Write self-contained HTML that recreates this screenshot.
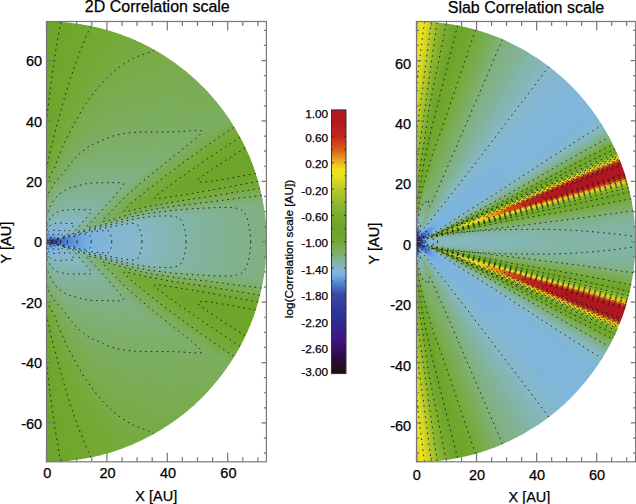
<!DOCTYPE html>
<html><head><meta charset="utf-8"><title>Correlation scale</title>
<style>
html,body{margin:0;padding:0;background:#fff;}
body{width:636px;height:504px;overflow:hidden;}
svg{display:block;font-family:"Liberation Sans",sans-serif;}
text{stroke:#000;stroke-width:0.25px;}
.tk{font-size:14.5px;fill:#000;}
.al{font-size:14.5px;fill:#000;}
.ti{font-size:16px;fill:#000;}
.cb{font-size:11.8px;fill:#000;}
.cbl{font-size:11.8px;fill:#000;}
</style></head><body>
<svg width="636" height="504" viewBox="0 0 636 504">
<rect width="636" height="504" fill="#fff"/>
<defs><radialGradient id="L0" gradientUnits="userSpaceOnUse" cx="0" cy="0" r="220.2"><stop offset="0.000" stop-color="#181010"/><stop offset="0.008" stop-color="#3f157e"/><stop offset="0.016" stop-color="#312b97"/><stop offset="0.027" stop-color="#3038a0"/><stop offset="0.041" stop-color="#3745a6"/><stop offset="0.058" stop-color="#425cb4"/><stop offset="0.075" stop-color="#4e76c6"/><stop offset="0.096" stop-color="#5585d0"/><stop offset="0.123" stop-color="#5e94d9"/><stop offset="0.158" stop-color="#6ba3de"/><stop offset="0.199" stop-color="#79b3e4"/><stop offset="0.247" stop-color="#7eb5db"/><stop offset="0.302" stop-color="#81b6d3"/><stop offset="0.370" stop-color="#84b7cd"/><stop offset="0.453" stop-color="#86b8c4"/><stop offset="0.549" stop-color="#84b6b4"/><stop offset="0.658" stop-color="#82b4a5"/><stop offset="0.782" stop-color="#81b396"/><stop offset="0.905" stop-color="#81b289"/><stop offset="1.000" stop-color="#80b180"/></radialGradient><radialGradient id="L1" gradientUnits="userSpaceOnUse" cx="0" cy="0" r="220.2"><stop offset="0.000" stop-color="#181010"/><stop offset="0.008" stop-color="#3f157e"/><stop offset="0.016" stop-color="#302b97"/><stop offset="0.027" stop-color="#3038a0"/><stop offset="0.041" stop-color="#3745a6"/><stop offset="0.058" stop-color="#425cb4"/><stop offset="0.075" stop-color="#4e76c6"/><stop offset="0.096" stop-color="#5585d0"/><stop offset="0.123" stop-color="#5e94d9"/><stop offset="0.158" stop-color="#6ba3de"/><stop offset="0.199" stop-color="#79b3e4"/><stop offset="0.247" stop-color="#7eb5db"/><stop offset="0.302" stop-color="#81b6d3"/><stop offset="0.370" stop-color="#84b7cd"/><stop offset="0.453" stop-color="#86b8c4"/><stop offset="0.549" stop-color="#84b6b4"/><stop offset="0.658" stop-color="#82b4a5"/><stop offset="0.782" stop-color="#81b396"/><stop offset="0.905" stop-color="#81b289"/><stop offset="1.000" stop-color="#80b180"/></radialGradient><radialGradient id="L2" gradientUnits="userSpaceOnUse" cx="0" cy="0" r="220.2"><stop offset="0.000" stop-color="#181010"/><stop offset="0.008" stop-color="#3f157e"/><stop offset="0.016" stop-color="#302b97"/><stop offset="0.027" stop-color="#3038a0"/><stop offset="0.041" stop-color="#3745a6"/><stop offset="0.058" stop-color="#425cb4"/><stop offset="0.075" stop-color="#4e76c6"/><stop offset="0.096" stop-color="#5585d0"/><stop offset="0.123" stop-color="#5e94d9"/><stop offset="0.158" stop-color="#6ba3de"/><stop offset="0.199" stop-color="#79b3e4"/><stop offset="0.247" stop-color="#7eb5db"/><stop offset="0.302" stop-color="#81b6d3"/><stop offset="0.370" stop-color="#84b7cd"/><stop offset="0.453" stop-color="#86b8c4"/><stop offset="0.549" stop-color="#84b6b4"/><stop offset="0.658" stop-color="#82b4a5"/><stop offset="0.782" stop-color="#81b396"/><stop offset="0.905" stop-color="#81b289"/><stop offset="1.000" stop-color="#80b180"/></radialGradient><radialGradient id="L3" gradientUnits="userSpaceOnUse" cx="0" cy="0" r="220.2"><stop offset="0.000" stop-color="#181010"/><stop offset="0.008" stop-color="#3f157e"/><stop offset="0.016" stop-color="#302b97"/><stop offset="0.027" stop-color="#3038a0"/><stop offset="0.041" stop-color="#3745a6"/><stop offset="0.058" stop-color="#425cb4"/><stop offset="0.075" stop-color="#4e76c6"/><stop offset="0.096" stop-color="#5585d0"/><stop offset="0.123" stop-color="#5e94d9"/><stop offset="0.158" stop-color="#6ba3de"/><stop offset="0.199" stop-color="#79b3e4"/><stop offset="0.247" stop-color="#7eb5db"/><stop offset="0.302" stop-color="#81b6d3"/><stop offset="0.370" stop-color="#84b7cd"/><stop offset="0.453" stop-color="#86b8c4"/><stop offset="0.549" stop-color="#84b6b4"/><stop offset="0.658" stop-color="#82b4a4"/><stop offset="0.782" stop-color="#81b396"/><stop offset="0.905" stop-color="#81b289"/><stop offset="1.000" stop-color="#80b17f"/></radialGradient><radialGradient id="L4" gradientUnits="userSpaceOnUse" cx="0" cy="0" r="220.2"><stop offset="0.000" stop-color="#181010"/><stop offset="0.008" stop-color="#3f157e"/><stop offset="0.016" stop-color="#302b97"/><stop offset="0.027" stop-color="#3039a0"/><stop offset="0.041" stop-color="#3745a6"/><stop offset="0.058" stop-color="#435cb4"/><stop offset="0.075" stop-color="#4e76c6"/><stop offset="0.096" stop-color="#5585d0"/><stop offset="0.123" stop-color="#5e94d9"/><stop offset="0.158" stop-color="#6ba4df"/><stop offset="0.199" stop-color="#79b3e4"/><stop offset="0.247" stop-color="#7eb5db"/><stop offset="0.302" stop-color="#81b6d3"/><stop offset="0.370" stop-color="#84b7cd"/><stop offset="0.453" stop-color="#86b8c4"/><stop offset="0.549" stop-color="#84b6b4"/><stop offset="0.658" stop-color="#82b4a4"/><stop offset="0.782" stop-color="#81b395"/><stop offset="0.905" stop-color="#81b289"/><stop offset="1.000" stop-color="#80b17f"/></radialGradient><radialGradient id="L5" gradientUnits="userSpaceOnUse" cx="0" cy="0" r="220.2"><stop offset="0.000" stop-color="#181010"/><stop offset="0.008" stop-color="#40157f"/><stop offset="0.016" stop-color="#302b97"/><stop offset="0.027" stop-color="#3039a0"/><stop offset="0.041" stop-color="#3745a6"/><stop offset="0.058" stop-color="#435db4"/><stop offset="0.075" stop-color="#4e76c6"/><stop offset="0.096" stop-color="#5585d1"/><stop offset="0.123" stop-color="#5e95da"/><stop offset="0.158" stop-color="#6ca4df"/><stop offset="0.199" stop-color="#79b3e4"/><stop offset="0.247" stop-color="#7eb5db"/><stop offset="0.302" stop-color="#82b7d2"/><stop offset="0.370" stop-color="#84b7cc"/><stop offset="0.453" stop-color="#86b8c4"/><stop offset="0.549" stop-color="#84b6b4"/><stop offset="0.658" stop-color="#82b4a4"/><stop offset="0.782" stop-color="#81b395"/><stop offset="0.905" stop-color="#81b289"/><stop offset="1.000" stop-color="#80b17f"/></radialGradient><radialGradient id="L6" gradientUnits="userSpaceOnUse" cx="0" cy="0" r="220.2"><stop offset="0.000" stop-color="#181010"/><stop offset="0.008" stop-color="#40157f"/><stop offset="0.016" stop-color="#302b97"/><stop offset="0.027" stop-color="#3039a0"/><stop offset="0.041" stop-color="#3745a6"/><stop offset="0.058" stop-color="#435db5"/><stop offset="0.075" stop-color="#4f76c6"/><stop offset="0.096" stop-color="#5586d1"/><stop offset="0.123" stop-color="#5e95da"/><stop offset="0.158" stop-color="#6ca4df"/><stop offset="0.199" stop-color="#79b3e4"/><stop offset="0.247" stop-color="#7eb5db"/><stop offset="0.302" stop-color="#82b7d2"/><stop offset="0.370" stop-color="#84b7cc"/><stop offset="0.453" stop-color="#86b8c4"/><stop offset="0.549" stop-color="#84b6b3"/><stop offset="0.658" stop-color="#82b4a4"/><stop offset="0.782" stop-color="#81b395"/><stop offset="0.905" stop-color="#81b288"/><stop offset="1.000" stop-color="#80b07f"/></radialGradient><radialGradient id="L7" gradientUnits="userSpaceOnUse" cx="0" cy="0" r="220.2"><stop offset="0.000" stop-color="#181010"/><stop offset="0.008" stop-color="#40157f"/><stop offset="0.016" stop-color="#302c97"/><stop offset="0.027" stop-color="#3039a0"/><stop offset="0.041" stop-color="#3745a6"/><stop offset="0.058" stop-color="#435db5"/><stop offset="0.075" stop-color="#4f77c6"/><stop offset="0.096" stop-color="#5586d1"/><stop offset="0.123" stop-color="#5e95da"/><stop offset="0.158" stop-color="#6ca4df"/><stop offset="0.199" stop-color="#7ab4e4"/><stop offset="0.247" stop-color="#7eb5db"/><stop offset="0.302" stop-color="#82b7d2"/><stop offset="0.370" stop-color="#84b7cc"/><stop offset="0.453" stop-color="#86b8c3"/><stop offset="0.549" stop-color="#84b6b3"/><stop offset="0.658" stop-color="#82b4a3"/><stop offset="0.782" stop-color="#81b395"/><stop offset="0.905" stop-color="#81b188"/><stop offset="1.000" stop-color="#80b07e"/></radialGradient><radialGradient id="L8" gradientUnits="userSpaceOnUse" cx="0" cy="0" r="220.2"><stop offset="0.000" stop-color="#181010"/><stop offset="0.008" stop-color="#401580"/><stop offset="0.016" stop-color="#302c98"/><stop offset="0.027" stop-color="#3139a0"/><stop offset="0.041" stop-color="#3846a6"/><stop offset="0.058" stop-color="#435eb5"/><stop offset="0.075" stop-color="#4f77c7"/><stop offset="0.096" stop-color="#5686d1"/><stop offset="0.123" stop-color="#5f95da"/><stop offset="0.158" stop-color="#6ca5df"/><stop offset="0.199" stop-color="#7ab4e4"/><stop offset="0.247" stop-color="#7eb5da"/><stop offset="0.302" stop-color="#82b7d2"/><stop offset="0.370" stop-color="#84b7cc"/><stop offset="0.453" stop-color="#85b7c3"/><stop offset="0.549" stop-color="#84b6b3"/><stop offset="0.658" stop-color="#82b4a3"/><stop offset="0.782" stop-color="#81b394"/><stop offset="0.905" stop-color="#81b187"/><stop offset="1.000" stop-color="#80b07e"/></radialGradient><radialGradient id="L9" gradientUnits="userSpaceOnUse" cx="0" cy="0" r="220.2"><stop offset="0.000" stop-color="#181010"/><stop offset="0.008" stop-color="#401580"/><stop offset="0.016" stop-color="#302c98"/><stop offset="0.027" stop-color="#3139a1"/><stop offset="0.041" stop-color="#3846a6"/><stop offset="0.058" stop-color="#445fb6"/><stop offset="0.075" stop-color="#4f78c7"/><stop offset="0.096" stop-color="#5687d2"/><stop offset="0.123" stop-color="#5f96da"/><stop offset="0.158" stop-color="#6da5df"/><stop offset="0.199" stop-color="#7ab4e3"/><stop offset="0.247" stop-color="#7eb5da"/><stop offset="0.302" stop-color="#82b7d2"/><stop offset="0.370" stop-color="#84b7cc"/><stop offset="0.453" stop-color="#85b7c2"/><stop offset="0.549" stop-color="#84b6b2"/><stop offset="0.658" stop-color="#82b4a2"/><stop offset="0.782" stop-color="#81b393"/><stop offset="0.905" stop-color="#81b186"/><stop offset="1.000" stop-color="#80b07c"/></radialGradient><radialGradient id="L10" gradientUnits="userSpaceOnUse" cx="0" cy="0" r="220.2"><stop offset="0.000" stop-color="#181010"/><stop offset="0.008" stop-color="#401580"/><stop offset="0.016" stop-color="#302c98"/><stop offset="0.027" stop-color="#313aa1"/><stop offset="0.041" stop-color="#3846a6"/><stop offset="0.058" stop-color="#4561b7"/><stop offset="0.075" stop-color="#5079c8"/><stop offset="0.096" stop-color="#5788d3"/><stop offset="0.123" stop-color="#6198db"/><stop offset="0.158" stop-color="#6fa8e0"/><stop offset="0.199" stop-color="#7bb4e2"/><stop offset="0.247" stop-color="#7fb6d8"/><stop offset="0.302" stop-color="#82b7d1"/><stop offset="0.370" stop-color="#84b7cc"/><stop offset="0.453" stop-color="#85b7c2"/><stop offset="0.549" stop-color="#84b6b1"/><stop offset="0.658" stop-color="#82b4a0"/><stop offset="0.782" stop-color="#81b28f"/><stop offset="0.905" stop-color="#80b181"/><stop offset="1.000" stop-color="#7fb077"/></radialGradient><radialGradient id="L11" gradientUnits="userSpaceOnUse" cx="0" cy="0" r="220.2"><stop offset="0.000" stop-color="#181010"/><stop offset="0.008" stop-color="#3f1681"/><stop offset="0.016" stop-color="#302d99"/><stop offset="0.027" stop-color="#313ba1"/><stop offset="0.041" stop-color="#3948a7"/><stop offset="0.058" stop-color="#4766bb"/><stop offset="0.075" stop-color="#517dcb"/><stop offset="0.096" stop-color="#588dd6"/><stop offset="0.123" stop-color="#659cdc"/><stop offset="0.158" stop-color="#74ade2"/><stop offset="0.199" stop-color="#7db5dd"/><stop offset="0.247" stop-color="#81b6d3"/><stop offset="0.302" stop-color="#83b7cf"/><stop offset="0.370" stop-color="#85b8cb"/><stop offset="0.453" stop-color="#85b7c0"/><stop offset="0.549" stop-color="#83b5ae"/><stop offset="0.658" stop-color="#82b39a"/><stop offset="0.782" stop-color="#81b186"/><stop offset="0.905" stop-color="#7fb077"/><stop offset="1.000" stop-color="#7eaf6d"/></radialGradient><radialGradient id="L12" gradientUnits="userSpaceOnUse" cx="0" cy="0" r="220.2"><stop offset="0.000" stop-color="#181010"/><stop offset="0.008" stop-color="#3d1883"/><stop offset="0.016" stop-color="#302f9a"/><stop offset="0.027" stop-color="#333da2"/><stop offset="0.041" stop-color="#3b4caa"/><stop offset="0.058" stop-color="#4d72c3"/><stop offset="0.075" stop-color="#5585d0"/><stop offset="0.096" stop-color="#5e95da"/><stop offset="0.123" stop-color="#6da6df"/><stop offset="0.158" stop-color="#7bb4e1"/><stop offset="0.199" stop-color="#80b6d6"/><stop offset="0.247" stop-color="#83b7ce"/><stop offset="0.302" stop-color="#85b8cb"/><stop offset="0.370" stop-color="#86b8c8"/><stop offset="0.453" stop-color="#85b7bb"/><stop offset="0.549" stop-color="#83b5a7"/><stop offset="0.658" stop-color="#81b28f"/><stop offset="0.782" stop-color="#7fb076"/><stop offset="0.905" stop-color="#7daf68"/><stop offset="1.000" stop-color="#7cae5f"/></radialGradient><radialGradient id="L13" gradientUnits="userSpaceOnUse" cx="0" cy="0" r="220.2"><stop offset="0.000" stop-color="#181010"/><stop offset="0.008" stop-color="#3a1c86"/><stop offset="0.016" stop-color="#30329c"/><stop offset="0.027" stop-color="#3642a4"/><stop offset="0.041" stop-color="#435eb5"/><stop offset="0.058" stop-color="#527ecb"/><stop offset="0.075" stop-color="#5a90d8"/><stop offset="0.096" stop-color="#69a0dd"/><stop offset="0.123" stop-color="#79b3e4"/><stop offset="0.158" stop-color="#7fb6d9"/><stop offset="0.199" stop-color="#83b7cf"/><stop offset="0.247" stop-color="#86b8c8"/><stop offset="0.302" stop-color="#85b7c1"/><stop offset="0.370" stop-color="#85b7bc"/><stop offset="0.453" stop-color="#84b6b0"/><stop offset="0.549" stop-color="#82b399"/><stop offset="0.658" stop-color="#80b07e"/><stop offset="0.782" stop-color="#7dae65"/><stop offset="0.905" stop-color="#7aad58"/><stop offset="1.000" stop-color="#79ac4e"/></radialGradient><radialGradient id="L14" gradientUnits="userSpaceOnUse" cx="0" cy="0" r="220.2"><stop offset="0.000" stop-color="#181010"/><stop offset="0.008" stop-color="#36218c"/><stop offset="0.016" stop-color="#30379f"/><stop offset="0.027" stop-color="#3948a7"/><stop offset="0.041" stop-color="#4d73c4"/><stop offset="0.058" stop-color="#588bd4"/><stop offset="0.075" stop-color="#659cdc"/><stop offset="0.096" stop-color="#75aee2"/><stop offset="0.123" stop-color="#7eb5db"/><stop offset="0.158" stop-color="#82b7d0"/><stop offset="0.199" stop-color="#86b8c9"/><stop offset="0.247" stop-color="#84b6b5"/><stop offset="0.302" stop-color="#83b5af"/><stop offset="0.370" stop-color="#83b5aa"/><stop offset="0.453" stop-color="#82b4a0"/><stop offset="0.549" stop-color="#81b188"/><stop offset="0.658" stop-color="#7eaf6b"/><stop offset="0.782" stop-color="#7aad54"/><stop offset="0.905" stop-color="#77ab46"/><stop offset="1.000" stop-color="#76aa3d"/></radialGradient><radialGradient id="L15" gradientUnits="userSpaceOnUse" cx="0" cy="0" r="220.2"><stop offset="0.000" stop-color="#181010"/><stop offset="0.008" stop-color="#332793"/><stop offset="0.016" stop-color="#333da2"/><stop offset="0.027" stop-color="#4159b2"/><stop offset="0.041" stop-color="#5380cd"/><stop offset="0.058" stop-color="#6097da"/><stop offset="0.075" stop-color="#71aae1"/><stop offset="0.096" stop-color="#7cb5de"/><stop offset="0.123" stop-color="#82b7d2"/><stop offset="0.158" stop-color="#85b8ca"/><stop offset="0.199" stop-color="#84b6b8"/><stop offset="0.247" stop-color="#82b4a3"/><stop offset="0.302" stop-color="#82b49c"/><stop offset="0.370" stop-color="#82b397"/><stop offset="0.453" stop-color="#81b28e"/><stop offset="0.549" stop-color="#7faf73"/><stop offset="0.658" stop-color="#7bad59"/><stop offset="0.782" stop-color="#77ab43"/><stop offset="0.905" stop-color="#74a936"/><stop offset="1.000" stop-color="#73a832"/></radialGradient><radialGradient id="L16" gradientUnits="userSpaceOnUse" cx="0" cy="0" r="220.2"><stop offset="0.000" stop-color="#181010"/><stop offset="0.008" stop-color="#302d99"/><stop offset="0.016" stop-color="#3643a5"/><stop offset="0.027" stop-color="#4b6fc1"/><stop offset="0.041" stop-color="#588cd5"/><stop offset="0.058" stop-color="#6ba3de"/><stop offset="0.075" stop-color="#7bb4e2"/><stop offset="0.096" stop-color="#80b6d6"/><stop offset="0.123" stop-color="#84b7cc"/><stop offset="0.158" stop-color="#85b7bd"/><stop offset="0.199" stop-color="#83b5a7"/><stop offset="0.247" stop-color="#81b392"/><stop offset="0.302" stop-color="#81b28a"/><stop offset="0.370" stop-color="#81b185"/><stop offset="0.453" stop-color="#80b079"/><stop offset="0.549" stop-color="#7cae60"/><stop offset="0.658" stop-color="#78ab48"/><stop offset="0.782" stop-color="#74a934"/><stop offset="0.905" stop-color="#72a831"/><stop offset="1.000" stop-color="#71a72f"/></radialGradient><radialGradient id="L17" gradientUnits="userSpaceOnUse" cx="0" cy="0" r="220.2"><stop offset="0.000" stop-color="#181010"/><stop offset="0.008" stop-color="#30319c"/><stop offset="0.016" stop-color="#3948a7"/><stop offset="0.027" stop-color="#507bc9"/><stop offset="0.041" stop-color="#6097da"/><stop offset="0.058" stop-color="#76afe2"/><stop offset="0.075" stop-color="#7eb5da"/><stop offset="0.096" stop-color="#83b7d0"/><stop offset="0.123" stop-color="#86b8c6"/><stop offset="0.158" stop-color="#83b5ae"/><stop offset="0.199" stop-color="#82b398"/><stop offset="0.247" stop-color="#80b182"/><stop offset="0.302" stop-color="#80b077"/><stop offset="0.370" stop-color="#7eaf70"/><stop offset="0.453" stop-color="#7dae66"/><stop offset="0.549" stop-color="#79ac50"/><stop offset="0.658" stop-color="#75aa39"/><stop offset="0.782" stop-color="#72a831"/><stop offset="0.905" stop-color="#70a72e"/><stop offset="1.000" stop-color="#6fa62c"/></radialGradient><radialGradient id="L18" gradientUnits="userSpaceOnUse" cx="0" cy="0" r="220.2"><stop offset="0.000" stop-color="#181010"/><stop offset="0.008" stop-color="#30359e"/><stop offset="0.016" stop-color="#3e52ae"/><stop offset="0.027" stop-color="#5483cf"/><stop offset="0.041" stop-color="#679fdd"/><stop offset="0.058" stop-color="#7bb4e1"/><stop offset="0.075" stop-color="#81b6d4"/><stop offset="0.096" stop-color="#85b8cb"/><stop offset="0.123" stop-color="#85b7ba"/><stop offset="0.158" stop-color="#82b4a2"/><stop offset="0.199" stop-color="#81b28c"/><stop offset="0.247" stop-color="#7fb075"/><stop offset="0.302" stop-color="#7daf68"/><stop offset="0.370" stop-color="#7cae60"/><stop offset="0.453" stop-color="#7aad56"/><stop offset="0.549" stop-color="#76aa40"/><stop offset="0.658" stop-color="#73a832"/><stop offset="0.782" stop-color="#70a72e"/><stop offset="0.905" stop-color="#6ea62b"/><stop offset="1.000" stop-color="#6ea52a"/></radialGradient><radialGradient id="L19" gradientUnits="userSpaceOnUse" cx="0" cy="0" r="220.2"><stop offset="0.000" stop-color="#181010"/><stop offset="0.008" stop-color="#30379f"/><stop offset="0.016" stop-color="#425ab3"/><stop offset="0.027" stop-color="#5788d3"/><stop offset="0.041" stop-color="#6ca4df"/><stop offset="0.058" stop-color="#7db5de"/><stop offset="0.075" stop-color="#82b7d1"/><stop offset="0.096" stop-color="#85b8c9"/><stop offset="0.123" stop-color="#84b6b3"/><stop offset="0.158" stop-color="#82b49c"/><stop offset="0.199" stop-color="#81b185"/><stop offset="0.247" stop-color="#7eaf6e"/><stop offset="0.302" stop-color="#7cae5e"/><stop offset="0.370" stop-color="#7aad54"/><stop offset="0.453" stop-color="#77ab47"/><stop offset="0.549" stop-color="#74a934"/><stop offset="0.658" stop-color="#71a72f"/><stop offset="0.782" stop-color="#6fa62c"/><stop offset="0.905" stop-color="#6ea52a"/><stop offset="1.000" stop-color="#6da52a"/></radialGradient><radialGradient id="L20" gradientUnits="userSpaceOnUse" cx="0" cy="0" r="220.2"><stop offset="0.000" stop-color="#181010"/><stop offset="0.008" stop-color="#30379f"/><stop offset="0.016" stop-color="#425bb3"/><stop offset="0.027" stop-color="#5789d3"/><stop offset="0.041" stop-color="#6ca5df"/><stop offset="0.058" stop-color="#7db5dd"/><stop offset="0.075" stop-color="#82b7d1"/><stop offset="0.096" stop-color="#86b8c9"/><stop offset="0.123" stop-color="#84b6b3"/><stop offset="0.158" stop-color="#82b49b"/><stop offset="0.199" stop-color="#81b185"/><stop offset="0.247" stop-color="#7eaf6d"/><stop offset="0.302" stop-color="#7bad5a"/><stop offset="0.370" stop-color="#78ac4a"/><stop offset="0.453" stop-color="#75aa3c"/><stop offset="0.549" stop-color="#72a831"/><stop offset="0.658" stop-color="#70a62d"/><stop offset="0.782" stop-color="#6ea52b"/><stop offset="0.905" stop-color="#6da52a"/><stop offset="1.000" stop-color="#6da529"/></radialGradient><radialGradient id="L21" gradientUnits="userSpaceOnUse" cx="0" cy="0" r="220.2"><stop offset="0.000" stop-color="#181010"/><stop offset="0.008" stop-color="#30379f"/><stop offset="0.016" stop-color="#4159b2"/><stop offset="0.027" stop-color="#5687d2"/><stop offset="0.041" stop-color="#6ba3de"/><stop offset="0.058" stop-color="#7cb5df"/><stop offset="0.075" stop-color="#82b7d2"/><stop offset="0.096" stop-color="#85b8ca"/><stop offset="0.123" stop-color="#84b6b6"/><stop offset="0.158" stop-color="#82b49e"/><stop offset="0.199" stop-color="#81b188"/><stop offset="0.247" stop-color="#7faf71"/><stop offset="0.302" stop-color="#7bae5c"/><stop offset="0.370" stop-color="#77ab47"/><stop offset="0.453" stop-color="#74a935"/><stop offset="0.549" stop-color="#72a830"/><stop offset="0.658" stop-color="#6fa62c"/><stop offset="0.782" stop-color="#6ea52b"/><stop offset="0.905" stop-color="#6da52a"/><stop offset="1.000" stop-color="#6da529"/></radialGradient><radialGradient id="L22" gradientUnits="userSpaceOnUse" cx="0" cy="0" r="220.2"><stop offset="0.000" stop-color="#181010"/><stop offset="0.008" stop-color="#30369f"/><stop offset="0.016" stop-color="#4056b0"/><stop offset="0.027" stop-color="#5585d1"/><stop offset="0.041" stop-color="#69a1de"/><stop offset="0.058" stop-color="#7cb5e0"/><stop offset="0.075" stop-color="#81b6d3"/><stop offset="0.096" stop-color="#85b8cb"/><stop offset="0.123" stop-color="#84b6b9"/><stop offset="0.158" stop-color="#82b4a2"/><stop offset="0.199" stop-color="#81b28c"/><stop offset="0.247" stop-color="#7fb075"/><stop offset="0.302" stop-color="#7cae60"/><stop offset="0.370" stop-color="#78ac49"/><stop offset="0.453" stop-color="#74a935"/><stop offset="0.549" stop-color="#72a830"/><stop offset="0.658" stop-color="#6fa62c"/><stop offset="0.782" stop-color="#6ea52b"/><stop offset="0.905" stop-color="#6da52a"/><stop offset="1.000" stop-color="#6da529"/></radialGradient><radialGradient id="L23" gradientUnits="userSpaceOnUse" cx="0" cy="0" r="220.2"><stop offset="0.000" stop-color="#181010"/><stop offset="0.008" stop-color="#30359e"/><stop offset="0.016" stop-color="#3e53ae"/><stop offset="0.027" stop-color="#5484cf"/><stop offset="0.041" stop-color="#679fdd"/><stop offset="0.058" stop-color="#7bb4e1"/><stop offset="0.075" stop-color="#81b6d4"/><stop offset="0.096" stop-color="#84b7cc"/><stop offset="0.123" stop-color="#85b7bc"/><stop offset="0.158" stop-color="#83b5a5"/><stop offset="0.199" stop-color="#81b290"/><stop offset="0.247" stop-color="#80b07a"/><stop offset="0.302" stop-color="#7cae64"/><stop offset="0.370" stop-color="#79ac4e"/><stop offset="0.453" stop-color="#75aa3a"/><stop offset="0.549" stop-color="#72a831"/><stop offset="0.658" stop-color="#70a72e"/><stop offset="0.782" stop-color="#6ea62b"/><stop offset="0.905" stop-color="#6ea52a"/><stop offset="1.000" stop-color="#6da52a"/></radialGradient><radialGradient id="L24" gradientUnits="userSpaceOnUse" cx="0" cy="0" r="220.2"><stop offset="0.000" stop-color="#181010"/><stop offset="0.008" stop-color="#30349e"/><stop offset="0.016" stop-color="#3d50ac"/><stop offset="0.027" stop-color="#5482ce"/><stop offset="0.041" stop-color="#669ddc"/><stop offset="0.058" stop-color="#7bb4e3"/><stop offset="0.075" stop-color="#80b6d6"/><stop offset="0.096" stop-color="#84b7cd"/><stop offset="0.123" stop-color="#85b7bf"/><stop offset="0.158" stop-color="#83b5a9"/><stop offset="0.199" stop-color="#81b394"/><stop offset="0.247" stop-color="#80b17f"/><stop offset="0.302" stop-color="#7daf69"/><stop offset="0.370" stop-color="#7aad54"/><stop offset="0.453" stop-color="#76aa3f"/><stop offset="0.549" stop-color="#73a933"/><stop offset="0.658" stop-color="#71a72f"/><stop offset="0.782" stop-color="#6fa62c"/><stop offset="0.905" stop-color="#6ea52b"/><stop offset="1.000" stop-color="#6ea52a"/></radialGradient><radialGradient id="L25" gradientUnits="userSpaceOnUse" cx="0" cy="0" r="220.2"><stop offset="0.000" stop-color="#1d0f1c"/><stop offset="0.008" stop-color="#30349d"/><stop offset="0.016" stop-color="#3c4daa"/><stop offset="0.027" stop-color="#5380cd"/><stop offset="0.041" stop-color="#649bdc"/><stop offset="0.058" stop-color="#7ab4e4"/><stop offset="0.075" stop-color="#80b6d7"/><stop offset="0.096" stop-color="#83b7ce"/><stop offset="0.123" stop-color="#85b7c2"/><stop offset="0.158" stop-color="#83b5ac"/><stop offset="0.199" stop-color="#82b398"/><stop offset="0.247" stop-color="#81b184"/><stop offset="0.302" stop-color="#7eaf6e"/><stop offset="0.370" stop-color="#7bad59"/><stop offset="0.453" stop-color="#77ab45"/><stop offset="0.549" stop-color="#74a936"/><stop offset="0.658" stop-color="#72a831"/><stop offset="0.782" stop-color="#70a72e"/><stop offset="0.905" stop-color="#6fa62c"/><stop offset="1.000" stop-color="#6ea62b"/></radialGradient><radialGradient id="L26" gradientUnits="userSpaceOnUse" cx="0" cy="0" r="220.2"><stop offset="0.000" stop-color="#250d31"/><stop offset="0.008" stop-color="#30339d"/><stop offset="0.016" stop-color="#3a4ba8"/><stop offset="0.027" stop-color="#527ecc"/><stop offset="0.041" stop-color="#6299db"/><stop offset="0.058" stop-color="#78b2e3"/><stop offset="0.075" stop-color="#7fb6d9"/><stop offset="0.096" stop-color="#83b7cf"/><stop offset="0.123" stop-color="#86b8c6"/><stop offset="0.158" stop-color="#84b6b0"/><stop offset="0.199" stop-color="#82b49b"/><stop offset="0.247" stop-color="#81b289"/><stop offset="0.302" stop-color="#7faf73"/><stop offset="0.370" stop-color="#7bae5e"/><stop offset="0.453" stop-color="#78ac4b"/><stop offset="0.549" stop-color="#75aa3c"/><stop offset="0.658" stop-color="#73a933"/><stop offset="0.782" stop-color="#72a830"/><stop offset="0.905" stop-color="#70a72e"/><stop offset="1.000" stop-color="#6fa62c"/></radialGradient><radialGradient id="L27" gradientUnits="userSpaceOnUse" cx="0" cy="0" r="220.2"><stop offset="0.000" stop-color="#2d0d46"/><stop offset="0.008" stop-color="#30349d"/><stop offset="0.016" stop-color="#3a49a8"/><stop offset="0.027" stop-color="#517cca"/><stop offset="0.041" stop-color="#6198db"/><stop offset="0.058" stop-color="#76b0e3"/><stop offset="0.075" stop-color="#7eb5da"/><stop offset="0.096" stop-color="#83b7d0"/><stop offset="0.123" stop-color="#86b8c8"/><stop offset="0.158" stop-color="#84b6b4"/><stop offset="0.199" stop-color="#82b49f"/><stop offset="0.247" stop-color="#81b28d"/><stop offset="0.302" stop-color="#80b078"/><stop offset="0.370" stop-color="#7cae62"/><stop offset="0.453" stop-color="#79ad51"/><stop offset="0.549" stop-color="#77ab42"/><stop offset="0.658" stop-color="#74a936"/><stop offset="0.782" stop-color="#73a832"/><stop offset="0.905" stop-color="#72a830"/><stop offset="1.000" stop-color="#71a72f"/></radialGradient><radialGradient id="L28" gradientUnits="userSpaceOnUse" cx="0" cy="0" r="220.2"><stop offset="0.000" stop-color="#320f57"/><stop offset="0.008" stop-color="#3038a0"/><stop offset="0.016" stop-color="#3a49a8"/><stop offset="0.027" stop-color="#507bc9"/><stop offset="0.041" stop-color="#5f96da"/><stop offset="0.058" stop-color="#74ade2"/><stop offset="0.075" stop-color="#7eb5dc"/><stop offset="0.096" stop-color="#82b7d1"/><stop offset="0.123" stop-color="#85b8c9"/><stop offset="0.158" stop-color="#84b6b7"/><stop offset="0.199" stop-color="#82b4a3"/><stop offset="0.247" stop-color="#81b292"/><stop offset="0.302" stop-color="#80b07d"/><stop offset="0.370" stop-color="#7daf68"/><stop offset="0.453" stop-color="#7aad57"/><stop offset="0.549" stop-color="#78ac49"/><stop offset="0.658" stop-color="#76aa3e"/><stop offset="0.782" stop-color="#74a934"/><stop offset="0.905" stop-color="#73a832"/><stop offset="1.000" stop-color="#72a831"/></radialGradient><radialGradient id="L29" gradientUnits="userSpaceOnUse" cx="0" cy="0" r="220.2"><stop offset="0.000" stop-color="#371065"/><stop offset="0.008" stop-color="#333da2"/><stop offset="0.016" stop-color="#3e53ae"/><stop offset="0.027" stop-color="#517bc9"/><stop offset="0.041" stop-color="#5e95da"/><stop offset="0.058" stop-color="#72abe1"/><stop offset="0.075" stop-color="#7db5dd"/><stop offset="0.096" stop-color="#82b7d2"/><stop offset="0.123" stop-color="#85b8cb"/><stop offset="0.158" stop-color="#85b7bb"/><stop offset="0.199" stop-color="#83b5a8"/><stop offset="0.247" stop-color="#81b396"/><stop offset="0.302" stop-color="#80b183"/><stop offset="0.370" stop-color="#7eaf6d"/><stop offset="0.453" stop-color="#7bae5c"/><stop offset="0.549" stop-color="#79ac50"/><stop offset="0.658" stop-color="#77ab45"/><stop offset="0.782" stop-color="#75aa3c"/><stop offset="0.905" stop-color="#74a936"/><stop offset="1.000" stop-color="#74a933"/></radialGradient><radialGradient id="L30" gradientUnits="userSpaceOnUse" cx="0" cy="0" r="220.2"><stop offset="0.000" stop-color="#3b1271"/><stop offset="0.008" stop-color="#3541a4"/><stop offset="0.016" stop-color="#4460b6"/><stop offset="0.027" stop-color="#5381cd"/><stop offset="0.041" stop-color="#5f96da"/><stop offset="0.058" stop-color="#72abe1"/><stop offset="0.075" stop-color="#7cb5de"/><stop offset="0.096" stop-color="#81b6d3"/><stop offset="0.123" stop-color="#84b7cc"/><stop offset="0.158" stop-color="#85b7be"/><stop offset="0.199" stop-color="#83b5ac"/><stop offset="0.247" stop-color="#82b39a"/><stop offset="0.302" stop-color="#81b288"/><stop offset="0.370" stop-color="#7faf73"/><stop offset="0.453" stop-color="#7cae62"/><stop offset="0.549" stop-color="#7aad57"/><stop offset="0.658" stop-color="#78ac4d"/><stop offset="0.782" stop-color="#77ab44"/><stop offset="0.905" stop-color="#76aa3f"/><stop offset="1.000" stop-color="#75aa3c"/></radialGradient><radialGradient id="L31" gradientUnits="userSpaceOnUse" cx="0" cy="0" r="220.2"><stop offset="0.000" stop-color="#3e147a"/><stop offset="0.008" stop-color="#3644a5"/><stop offset="0.016" stop-color="#4869bd"/><stop offset="0.027" stop-color="#5586d1"/><stop offset="0.041" stop-color="#639adb"/><stop offset="0.058" stop-color="#74ade2"/><stop offset="0.075" stop-color="#7db5de"/><stop offset="0.096" stop-color="#81b6d4"/><stop offset="0.123" stop-color="#84b7cd"/><stop offset="0.158" stop-color="#85b7c2"/><stop offset="0.199" stop-color="#84b6af"/><stop offset="0.247" stop-color="#82b49f"/><stop offset="0.302" stop-color="#81b28d"/><stop offset="0.370" stop-color="#80b079"/><stop offset="0.453" stop-color="#7daf68"/><stop offset="0.549" stop-color="#7bae5d"/><stop offset="0.658" stop-color="#7aad55"/><stop offset="0.782" stop-color="#79ac4d"/><stop offset="0.905" stop-color="#78ab48"/><stop offset="1.000" stop-color="#77ab45"/></radialGradient><radialGradient id="L32" gradientUnits="userSpaceOnUse" cx="0" cy="0" r="220.2"><stop offset="0.000" stop-color="#401580"/><stop offset="0.008" stop-color="#3846a6"/><stop offset="0.016" stop-color="#4c71c2"/><stop offset="0.027" stop-color="#578ad4"/><stop offset="0.041" stop-color="#669edd"/><stop offset="0.058" stop-color="#77b0e3"/><stop offset="0.075" stop-color="#7db5dc"/><stop offset="0.096" stop-color="#81b6d3"/><stop offset="0.123" stop-color="#84b7cd"/><stop offset="0.158" stop-color="#86b8c4"/><stop offset="0.199" stop-color="#84b6b3"/><stop offset="0.247" stop-color="#82b4a3"/><stop offset="0.302" stop-color="#81b392"/><stop offset="0.370" stop-color="#80b17f"/><stop offset="0.453" stop-color="#7eaf6e"/><stop offset="0.549" stop-color="#7cae64"/><stop offset="0.658" stop-color="#7bae5c"/><stop offset="0.782" stop-color="#7aad56"/><stop offset="0.905" stop-color="#79ad52"/><stop offset="1.000" stop-color="#79ac50"/></radialGradient><radialGradient id="L33" gradientUnits="userSpaceOnUse" cx="0" cy="0" r="220.2"><stop offset="0.000" stop-color="#3e1782"/><stop offset="0.008" stop-color="#3847a7"/><stop offset="0.016" stop-color="#4d74c4"/><stop offset="0.027" stop-color="#588dd6"/><stop offset="0.041" stop-color="#69a1de"/><stop offset="0.058" stop-color="#79b3e4"/><stop offset="0.075" stop-color="#7eb5db"/><stop offset="0.096" stop-color="#82b7d2"/><stop offset="0.123" stop-color="#84b7cd"/><stop offset="0.158" stop-color="#86b8c5"/><stop offset="0.199" stop-color="#84b6b5"/><stop offset="0.247" stop-color="#83b5a7"/><stop offset="0.302" stop-color="#82b397"/><stop offset="0.370" stop-color="#81b185"/><stop offset="0.453" stop-color="#7fb075"/><stop offset="0.549" stop-color="#7daf6a"/><stop offset="0.658" stop-color="#7cae63"/><stop offset="0.782" stop-color="#7bae5e"/><stop offset="0.905" stop-color="#7bad5b"/><stop offset="1.000" stop-color="#7bad59"/></radialGradient><radialGradient id="L34" gradientUnits="userSpaceOnUse" cx="0" cy="0" r="220.2"><stop offset="0.000" stop-color="#3d1883"/><stop offset="0.008" stop-color="#3948a7"/><stop offset="0.016" stop-color="#4e76c6"/><stop offset="0.027" stop-color="#598fd7"/><stop offset="0.041" stop-color="#6ba3de"/><stop offset="0.058" stop-color="#7ab4e3"/><stop offset="0.075" stop-color="#7fb6d9"/><stop offset="0.096" stop-color="#82b7d2"/><stop offset="0.123" stop-color="#84b7cc"/><stop offset="0.158" stop-color="#86b8c4"/><stop offset="0.199" stop-color="#84b6b6"/><stop offset="0.247" stop-color="#83b5a9"/><stop offset="0.302" stop-color="#82b39a"/><stop offset="0.370" stop-color="#81b28b"/><stop offset="0.453" stop-color="#80b07b"/><stop offset="0.549" stop-color="#7faf71"/><stop offset="0.658" stop-color="#7daf6a"/><stop offset="0.782" stop-color="#7dae65"/><stop offset="0.905" stop-color="#7cae61"/><stop offset="1.000" stop-color="#7bae5e"/></radialGradient><radialGradient id="L35" gradientUnits="userSpaceOnUse" cx="0" cy="0" r="220.2"><stop offset="0.000" stop-color="#3c1984"/><stop offset="0.008" stop-color="#3949a7"/><stop offset="0.016" stop-color="#4f77c7"/><stop offset="0.027" stop-color="#5a90d8"/><stop offset="0.041" stop-color="#6ca5df"/><stop offset="0.058" stop-color="#7bb4e2"/><stop offset="0.075" stop-color="#7fb6d8"/><stop offset="0.096" stop-color="#82b7d1"/><stop offset="0.123" stop-color="#85b8cb"/><stop offset="0.158" stop-color="#85b7c2"/><stop offset="0.199" stop-color="#84b6b5"/><stop offset="0.247" stop-color="#83b5a9"/><stop offset="0.302" stop-color="#82b49c"/><stop offset="0.370" stop-color="#81b28f"/><stop offset="0.453" stop-color="#80b181"/><stop offset="0.549" stop-color="#80b077"/><stop offset="0.658" stop-color="#7eaf6f"/><stop offset="0.782" stop-color="#7daf68"/><stop offset="0.905" stop-color="#7cae62"/><stop offset="1.000" stop-color="#7bae5e"/></radialGradient><radialGradient id="L36" gradientUnits="userSpaceOnUse" cx="0" cy="0" r="220.2"><stop offset="0.000" stop-color="#3c1a84"/><stop offset="0.008" stop-color="#3a49a8"/><stop offset="0.016" stop-color="#5079c8"/><stop offset="0.027" stop-color="#5b92d9"/><stop offset="0.041" stop-color="#6ea6df"/><stop offset="0.058" stop-color="#7bb4e1"/><stop offset="0.075" stop-color="#80b6d7"/><stop offset="0.096" stop-color="#83b7d0"/><stop offset="0.123" stop-color="#85b8cb"/><stop offset="0.158" stop-color="#85b7c1"/><stop offset="0.199" stop-color="#84b6b4"/><stop offset="0.247" stop-color="#83b5a8"/><stop offset="0.302" stop-color="#82b49c"/><stop offset="0.370" stop-color="#81b290"/><stop offset="0.453" stop-color="#81b185"/><stop offset="0.549" stop-color="#80b07a"/><stop offset="0.658" stop-color="#7eaf71"/><stop offset="0.782" stop-color="#7daf68"/><stop offset="0.905" stop-color="#7cae61"/><stop offset="1.000" stop-color="#7bae5c"/></radialGradient><radialGradient id="L37" gradientUnits="userSpaceOnUse" cx="0" cy="0" r="220.2"><stop offset="0.000" stop-color="#3b1b85"/><stop offset="0.008" stop-color="#3a4aa8"/><stop offset="0.016" stop-color="#507ac8"/><stop offset="0.027" stop-color="#5c93d9"/><stop offset="0.041" stop-color="#6fa7e0"/><stop offset="0.058" stop-color="#7cb5e0"/><stop offset="0.075" stop-color="#80b6d6"/><stop offset="0.096" stop-color="#83b7d0"/><stop offset="0.123" stop-color="#85b8ca"/><stop offset="0.158" stop-color="#85b7bf"/><stop offset="0.199" stop-color="#84b6b2"/><stop offset="0.247" stop-color="#83b5a6"/><stop offset="0.302" stop-color="#82b39b"/><stop offset="0.370" stop-color="#81b290"/><stop offset="0.453" stop-color="#81b185"/><stop offset="0.549" stop-color="#80b07a"/><stop offset="0.658" stop-color="#7eaf70"/><stop offset="0.782" stop-color="#7dae67"/><stop offset="0.905" stop-color="#7cae5f"/><stop offset="1.000" stop-color="#7bad5b"/></radialGradient><radialGradient id="L38" gradientUnits="userSpaceOnUse" cx="0" cy="0" r="220.2"><stop offset="0.000" stop-color="#3a1b86"/><stop offset="0.008" stop-color="#3b4ca9"/><stop offset="0.016" stop-color="#507bc9"/><stop offset="0.027" stop-color="#5d94d9"/><stop offset="0.041" stop-color="#70a8e0"/><stop offset="0.058" stop-color="#7cb5df"/><stop offset="0.075" stop-color="#80b6d6"/><stop offset="0.096" stop-color="#83b7cf"/><stop offset="0.123" stop-color="#85b8ca"/><stop offset="0.158" stop-color="#85b7be"/><stop offset="0.199" stop-color="#84b6b1"/><stop offset="0.247" stop-color="#82b4a5"/><stop offset="0.302" stop-color="#82b39a"/><stop offset="0.370" stop-color="#81b28f"/><stop offset="0.453" stop-color="#81b184"/><stop offset="0.549" stop-color="#80b079"/><stop offset="0.658" stop-color="#7eaf6f"/><stop offset="0.782" stop-color="#7dae65"/><stop offset="0.905" stop-color="#7bae5e"/><stop offset="1.000" stop-color="#7bad5a"/></radialGradient><radialGradient id="L39" gradientUnits="userSpaceOnUse" cx="0" cy="0" r="220.2"><stop offset="0.000" stop-color="#3a1c86"/><stop offset="0.008" stop-color="#3c4daa"/><stop offset="0.016" stop-color="#517cca"/><stop offset="0.027" stop-color="#5e94d9"/><stop offset="0.041" stop-color="#70a9e0"/><stop offset="0.058" stop-color="#7cb5df"/><stop offset="0.075" stop-color="#80b6d5"/><stop offset="0.096" stop-color="#83b7cf"/><stop offset="0.123" stop-color="#86b8c9"/><stop offset="0.158" stop-color="#85b7bd"/><stop offset="0.199" stop-color="#84b6b0"/><stop offset="0.247" stop-color="#82b4a4"/><stop offset="0.302" stop-color="#82b399"/><stop offset="0.370" stop-color="#81b28e"/><stop offset="0.453" stop-color="#80b183"/><stop offset="0.549" stop-color="#80b077"/><stop offset="0.658" stop-color="#7eaf6d"/><stop offset="0.782" stop-color="#7cae64"/><stop offset="0.905" stop-color="#7bae5d"/><stop offset="1.000" stop-color="#7bad58"/></radialGradient><radialGradient id="L40" gradientUnits="userSpaceOnUse" cx="0" cy="0" r="220.2"><stop offset="0.000" stop-color="#391c87"/><stop offset="0.008" stop-color="#3c4fab"/><stop offset="0.016" stop-color="#517dca"/><stop offset="0.027" stop-color="#5f95da"/><stop offset="0.041" stop-color="#71aae1"/><stop offset="0.058" stop-color="#7db5de"/><stop offset="0.075" stop-color="#81b6d4"/><stop offset="0.096" stop-color="#83b7ce"/><stop offset="0.123" stop-color="#86b8c9"/><stop offset="0.158" stop-color="#85b7bb"/><stop offset="0.199" stop-color="#83b5ae"/><stop offset="0.247" stop-color="#82b4a2"/><stop offset="0.302" stop-color="#82b398"/><stop offset="0.370" stop-color="#81b28d"/><stop offset="0.453" stop-color="#80b182"/><stop offset="0.549" stop-color="#7fb076"/><stop offset="0.658" stop-color="#7eaf6c"/><stop offset="0.782" stop-color="#7cae63"/><stop offset="0.905" stop-color="#7bae5c"/><stop offset="1.000" stop-color="#7aad57"/></radialGradient><radialGradient id="L41" gradientUnits="userSpaceOnUse" cx="0" cy="0" r="220.2"><stop offset="0.000" stop-color="#391d87"/><stop offset="0.008" stop-color="#3d50ac"/><stop offset="0.016" stop-color="#527dcb"/><stop offset="0.027" stop-color="#5f96da"/><stop offset="0.041" stop-color="#72abe1"/><stop offset="0.058" stop-color="#7db5de"/><stop offset="0.075" stop-color="#81b6d4"/><stop offset="0.096" stop-color="#83b7ce"/><stop offset="0.123" stop-color="#86b8c8"/><stop offset="0.158" stop-color="#85b7ba"/><stop offset="0.199" stop-color="#83b5ad"/><stop offset="0.247" stop-color="#82b4a1"/><stop offset="0.302" stop-color="#82b397"/><stop offset="0.370" stop-color="#81b28c"/><stop offset="0.453" stop-color="#80b180"/><stop offset="0.549" stop-color="#7fb075"/><stop offset="0.658" stop-color="#7eaf6b"/><stop offset="0.782" stop-color="#7cae62"/><stop offset="0.905" stop-color="#7bad5b"/><stop offset="1.000" stop-color="#7aad56"/></radialGradient><radialGradient id="L42" gradientUnits="userSpaceOnUse" cx="0" cy="0" r="220.2"><stop offset="0.000" stop-color="#391d87"/><stop offset="0.008" stop-color="#3d51ad"/><stop offset="0.016" stop-color="#527ecc"/><stop offset="0.027" stop-color="#6097da"/><stop offset="0.041" stop-color="#73ace1"/><stop offset="0.058" stop-color="#7db5dd"/><stop offset="0.075" stop-color="#81b6d3"/><stop offset="0.096" stop-color="#84b7ce"/><stop offset="0.123" stop-color="#86b8c8"/><stop offset="0.158" stop-color="#85b7b9"/><stop offset="0.199" stop-color="#83b5ac"/><stop offset="0.247" stop-color="#82b4a0"/><stop offset="0.302" stop-color="#81b396"/><stop offset="0.370" stop-color="#81b28b"/><stop offset="0.453" stop-color="#80b17f"/><stop offset="0.549" stop-color="#7faf74"/><stop offset="0.658" stop-color="#7daf6a"/><stop offset="0.782" stop-color="#7cae61"/><stop offset="0.905" stop-color="#7bad5a"/><stop offset="1.000" stop-color="#7aad55"/></radialGradient><radialGradient id="L43" gradientUnits="userSpaceOnUse" cx="0" cy="0" r="220.2"><stop offset="0.000" stop-color="#381e88"/><stop offset="0.008" stop-color="#3e53ae"/><stop offset="0.016" stop-color="#527fcc"/><stop offset="0.027" stop-color="#6097da"/><stop offset="0.041" stop-color="#73ade2"/><stop offset="0.058" stop-color="#7db5dd"/><stop offset="0.075" stop-color="#81b6d3"/><stop offset="0.096" stop-color="#84b7cd"/><stop offset="0.123" stop-color="#86b8c7"/><stop offset="0.158" stop-color="#84b6b8"/><stop offset="0.199" stop-color="#83b5ab"/><stop offset="0.247" stop-color="#82b49f"/><stop offset="0.302" stop-color="#81b395"/><stop offset="0.370" stop-color="#81b28a"/><stop offset="0.453" stop-color="#80b07e"/><stop offset="0.549" stop-color="#7faf73"/><stop offset="0.658" stop-color="#7daf69"/><stop offset="0.782" stop-color="#7cae60"/><stop offset="0.905" stop-color="#7bad59"/><stop offset="1.000" stop-color="#7aad54"/></radialGradient><radialGradient id="L44" gradientUnits="userSpaceOnUse" cx="0" cy="0" r="220.2"><stop offset="0.000" stop-color="#381e88"/><stop offset="0.008" stop-color="#3f54ae"/><stop offset="0.016" stop-color="#5380cd"/><stop offset="0.027" stop-color="#6198db"/><stop offset="0.041" stop-color="#74ade2"/><stop offset="0.058" stop-color="#7db5dc"/><stop offset="0.075" stop-color="#81b6d3"/><stop offset="0.096" stop-color="#84b7cd"/><stop offset="0.123" stop-color="#86b8c6"/><stop offset="0.158" stop-color="#84b6b7"/><stop offset="0.199" stop-color="#83b5aa"/><stop offset="0.247" stop-color="#82b49e"/><stop offset="0.302" stop-color="#81b394"/><stop offset="0.370" stop-color="#81b289"/><stop offset="0.453" stop-color="#80b07d"/><stop offset="0.549" stop-color="#7faf72"/><stop offset="0.658" stop-color="#7daf68"/><stop offset="0.782" stop-color="#7cae5f"/><stop offset="0.905" stop-color="#7bad58"/><stop offset="1.000" stop-color="#7aad53"/></radialGradient><radialGradient id="L45" gradientUnits="userSpaceOnUse" cx="0" cy="0" r="220.2"><stop offset="0.000" stop-color="#381f89"/><stop offset="0.008" stop-color="#3f55af"/><stop offset="0.016" stop-color="#5380cd"/><stop offset="0.027" stop-color="#6198db"/><stop offset="0.041" stop-color="#75aee2"/><stop offset="0.058" stop-color="#7eb5dc"/><stop offset="0.075" stop-color="#82b7d2"/><stop offset="0.096" stop-color="#84b7cd"/><stop offset="0.123" stop-color="#86b8c5"/><stop offset="0.158" stop-color="#84b6b7"/><stop offset="0.199" stop-color="#83b5a9"/><stop offset="0.247" stop-color="#82b49d"/><stop offset="0.302" stop-color="#81b393"/><stop offset="0.370" stop-color="#81b188"/><stop offset="0.453" stop-color="#80b07c"/><stop offset="0.549" stop-color="#7faf71"/><stop offset="0.658" stop-color="#7dae67"/><stop offset="0.782" stop-color="#7cae5e"/><stop offset="0.905" stop-color="#7aad57"/><stop offset="1.000" stop-color="#7aad52"/></radialGradient><radialGradient id="L46" gradientUnits="userSpaceOnUse" cx="0" cy="0" r="220.2"><stop offset="0.000" stop-color="#381f89"/><stop offset="0.008" stop-color="#4056b0"/><stop offset="0.016" stop-color="#5381cd"/><stop offset="0.027" stop-color="#6299db"/><stop offset="0.041" stop-color="#75afe2"/><stop offset="0.058" stop-color="#7eb5db"/><stop offset="0.075" stop-color="#82b7d2"/><stop offset="0.096" stop-color="#84b7cc"/><stop offset="0.123" stop-color="#86b8c4"/><stop offset="0.158" stop-color="#84b6b6"/><stop offset="0.199" stop-color="#83b5a9"/><stop offset="0.247" stop-color="#82b49c"/><stop offset="0.302" stop-color="#81b392"/><stop offset="0.370" stop-color="#81b187"/><stop offset="0.453" stop-color="#80b07b"/><stop offset="0.549" stop-color="#7eaf70"/><stop offset="0.658" stop-color="#7dae66"/><stop offset="0.782" stop-color="#7bae5e"/><stop offset="0.905" stop-color="#7aad57"/><stop offset="1.000" stop-color="#79ad52"/></radialGradient><radialGradient id="L47" gradientUnits="userSpaceOnUse" cx="0" cy="0" r="220.2"><stop offset="0.000" stop-color="#371f89"/><stop offset="0.008" stop-color="#4057b1"/><stop offset="0.016" stop-color="#5482ce"/><stop offset="0.027" stop-color="#639adb"/><stop offset="0.041" stop-color="#76afe2"/><stop offset="0.058" stop-color="#7eb5db"/><stop offset="0.075" stop-color="#82b7d2"/><stop offset="0.096" stop-color="#84b7cc"/><stop offset="0.123" stop-color="#86b8c3"/><stop offset="0.158" stop-color="#84b6b5"/><stop offset="0.199" stop-color="#83b5a8"/><stop offset="0.247" stop-color="#82b49c"/><stop offset="0.302" stop-color="#81b291"/><stop offset="0.370" stop-color="#81b186"/><stop offset="0.453" stop-color="#80b07a"/><stop offset="0.549" stop-color="#7eaf6f"/><stop offset="0.658" stop-color="#7dae65"/><stop offset="0.782" stop-color="#7bae5d"/><stop offset="0.905" stop-color="#7aad56"/><stop offset="1.000" stop-color="#79ac51"/></radialGradient><radialGradient id="L48" gradientUnits="userSpaceOnUse" cx="0" cy="0" r="220.2"><stop offset="0.000" stop-color="#371f8a"/><stop offset="0.008" stop-color="#4058b1"/><stop offset="0.016" stop-color="#5482ce"/><stop offset="0.027" stop-color="#639adb"/><stop offset="0.041" stop-color="#77b0e3"/><stop offset="0.058" stop-color="#7eb5da"/><stop offset="0.075" stop-color="#82b7d1"/><stop offset="0.096" stop-color="#84b7cc"/><stop offset="0.123" stop-color="#85b7c3"/><stop offset="0.158" stop-color="#84b6b4"/><stop offset="0.199" stop-color="#83b5a7"/><stop offset="0.247" stop-color="#82b39b"/><stop offset="0.302" stop-color="#81b290"/><stop offset="0.370" stop-color="#81b185"/><stop offset="0.453" stop-color="#80b079"/><stop offset="0.549" stop-color="#7eaf6e"/><stop offset="0.658" stop-color="#7cae64"/><stop offset="0.782" stop-color="#7bae5c"/><stop offset="0.905" stop-color="#7aad55"/><stop offset="1.000" stop-color="#79ac50"/></radialGradient><radialGradient id="L49" gradientUnits="userSpaceOnUse" cx="0" cy="0" r="220.2"><stop offset="0.000" stop-color="#37208a"/><stop offset="0.008" stop-color="#4159b2"/><stop offset="0.016" stop-color="#5483cf"/><stop offset="0.027" stop-color="#639bdc"/><stop offset="0.041" stop-color="#77b1e3"/><stop offset="0.058" stop-color="#7eb5da"/><stop offset="0.075" stop-color="#82b7d1"/><stop offset="0.096" stop-color="#85b8cb"/><stop offset="0.123" stop-color="#85b7c2"/><stop offset="0.158" stop-color="#84b6b3"/><stop offset="0.199" stop-color="#83b5a6"/><stop offset="0.247" stop-color="#82b39a"/><stop offset="0.302" stop-color="#81b28f"/><stop offset="0.370" stop-color="#81b184"/><stop offset="0.453" stop-color="#80b078"/><stop offset="0.549" stop-color="#7eaf6d"/><stop offset="0.658" stop-color="#7cae64"/><stop offset="0.782" stop-color="#7bae5b"/><stop offset="0.905" stop-color="#7aad54"/><stop offset="1.000" stop-color="#79ac4f"/></radialGradient><radialGradient id="L50" gradientUnits="userSpaceOnUse" cx="0" cy="0" r="220.2"><stop offset="0.000" stop-color="#37208a"/><stop offset="0.008" stop-color="#415ab3"/><stop offset="0.016" stop-color="#5483cf"/><stop offset="0.027" stop-color="#649bdc"/><stop offset="0.041" stop-color="#78b1e3"/><stop offset="0.058" stop-color="#7fb6d9"/><stop offset="0.075" stop-color="#82b7d1"/><stop offset="0.096" stop-color="#85b8cb"/><stop offset="0.123" stop-color="#85b7c1"/><stop offset="0.158" stop-color="#84b6b2"/><stop offset="0.199" stop-color="#83b5a5"/><stop offset="0.247" stop-color="#82b399"/><stop offset="0.302" stop-color="#81b28f"/><stop offset="0.370" stop-color="#80b183"/><stop offset="0.453" stop-color="#80b077"/><stop offset="0.549" stop-color="#7eaf6c"/><stop offset="0.658" stop-color="#7cae63"/><stop offset="0.782" stop-color="#7bad5b"/><stop offset="0.905" stop-color="#7aad53"/><stop offset="1.000" stop-color="#79ac4e"/></radialGradient><radialGradient id="L51" gradientUnits="userSpaceOnUse" cx="0" cy="0" r="220.2"><stop offset="0.000" stop-color="#37208b"/><stop offset="0.008" stop-color="#425bb3"/><stop offset="0.016" stop-color="#5584cf"/><stop offset="0.027" stop-color="#649cdc"/><stop offset="0.041" stop-color="#78b2e3"/><stop offset="0.058" stop-color="#7fb6d9"/><stop offset="0.075" stop-color="#82b7d1"/><stop offset="0.096" stop-color="#85b8cb"/><stop offset="0.123" stop-color="#85b7c0"/><stop offset="0.158" stop-color="#84b6b2"/><stop offset="0.199" stop-color="#82b4a4"/><stop offset="0.247" stop-color="#82b398"/><stop offset="0.302" stop-color="#81b28e"/><stop offset="0.370" stop-color="#80b182"/><stop offset="0.453" stop-color="#7fb076"/><stop offset="0.549" stop-color="#7eaf6c"/><stop offset="0.658" stop-color="#7cae62"/><stop offset="0.782" stop-color="#7bad5a"/><stop offset="0.905" stop-color="#7aad53"/><stop offset="1.000" stop-color="#79ac4d"/></radialGradient><radialGradient id="L52" gradientUnits="userSpaceOnUse" cx="0" cy="0" r="220.2"><stop offset="0.000" stop-color="#37208b"/><stop offset="0.008" stop-color="#425cb4"/><stop offset="0.016" stop-color="#5584d0"/><stop offset="0.027" stop-color="#659cdc"/><stop offset="0.041" stop-color="#79b3e4"/><stop offset="0.058" stop-color="#7fb6d9"/><stop offset="0.075" stop-color="#82b7d0"/><stop offset="0.096" stop-color="#85b8cb"/><stop offset="0.123" stop-color="#85b7bf"/><stop offset="0.158" stop-color="#84b6b1"/><stop offset="0.199" stop-color="#82b4a4"/><stop offset="0.247" stop-color="#82b398"/><stop offset="0.302" stop-color="#81b28d"/><stop offset="0.370" stop-color="#80b181"/><stop offset="0.453" stop-color="#7fb075"/><stop offset="0.549" stop-color="#7eaf6b"/><stop offset="0.658" stop-color="#7cae61"/><stop offset="0.782" stop-color="#7bad59"/><stop offset="0.905" stop-color="#79ad52"/><stop offset="1.000" stop-color="#78ac4d"/></radialGradient><radialGradient id="L53" gradientUnits="userSpaceOnUse" cx="0" cy="0" r="220.2"><stop offset="0.000" stop-color="#36218b"/><stop offset="0.008" stop-color="#435cb4"/><stop offset="0.016" stop-color="#5585d0"/><stop offset="0.027" stop-color="#669ddc"/><stop offset="0.041" stop-color="#79b3e4"/><stop offset="0.058" stop-color="#7fb6d8"/><stop offset="0.075" stop-color="#83b7d0"/><stop offset="0.096" stop-color="#85b8ca"/><stop offset="0.123" stop-color="#85b7bf"/><stop offset="0.158" stop-color="#84b6b0"/><stop offset="0.199" stop-color="#82b4a3"/><stop offset="0.247" stop-color="#82b397"/><stop offset="0.302" stop-color="#81b28c"/><stop offset="0.370" stop-color="#80b180"/><stop offset="0.453" stop-color="#7fb074"/><stop offset="0.549" stop-color="#7daf6a"/><stop offset="0.658" stop-color="#7cae60"/><stop offset="0.782" stop-color="#7bad58"/><stop offset="0.905" stop-color="#79ad51"/><stop offset="1.000" stop-color="#78ac4c"/></radialGradient><radialGradient id="L54" gradientUnits="userSpaceOnUse" cx="0" cy="0" r="220.2"><stop offset="0.000" stop-color="#36218b"/><stop offset="0.008" stop-color="#435db5"/><stop offset="0.016" stop-color="#5585d1"/><stop offset="0.027" stop-color="#669edd"/><stop offset="0.041" stop-color="#7ab4e4"/><stop offset="0.058" stop-color="#7fb6d8"/><stop offset="0.075" stop-color="#83b7d0"/><stop offset="0.096" stop-color="#85b8ca"/><stop offset="0.123" stop-color="#85b7be"/><stop offset="0.158" stop-color="#84b6af"/><stop offset="0.199" stop-color="#82b4a2"/><stop offset="0.247" stop-color="#81b396"/><stop offset="0.302" stop-color="#81b28b"/><stop offset="0.370" stop-color="#80b17f"/><stop offset="0.453" stop-color="#7faf73"/><stop offset="0.549" stop-color="#7daf69"/><stop offset="0.658" stop-color="#7cae60"/><stop offset="0.782" stop-color="#7aad58"/><stop offset="0.905" stop-color="#79ac50"/><stop offset="1.000" stop-color="#78ac4b"/></radialGradient><radialGradient id="L55" gradientUnits="userSpaceOnUse" cx="0" cy="0" r="220.2"><stop offset="0.000" stop-color="#36218b"/><stop offset="0.008" stop-color="#435eb5"/><stop offset="0.016" stop-color="#5586d1"/><stop offset="0.027" stop-color="#669edd"/><stop offset="0.041" stop-color="#7ab4e4"/><stop offset="0.058" stop-color="#7fb6d7"/><stop offset="0.075" stop-color="#83b7cf"/><stop offset="0.096" stop-color="#85b8ca"/><stop offset="0.123" stop-color="#85b7bd"/><stop offset="0.158" stop-color="#83b5af"/><stop offset="0.199" stop-color="#82b4a1"/><stop offset="0.247" stop-color="#81b395"/><stop offset="0.302" stop-color="#81b28a"/><stop offset="0.370" stop-color="#80b07e"/><stop offset="0.453" stop-color="#7faf72"/><stop offset="0.549" stop-color="#7daf68"/><stop offset="0.658" stop-color="#7cae5f"/><stop offset="0.782" stop-color="#7aad57"/><stop offset="0.905" stop-color="#79ac4f"/><stop offset="1.000" stop-color="#78ac4a"/></radialGradient><radialGradient id="L56" gradientUnits="userSpaceOnUse" cx="0" cy="0" r="220.2"><stop offset="0.000" stop-color="#36218c"/><stop offset="0.008" stop-color="#445eb6"/><stop offset="0.016" stop-color="#5686d1"/><stop offset="0.027" stop-color="#679fdd"/><stop offset="0.041" stop-color="#7ab4e3"/><stop offset="0.058" stop-color="#80b6d7"/><stop offset="0.075" stop-color="#83b7cf"/><stop offset="0.096" stop-color="#85b8ca"/><stop offset="0.123" stop-color="#85b7bc"/><stop offset="0.158" stop-color="#83b5ae"/><stop offset="0.199" stop-color="#82b4a0"/><stop offset="0.247" stop-color="#81b394"/><stop offset="0.302" stop-color="#81b289"/><stop offset="0.370" stop-color="#80b07d"/><stop offset="0.453" stop-color="#7faf71"/><stop offset="0.549" stop-color="#7dae67"/><stop offset="0.658" stop-color="#7bae5e"/><stop offset="0.782" stop-color="#7aad56"/><stop offset="0.905" stop-color="#79ac4e"/><stop offset="1.000" stop-color="#78ac49"/></radialGradient><radialGradient id="L57" gradientUnits="userSpaceOnUse" cx="0" cy="0" r="220.2"><stop offset="0.000" stop-color="#36218c"/><stop offset="0.008" stop-color="#445fb6"/><stop offset="0.016" stop-color="#5687d1"/><stop offset="0.027" stop-color="#679fdd"/><stop offset="0.041" stop-color="#7ab4e3"/><stop offset="0.058" stop-color="#80b6d7"/><stop offset="0.075" stop-color="#83b7cf"/><stop offset="0.096" stop-color="#85b8c9"/><stop offset="0.123" stop-color="#85b7bc"/><stop offset="0.158" stop-color="#83b5ad"/><stop offset="0.199" stop-color="#82b49f"/><stop offset="0.247" stop-color="#81b393"/><stop offset="0.302" stop-color="#81b289"/><stop offset="0.370" stop-color="#80b07c"/><stop offset="0.453" stop-color="#7eaf70"/><stop offset="0.549" stop-color="#7dae66"/><stop offset="0.658" stop-color="#7bae5d"/><stop offset="0.782" stop-color="#7aad55"/><stop offset="0.905" stop-color="#79ac4d"/><stop offset="1.000" stop-color="#78ab48"/></radialGradient><radialGradient id="L58" gradientUnits="userSpaceOnUse" cx="0" cy="0" r="220.2"><stop offset="0.000" stop-color="#36218c"/><stop offset="0.008" stop-color="#4460b6"/><stop offset="0.016" stop-color="#5687d2"/><stop offset="0.027" stop-color="#68a0dd"/><stop offset="0.041" stop-color="#7bb4e3"/><stop offset="0.058" stop-color="#80b6d6"/><stop offset="0.075" stop-color="#83b7cf"/><stop offset="0.096" stop-color="#86b8c9"/><stop offset="0.123" stop-color="#85b7bb"/><stop offset="0.158" stop-color="#83b5ac"/><stop offset="0.199" stop-color="#82b49f"/><stop offset="0.247" stop-color="#81b393"/><stop offset="0.302" stop-color="#81b188"/><stop offset="0.370" stop-color="#80b07b"/><stop offset="0.453" stop-color="#7eaf6f"/><stop offset="0.549" stop-color="#7dae65"/><stop offset="0.658" stop-color="#7bae5c"/><stop offset="0.782" stop-color="#7aad54"/><stop offset="0.905" stop-color="#78ac4c"/><stop offset="1.000" stop-color="#77ab47"/></radialGradient><radialGradient id="L59" gradientUnits="userSpaceOnUse" cx="0" cy="0" r="220.2"><stop offset="0.000" stop-color="#36218c"/><stop offset="0.008" stop-color="#4460b7"/><stop offset="0.016" stop-color="#5688d2"/><stop offset="0.027" stop-color="#68a0dd"/><stop offset="0.041" stop-color="#7bb4e2"/><stop offset="0.058" stop-color="#80b6d6"/><stop offset="0.075" stop-color="#83b7ce"/><stop offset="0.096" stop-color="#86b8c9"/><stop offset="0.123" stop-color="#85b7ba"/><stop offset="0.158" stop-color="#83b5ab"/><stop offset="0.199" stop-color="#82b49e"/><stop offset="0.247" stop-color="#81b292"/><stop offset="0.302" stop-color="#81b186"/><stop offset="0.370" stop-color="#80b079"/><stop offset="0.453" stop-color="#7eaf6e"/><stop offset="0.549" stop-color="#7cae64"/><stop offset="0.658" stop-color="#7bad5b"/><stop offset="0.782" stop-color="#7aad53"/><stop offset="0.905" stop-color="#78ac4b"/><stop offset="1.000" stop-color="#77ab46"/></radialGradient><radialGradient id="L60" gradientUnits="userSpaceOnUse" cx="0" cy="0" r="220.2"><stop offset="0.000" stop-color="#36228c"/><stop offset="0.008" stop-color="#4561b7"/><stop offset="0.016" stop-color="#5688d2"/><stop offset="0.027" stop-color="#69a1de"/><stop offset="0.041" stop-color="#7bb4e2"/><stop offset="0.058" stop-color="#80b6d5"/><stop offset="0.075" stop-color="#83b7ce"/><stop offset="0.096" stop-color="#86b8c8"/><stop offset="0.123" stop-color="#84b6b9"/><stop offset="0.158" stop-color="#83b5aa"/><stop offset="0.199" stop-color="#82b49d"/><stop offset="0.247" stop-color="#81b291"/><stop offset="0.302" stop-color="#81b185"/><stop offset="0.370" stop-color="#80b078"/><stop offset="0.453" stop-color="#7eaf6d"/><stop offset="0.549" stop-color="#7cae63"/><stop offset="0.658" stop-color="#7bad5a"/><stop offset="0.782" stop-color="#79ad52"/><stop offset="0.905" stop-color="#78ac4a"/><stop offset="1.000" stop-color="#77ab45"/></radialGradient><radialGradient id="L61" gradientUnits="userSpaceOnUse" cx="0" cy="0" r="220.2"><stop offset="0.000" stop-color="#36228c"/><stop offset="0.008" stop-color="#4561b7"/><stop offset="0.016" stop-color="#5788d3"/><stop offset="0.027" stop-color="#69a1de"/><stop offset="0.041" stop-color="#7bb4e1"/><stop offset="0.058" stop-color="#81b6d5"/><stop offset="0.075" stop-color="#84b7ce"/><stop offset="0.096" stop-color="#86b8c8"/><stop offset="0.123" stop-color="#84b6b8"/><stop offset="0.158" stop-color="#83b5a9"/><stop offset="0.199" stop-color="#82b49c"/><stop offset="0.247" stop-color="#81b290"/><stop offset="0.302" stop-color="#81b184"/><stop offset="0.370" stop-color="#7fb077"/><stop offset="0.453" stop-color="#7eaf6c"/><stop offset="0.549" stop-color="#7cae61"/><stop offset="0.658" stop-color="#7bad59"/><stop offset="0.782" stop-color="#79ac50"/><stop offset="0.905" stop-color="#78ac49"/><stop offset="1.000" stop-color="#77ab44"/></radialGradient><radialGradient id="L62" gradientUnits="userSpaceOnUse" cx="0" cy="0" r="220.2"><stop offset="0.000" stop-color="#36218c"/><stop offset="0.008" stop-color="#4561b8"/><stop offset="0.016" stop-color="#5788d3"/><stop offset="0.027" stop-color="#6aa2de"/><stop offset="0.041" stop-color="#7bb4e1"/><stop offset="0.058" stop-color="#81b6d4"/><stop offset="0.075" stop-color="#84b7cd"/><stop offset="0.096" stop-color="#86b8c7"/><stop offset="0.123" stop-color="#84b6b7"/><stop offset="0.158" stop-color="#83b5a9"/><stop offset="0.199" stop-color="#82b39b"/><stop offset="0.247" stop-color="#81b28f"/><stop offset="0.302" stop-color="#80b183"/><stop offset="0.370" stop-color="#7fb075"/><stop offset="0.453" stop-color="#7daf6a"/><stop offset="0.549" stop-color="#7cae60"/><stop offset="0.658" stop-color="#7aad58"/><stop offset="0.782" stop-color="#79ac4f"/><stop offset="0.905" stop-color="#78ab48"/><stop offset="1.000" stop-color="#77ab43"/></radialGradient><radialGradient id="L63" gradientUnits="userSpaceOnUse" cx="0" cy="0" r="220.2"><stop offset="0.000" stop-color="#36218c"/><stop offset="0.008" stop-color="#4561b7"/><stop offset="0.016" stop-color="#5788d3"/><stop offset="0.027" stop-color="#6aa2de"/><stop offset="0.041" stop-color="#7bb4e1"/><stop offset="0.058" stop-color="#81b6d4"/><stop offset="0.075" stop-color="#84b7cd"/><stop offset="0.096" stop-color="#86b8c7"/><stop offset="0.123" stop-color="#84b6b7"/><stop offset="0.158" stop-color="#83b5a8"/><stop offset="0.199" stop-color="#82b39b"/><stop offset="0.247" stop-color="#81b28e"/><stop offset="0.302" stop-color="#80b182"/><stop offset="0.370" stop-color="#7fb074"/><stop offset="0.453" stop-color="#7daf69"/><stop offset="0.549" stop-color="#7cae5f"/><stop offset="0.658" stop-color="#7aad57"/><stop offset="0.782" stop-color="#79ac4e"/><stop offset="0.905" stop-color="#77ab47"/><stop offset="1.000" stop-color="#77ab42"/></radialGradient><radialGradient id="L64" gradientUnits="userSpaceOnUse" cx="0" cy="0" r="220.2"><stop offset="0.000" stop-color="#36218c"/><stop offset="0.008" stop-color="#4561b7"/><stop offset="0.016" stop-color="#5788d3"/><stop offset="0.027" stop-color="#6aa2de"/><stop offset="0.041" stop-color="#7cb5e0"/><stop offset="0.058" stop-color="#81b6d4"/><stop offset="0.075" stop-color="#84b7cd"/><stop offset="0.096" stop-color="#86b8c6"/><stop offset="0.123" stop-color="#84b6b6"/><stop offset="0.158" stop-color="#83b5a8"/><stop offset="0.199" stop-color="#82b39a"/><stop offset="0.247" stop-color="#81b28e"/><stop offset="0.302" stop-color="#80b181"/><stop offset="0.370" stop-color="#7faf73"/><stop offset="0.453" stop-color="#7daf68"/><stop offset="0.549" stop-color="#7cae5e"/><stop offset="0.658" stop-color="#7aad56"/><stop offset="0.782" stop-color="#79ac4d"/><stop offset="0.905" stop-color="#77ab46"/><stop offset="1.000" stop-color="#76ab41"/></radialGradient><radialGradient id="L65" gradientUnits="userSpaceOnUse" cx="0" cy="0" r="220.2"><stop offset="0.000" stop-color="#36218b"/><stop offset="0.008" stop-color="#4561b7"/><stop offset="0.016" stop-color="#5788d3"/><stop offset="0.027" stop-color="#6aa2de"/><stop offset="0.041" stop-color="#7cb5e0"/><stop offset="0.058" stop-color="#81b6d3"/><stop offset="0.075" stop-color="#84b7cd"/><stop offset="0.096" stop-color="#86b8c5"/><stop offset="0.123" stop-color="#84b6b5"/><stop offset="0.158" stop-color="#83b5a7"/><stop offset="0.199" stop-color="#82b399"/><stop offset="0.247" stop-color="#81b28d"/><stop offset="0.302" stop-color="#80b17f"/><stop offset="0.370" stop-color="#7faf72"/><stop offset="0.453" stop-color="#7dae67"/><stop offset="0.549" stop-color="#7bae5d"/><stop offset="0.658" stop-color="#7aad55"/><stop offset="0.782" stop-color="#78ac4c"/><stop offset="0.905" stop-color="#77ab44"/><stop offset="1.000" stop-color="#76aa40"/></radialGradient><radialGradient id="L66" gradientUnits="userSpaceOnUse" cx="0" cy="0" r="220.2"><stop offset="0.000" stop-color="#37218b"/><stop offset="0.008" stop-color="#4460b7"/><stop offset="0.016" stop-color="#5788d3"/><stop offset="0.027" stop-color="#6ba3de"/><stop offset="0.041" stop-color="#7cb5e0"/><stop offset="0.058" stop-color="#81b6d3"/><stop offset="0.075" stop-color="#84b7cd"/><stop offset="0.096" stop-color="#86b8c5"/><stop offset="0.123" stop-color="#84b6b5"/><stop offset="0.158" stop-color="#83b5a6"/><stop offset="0.199" stop-color="#82b399"/><stop offset="0.247" stop-color="#81b28c"/><stop offset="0.302" stop-color="#80b07e"/><stop offset="0.370" stop-color="#7eaf71"/><stop offset="0.453" stop-color="#7dae66"/><stop offset="0.549" stop-color="#7bae5c"/><stop offset="0.658" stop-color="#7aad53"/><stop offset="0.782" stop-color="#78ac4b"/><stop offset="0.905" stop-color="#77ab43"/><stop offset="1.000" stop-color="#76aa3f"/></radialGradient><radialGradient id="L67" gradientUnits="userSpaceOnUse" cx="0" cy="0" r="220.2"><stop offset="0.000" stop-color="#37208b"/><stop offset="0.008" stop-color="#4460b7"/><stop offset="0.016" stop-color="#5788d3"/><stop offset="0.027" stop-color="#6ba3de"/><stop offset="0.041" stop-color="#7cb5df"/><stop offset="0.058" stop-color="#81b6d3"/><stop offset="0.075" stop-color="#84b7cc"/><stop offset="0.096" stop-color="#86b8c4"/><stop offset="0.123" stop-color="#84b6b4"/><stop offset="0.158" stop-color="#83b5a5"/><stop offset="0.199" stop-color="#82b398"/><stop offset="0.247" stop-color="#81b28b"/><stop offset="0.302" stop-color="#80b07c"/><stop offset="0.370" stop-color="#7eaf6f"/><stop offset="0.453" stop-color="#7cae64"/><stop offset="0.549" stop-color="#7bad5b"/><stop offset="0.658" stop-color="#79ad52"/><stop offset="0.782" stop-color="#78ac49"/><stop offset="0.905" stop-color="#77ab42"/><stop offset="1.000" stop-color="#76aa3d"/></radialGradient><radialGradient id="L68" gradientUnits="userSpaceOnUse" cx="0" cy="0" r="220.2"><stop offset="0.000" stop-color="#37208a"/><stop offset="0.008" stop-color="#4460b7"/><stop offset="0.016" stop-color="#5788d3"/><stop offset="0.027" stop-color="#6ba3de"/><stop offset="0.041" stop-color="#7cb5df"/><stop offset="0.058" stop-color="#82b7d2"/><stop offset="0.075" stop-color="#84b7cc"/><stop offset="0.096" stop-color="#85b7c3"/><stop offset="0.123" stop-color="#84b6b3"/><stop offset="0.158" stop-color="#82b4a4"/><stop offset="0.199" stop-color="#82b397"/><stop offset="0.247" stop-color="#81b28a"/><stop offset="0.302" stop-color="#80b07b"/><stop offset="0.370" stop-color="#7eaf6d"/><stop offset="0.453" stop-color="#7cae63"/><stop offset="0.549" stop-color="#7bad59"/><stop offset="0.658" stop-color="#79ac50"/><stop offset="0.782" stop-color="#78ab48"/><stop offset="0.905" stop-color="#76ab41"/><stop offset="1.000" stop-color="#75aa3c"/></radialGradient><radialGradient id="L69" gradientUnits="userSpaceOnUse" cx="0" cy="0" r="220.2"><stop offset="0.000" stop-color="#37208a"/><stop offset="0.008" stop-color="#4460b6"/><stop offset="0.016" stop-color="#5788d3"/><stop offset="0.027" stop-color="#6ba4df"/><stop offset="0.041" stop-color="#7cb5df"/><stop offset="0.058" stop-color="#82b7d2"/><stop offset="0.075" stop-color="#84b7cc"/><stop offset="0.096" stop-color="#85b7c2"/><stop offset="0.123" stop-color="#84b6b2"/><stop offset="0.158" stop-color="#82b4a3"/><stop offset="0.199" stop-color="#81b396"/><stop offset="0.247" stop-color="#81b289"/><stop offset="0.302" stop-color="#80b079"/><stop offset="0.370" stop-color="#7eaf6c"/><stop offset="0.453" stop-color="#7cae61"/><stop offset="0.549" stop-color="#7aad57"/><stop offset="0.658" stop-color="#79ac4e"/><stop offset="0.782" stop-color="#77ab46"/><stop offset="0.905" stop-color="#76aa3f"/><stop offset="1.000" stop-color="#75aa3b"/></radialGradient><radialGradient id="L70" gradientUnits="userSpaceOnUse" cx="0" cy="0" r="220.2"><stop offset="0.000" stop-color="#371f89"/><stop offset="0.008" stop-color="#445fb6"/><stop offset="0.016" stop-color="#5788d3"/><stop offset="0.027" stop-color="#6ca4df"/><stop offset="0.041" stop-color="#7db5de"/><stop offset="0.058" stop-color="#82b7d2"/><stop offset="0.075" stop-color="#85b8cb"/><stop offset="0.096" stop-color="#85b7c1"/><stop offset="0.123" stop-color="#84b6b1"/><stop offset="0.158" stop-color="#82b4a2"/><stop offset="0.199" stop-color="#81b395"/><stop offset="0.247" stop-color="#81b187"/><stop offset="0.302" stop-color="#80b077"/><stop offset="0.370" stop-color="#7daf6a"/><stop offset="0.453" stop-color="#7cae5f"/><stop offset="0.549" stop-color="#7aad56"/><stop offset="0.658" stop-color="#78ac4c"/><stop offset="0.782" stop-color="#77ab44"/><stop offset="0.905" stop-color="#76aa3d"/><stop offset="1.000" stop-color="#75aa39"/></radialGradient><radialGradient id="L71" gradientUnits="userSpaceOnUse" cx="0" cy="0" r="220.2"><stop offset="0.000" stop-color="#381f89"/><stop offset="0.008" stop-color="#445fb6"/><stop offset="0.016" stop-color="#5788d3"/><stop offset="0.027" stop-color="#6ca4df"/><stop offset="0.041" stop-color="#7db5de"/><stop offset="0.058" stop-color="#82b7d1"/><stop offset="0.075" stop-color="#85b8cb"/><stop offset="0.096" stop-color="#85b7c0"/><stop offset="0.123" stop-color="#84b6b0"/><stop offset="0.158" stop-color="#82b4a1"/><stop offset="0.199" stop-color="#81b394"/><stop offset="0.247" stop-color="#81b186"/><stop offset="0.302" stop-color="#7fb075"/><stop offset="0.370" stop-color="#7daf68"/><stop offset="0.453" stop-color="#7bae5d"/><stop offset="0.549" stop-color="#7aad53"/><stop offset="0.658" stop-color="#78ac4a"/><stop offset="0.782" stop-color="#77ab42"/><stop offset="0.905" stop-color="#75aa3c"/><stop offset="1.000" stop-color="#75a937"/></radialGradient><radialGradient id="L72" gradientUnits="userSpaceOnUse" cx="0" cy="0" r="220.2"><stop offset="0.000" stop-color="#381e88"/><stop offset="0.008" stop-color="#445eb6"/><stop offset="0.016" stop-color="#5788d3"/><stop offset="0.027" stop-color="#6da5df"/><stop offset="0.041" stop-color="#7db5dd"/><stop offset="0.058" stop-color="#82b7d1"/><stop offset="0.075" stop-color="#85b8ca"/><stop offset="0.096" stop-color="#85b7be"/><stop offset="0.123" stop-color="#83b5ae"/><stop offset="0.158" stop-color="#82b49f"/><stop offset="0.199" stop-color="#81b392"/><stop offset="0.247" stop-color="#81b184"/><stop offset="0.302" stop-color="#7faf73"/><stop offset="0.370" stop-color="#7dae65"/><stop offset="0.453" stop-color="#7bad5b"/><stop offset="0.549" stop-color="#79ad51"/><stop offset="0.658" stop-color="#78ab48"/><stop offset="0.782" stop-color="#76aa40"/><stop offset="0.905" stop-color="#75aa3a"/><stop offset="1.000" stop-color="#74a935"/></radialGradient><radialGradient id="L73" gradientUnits="userSpaceOnUse" cx="0" cy="0" r="220.2"><stop offset="0.000" stop-color="#381e88"/><stop offset="0.008" stop-color="#435eb5"/><stop offset="0.016" stop-color="#5788d3"/><stop offset="0.027" stop-color="#6da5df"/><stop offset="0.041" stop-color="#7db5dc"/><stop offset="0.058" stop-color="#82b7d0"/><stop offset="0.075" stop-color="#85b8ca"/><stop offset="0.096" stop-color="#85b7bd"/><stop offset="0.123" stop-color="#83b5ad"/><stop offset="0.158" stop-color="#82b49e"/><stop offset="0.199" stop-color="#81b291"/><stop offset="0.247" stop-color="#80b182"/><stop offset="0.302" stop-color="#7faf71"/><stop offset="0.370" stop-color="#7cae63"/><stop offset="0.453" stop-color="#7bad59"/><stop offset="0.549" stop-color="#79ac4e"/><stop offset="0.658" stop-color="#77ab45"/><stop offset="0.782" stop-color="#76aa3e"/><stop offset="0.905" stop-color="#75a938"/><stop offset="1.000" stop-color="#74a934"/></radialGradient><radialGradient id="L74" gradientUnits="userSpaceOnUse" cx="0" cy="0" r="220.2"><stop offset="0.000" stop-color="#391d87"/><stop offset="0.008" stop-color="#435db5"/><stop offset="0.016" stop-color="#5788d3"/><stop offset="0.027" stop-color="#6da6df"/><stop offset="0.041" stop-color="#7eb5dc"/><stop offset="0.058" stop-color="#83b7d0"/><stop offset="0.075" stop-color="#85b8c9"/><stop offset="0.096" stop-color="#85b7bb"/><stop offset="0.123" stop-color="#83b5ab"/><stop offset="0.158" stop-color="#82b49d"/><stop offset="0.199" stop-color="#81b290"/><stop offset="0.247" stop-color="#80b180"/><stop offset="0.302" stop-color="#7eaf6f"/><stop offset="0.370" stop-color="#7cae60"/><stop offset="0.453" stop-color="#7aad56"/><stop offset="0.549" stop-color="#78ac4c"/><stop offset="0.658" stop-color="#77ab43"/><stop offset="0.782" stop-color="#75aa3b"/><stop offset="0.905" stop-color="#74a935"/><stop offset="1.000" stop-color="#74a933"/></radialGradient><radialGradient id="L75" gradientUnits="userSpaceOnUse" cx="0" cy="0" r="220.2"><stop offset="0.000" stop-color="#391d87"/><stop offset="0.008" stop-color="#435db5"/><stop offset="0.016" stop-color="#5788d3"/><stop offset="0.027" stop-color="#6ea6df"/><stop offset="0.041" stop-color="#7eb5db"/><stop offset="0.058" stop-color="#83b7cf"/><stop offset="0.075" stop-color="#86b8c9"/><stop offset="0.096" stop-color="#85b7ba"/><stop offset="0.123" stop-color="#83b5aa"/><stop offset="0.158" stop-color="#82b39b"/><stop offset="0.199" stop-color="#81b28e"/><stop offset="0.247" stop-color="#80b07e"/><stop offset="0.302" stop-color="#7eaf6c"/><stop offset="0.370" stop-color="#7bae5e"/><stop offset="0.453" stop-color="#7aad54"/><stop offset="0.549" stop-color="#78ac49"/><stop offset="0.658" stop-color="#76aa40"/><stop offset="0.782" stop-color="#75aa39"/><stop offset="0.905" stop-color="#74a934"/><stop offset="1.000" stop-color="#73a933"/></radialGradient><radialGradient id="L76" gradientUnits="userSpaceOnUse" cx="0" cy="0" r="220.2"><stop offset="0.000" stop-color="#3a1c86"/><stop offset="0.008" stop-color="#435cb4"/><stop offset="0.016" stop-color="#5788d3"/><stop offset="0.027" stop-color="#6fa7e0"/><stop offset="0.041" stop-color="#7eb5da"/><stop offset="0.058" stop-color="#83b7cf"/><stop offset="0.075" stop-color="#86b8c8"/><stop offset="0.096" stop-color="#84b6b8"/><stop offset="0.123" stop-color="#83b5a8"/><stop offset="0.158" stop-color="#82b399"/><stop offset="0.199" stop-color="#81b28c"/><stop offset="0.247" stop-color="#80b07b"/><stop offset="0.302" stop-color="#7daf69"/><stop offset="0.370" stop-color="#7bae5b"/><stop offset="0.453" stop-color="#79ac50"/><stop offset="0.549" stop-color="#77ab46"/><stop offset="0.658" stop-color="#76aa3d"/><stop offset="0.782" stop-color="#74a936"/><stop offset="0.905" stop-color="#73a933"/><stop offset="1.000" stop-color="#73a832"/></radialGradient><radialGradient id="L77" gradientUnits="userSpaceOnUse" cx="0" cy="0" r="220.2"><stop offset="0.000" stop-color="#3b1b85"/><stop offset="0.008" stop-color="#425cb4"/><stop offset="0.016" stop-color="#5788d3"/><stop offset="0.027" stop-color="#6fa8e0"/><stop offset="0.041" stop-color="#7fb6d9"/><stop offset="0.058" stop-color="#83b7ce"/><stop offset="0.075" stop-color="#86b8c7"/><stop offset="0.096" stop-color="#84b6b6"/><stop offset="0.123" stop-color="#83b5a6"/><stop offset="0.158" stop-color="#82b397"/><stop offset="0.199" stop-color="#81b28b"/><stop offset="0.247" stop-color="#80b079"/><stop offset="0.302" stop-color="#7dae66"/><stop offset="0.370" stop-color="#7bad58"/><stop offset="0.453" stop-color="#79ac4d"/><stop offset="0.549" stop-color="#77ab42"/><stop offset="0.658" stop-color="#75aa3a"/><stop offset="0.782" stop-color="#74a934"/><stop offset="0.905" stop-color="#73a832"/><stop offset="1.000" stop-color="#72a831"/></radialGradient><radialGradient id="L78" gradientUnits="userSpaceOnUse" cx="0" cy="0" r="220.2"><stop offset="0.000" stop-color="#3b1a85"/><stop offset="0.008" stop-color="#425bb3"/><stop offset="0.016" stop-color="#5788d3"/><stop offset="0.027" stop-color="#70a8e0"/><stop offset="0.041" stop-color="#7fb6d9"/><stop offset="0.058" stop-color="#84b7ce"/><stop offset="0.075" stop-color="#86b8c5"/><stop offset="0.096" stop-color="#84b6b4"/><stop offset="0.123" stop-color="#82b4a4"/><stop offset="0.158" stop-color="#81b396"/><stop offset="0.199" stop-color="#81b289"/><stop offset="0.247" stop-color="#7fb076"/><stop offset="0.302" stop-color="#7cae63"/><stop offset="0.370" stop-color="#7aad55"/><stop offset="0.453" stop-color="#78ac4a"/><stop offset="0.549" stop-color="#76aa3f"/><stop offset="0.658" stop-color="#75a937"/><stop offset="0.782" stop-color="#73a933"/><stop offset="0.905" stop-color="#73a832"/><stop offset="1.000" stop-color="#72a831"/></radialGradient><radialGradient id="L79" gradientUnits="userSpaceOnUse" cx="0" cy="0" r="220.2"><stop offset="0.000" stop-color="#3c1984"/><stop offset="0.008" stop-color="#425ab3"/><stop offset="0.016" stop-color="#5788d3"/><stop offset="0.027" stop-color="#70a9e0"/><stop offset="0.041" stop-color="#7fb6d8"/><stop offset="0.058" stop-color="#84b7cd"/><stop offset="0.075" stop-color="#85b7c3"/><stop offset="0.096" stop-color="#84b6b2"/><stop offset="0.123" stop-color="#82b4a2"/><stop offset="0.158" stop-color="#81b393"/><stop offset="0.199" stop-color="#81b186"/><stop offset="0.247" stop-color="#7faf73"/><stop offset="0.302" stop-color="#7cae61"/><stop offset="0.370" stop-color="#79ad52"/><stop offset="0.453" stop-color="#77ab46"/><stop offset="0.549" stop-color="#75aa3c"/><stop offset="0.658" stop-color="#74a934"/><stop offset="0.782" stop-color="#73a832"/><stop offset="0.905" stop-color="#72a831"/><stop offset="1.000" stop-color="#71a730"/></radialGradient><radialGradient id="L80" gradientUnits="userSpaceOnUse" cx="0" cy="0" r="220.2"><stop offset="0.000" stop-color="#3d1883"/><stop offset="0.008" stop-color="#415ab2"/><stop offset="0.016" stop-color="#5788d3"/><stop offset="0.027" stop-color="#71aae1"/><stop offset="0.041" stop-color="#80b6d7"/><stop offset="0.058" stop-color="#84b7cc"/><stop offset="0.075" stop-color="#85b7c1"/><stop offset="0.096" stop-color="#84b6b0"/><stop offset="0.123" stop-color="#82b49f"/><stop offset="0.158" stop-color="#81b291"/><stop offset="0.199" stop-color="#81b184"/><stop offset="0.247" stop-color="#7eaf71"/><stop offset="0.302" stop-color="#7bae5e"/><stop offset="0.370" stop-color="#79ac4e"/><stop offset="0.453" stop-color="#77ab42"/><stop offset="0.549" stop-color="#75a938"/><stop offset="0.658" stop-color="#73a933"/><stop offset="0.782" stop-color="#72a831"/><stop offset="0.905" stop-color="#72a830"/><stop offset="1.000" stop-color="#71a72f"/></radialGradient><radialGradient id="L81" gradientUnits="userSpaceOnUse" cx="0" cy="0" r="220.2"><stop offset="0.000" stop-color="#3e1782"/><stop offset="0.008" stop-color="#4159b2"/><stop offset="0.016" stop-color="#5688d3"/><stop offset="0.027" stop-color="#72abe1"/><stop offset="0.041" stop-color="#80b6d6"/><stop offset="0.058" stop-color="#85b8cb"/><stop offset="0.075" stop-color="#85b7be"/><stop offset="0.096" stop-color="#83b5ae"/><stop offset="0.123" stop-color="#82b49d"/><stop offset="0.158" stop-color="#81b28f"/><stop offset="0.199" stop-color="#80b181"/><stop offset="0.247" stop-color="#7eaf6e"/><stop offset="0.302" stop-color="#7bad5a"/><stop offset="0.370" stop-color="#78ac49"/><stop offset="0.453" stop-color="#76aa3e"/><stop offset="0.549" stop-color="#74a934"/><stop offset="0.658" stop-color="#73a832"/><stop offset="0.782" stop-color="#72a831"/><stop offset="0.905" stop-color="#71a72f"/><stop offset="1.000" stop-color="#70a72e"/></radialGradient><radialGradient id="L82" gradientUnits="userSpaceOnUse" cx="0" cy="0" r="220.2"><stop offset="0.000" stop-color="#3f1681"/><stop offset="0.008" stop-color="#4158b1"/><stop offset="0.016" stop-color="#5688d3"/><stop offset="0.027" stop-color="#73ace1"/><stop offset="0.041" stop-color="#81b6d5"/><stop offset="0.058" stop-color="#85b8ca"/><stop offset="0.075" stop-color="#85b7bc"/><stop offset="0.096" stop-color="#83b5ab"/><stop offset="0.123" stop-color="#82b39a"/><stop offset="0.158" stop-color="#81b28d"/><stop offset="0.199" stop-color="#80b07e"/><stop offset="0.247" stop-color="#7eaf6b"/><stop offset="0.302" stop-color="#7aad57"/><stop offset="0.370" stop-color="#77ab45"/><stop offset="0.453" stop-color="#75aa3a"/><stop offset="0.549" stop-color="#73a933"/><stop offset="0.658" stop-color="#72a831"/><stop offset="0.782" stop-color="#71a730"/><stop offset="0.905" stop-color="#70a72e"/><stop offset="1.000" stop-color="#70a72d"/></radialGradient><radialGradient id="L83" gradientUnits="userSpaceOnUse" cx="0" cy="0" r="220.2"><stop offset="0.000" stop-color="#401580"/><stop offset="0.008" stop-color="#4057b1"/><stop offset="0.016" stop-color="#5688d3"/><stop offset="0.027" stop-color="#73ade2"/><stop offset="0.041" stop-color="#81b6d3"/><stop offset="0.058" stop-color="#85b8ca"/><stop offset="0.075" stop-color="#85b7b9"/><stop offset="0.096" stop-color="#83b5a9"/><stop offset="0.123" stop-color="#82b398"/><stop offset="0.158" stop-color="#81b28a"/><stop offset="0.199" stop-color="#80b07b"/><stop offset="0.247" stop-color="#7daf68"/><stop offset="0.302" stop-color="#7aad53"/><stop offset="0.370" stop-color="#76ab41"/><stop offset="0.453" stop-color="#74a936"/><stop offset="0.549" stop-color="#73a832"/><stop offset="0.658" stop-color="#72a830"/><stop offset="0.782" stop-color="#71a72f"/><stop offset="0.905" stop-color="#70a72d"/><stop offset="1.000" stop-color="#6fa62d"/></radialGradient><radialGradient id="L84" gradientUnits="userSpaceOnUse" cx="0" cy="0" r="220.2"><stop offset="0.000" stop-color="#3f147d"/><stop offset="0.008" stop-color="#4056b0"/><stop offset="0.016" stop-color="#5688d2"/><stop offset="0.027" stop-color="#74aee2"/><stop offset="0.041" stop-color="#81b6d3"/><stop offset="0.058" stop-color="#86b8c9"/><stop offset="0.075" stop-color="#84b6b7"/><stop offset="0.096" stop-color="#83b5a6"/><stop offset="0.123" stop-color="#81b395"/><stop offset="0.158" stop-color="#81b187"/><stop offset="0.199" stop-color="#80b078"/><stop offset="0.247" stop-color="#7cae64"/><stop offset="0.302" stop-color="#79ac4f"/><stop offset="0.370" stop-color="#76aa3c"/><stop offset="0.453" stop-color="#74a933"/><stop offset="0.549" stop-color="#72a831"/><stop offset="0.658" stop-color="#71a72f"/><stop offset="0.782" stop-color="#70a72e"/><stop offset="0.905" stop-color="#6fa62c"/><stop offset="1.000" stop-color="#6fa62c"/></radialGradient><radialGradient id="L85" gradientUnits="userSpaceOnUse" cx="0" cy="0" r="220.2"><stop offset="0.000" stop-color="#3e1479"/><stop offset="0.008" stop-color="#3f55b0"/><stop offset="0.016" stop-color="#5688d2"/><stop offset="0.027" stop-color="#75afe2"/><stop offset="0.041" stop-color="#82b7d2"/><stop offset="0.058" stop-color="#86b8c7"/><stop offset="0.075" stop-color="#84b6b4"/><stop offset="0.096" stop-color="#82b4a3"/><stop offset="0.123" stop-color="#81b392"/><stop offset="0.158" stop-color="#81b184"/><stop offset="0.199" stop-color="#7fb075"/><stop offset="0.247" stop-color="#7cae61"/><stop offset="0.302" stop-color="#78ac4a"/><stop offset="0.370" stop-color="#75a938"/><stop offset="0.453" stop-color="#73a832"/><stop offset="0.549" stop-color="#71a730"/><stop offset="0.658" stop-color="#70a72e"/><stop offset="0.782" stop-color="#6fa62c"/><stop offset="0.905" stop-color="#6fa62c"/><stop offset="1.000" stop-color="#6ea62b"/></radialGradient><radialGradient id="L86" gradientUnits="userSpaceOnUse" cx="0" cy="0" r="220.2"><stop offset="0.000" stop-color="#3d1376"/><stop offset="0.008" stop-color="#3f54af"/><stop offset="0.016" stop-color="#5688d2"/><stop offset="0.027" stop-color="#76b0e3"/><stop offset="0.041" stop-color="#82b7d1"/><stop offset="0.058" stop-color="#86b8c4"/><stop offset="0.075" stop-color="#84b6b1"/><stop offset="0.096" stop-color="#82b4a0"/><stop offset="0.123" stop-color="#81b28f"/><stop offset="0.158" stop-color="#80b180"/><stop offset="0.199" stop-color="#7faf72"/><stop offset="0.247" stop-color="#7bae5e"/><stop offset="0.302" stop-color="#77ab46"/><stop offset="0.370" stop-color="#74a934"/><stop offset="0.453" stop-color="#72a831"/><stop offset="0.549" stop-color="#71a72e"/><stop offset="0.658" stop-color="#6fa62d"/><stop offset="0.782" stop-color="#6fa62c"/><stop offset="0.905" stop-color="#6ea62b"/><stop offset="1.000" stop-color="#6ea52b"/></radialGradient><radialGradient id="L87" gradientUnits="userSpaceOnUse" cx="0" cy="0" r="220.2"><stop offset="0.000" stop-color="#3b1272"/><stop offset="0.008" stop-color="#3e53ae"/><stop offset="0.016" stop-color="#5688d2"/><stop offset="0.027" stop-color="#77b1e3"/><stop offset="0.041" stop-color="#83b7d0"/><stop offset="0.058" stop-color="#85b7c1"/><stop offset="0.075" stop-color="#83b5ae"/><stop offset="0.096" stop-color="#82b49c"/><stop offset="0.123" stop-color="#81b28c"/><stop offset="0.158" stop-color="#80b07d"/><stop offset="0.199" stop-color="#7eaf6f"/><stop offset="0.247" stop-color="#7bad5a"/><stop offset="0.302" stop-color="#76ab41"/><stop offset="0.370" stop-color="#73a833"/><stop offset="0.453" stop-color="#71a730"/><stop offset="0.549" stop-color="#70a62d"/><stop offset="0.658" stop-color="#6fa62c"/><stop offset="0.782" stop-color="#6ea62b"/><stop offset="0.905" stop-color="#6ea52b"/><stop offset="1.000" stop-color="#6ea52a"/></radialGradient><radialGradient id="L88" gradientUnits="userSpaceOnUse" cx="0" cy="0" r="220.2"><stop offset="0.000" stop-color="#3a116e"/><stop offset="0.008" stop-color="#3e52ad"/><stop offset="0.016" stop-color="#5688d2"/><stop offset="0.027" stop-color="#78b2e3"/><stop offset="0.041" stop-color="#83b7cf"/><stop offset="0.058" stop-color="#85b7be"/><stop offset="0.075" stop-color="#83b5ab"/><stop offset="0.096" stop-color="#82b399"/><stop offset="0.123" stop-color="#81b288"/><stop offset="0.158" stop-color="#80b079"/><stop offset="0.199" stop-color="#7eaf6b"/><stop offset="0.247" stop-color="#7aad57"/><stop offset="0.302" stop-color="#76aa3c"/><stop offset="0.370" stop-color="#72a831"/><stop offset="0.453" stop-color="#71a72e"/><stop offset="0.549" stop-color="#6fa62c"/><stop offset="0.658" stop-color="#6ea62b"/><stop offset="0.782" stop-color="#6ea52b"/><stop offset="0.905" stop-color="#6ea52a"/><stop offset="1.000" stop-color="#6ea52a"/></radialGradient><radialGradient id="L89" gradientUnits="userSpaceOnUse" cx="0" cy="0" r="220.2"><stop offset="0.000" stop-color="#39106a"/><stop offset="0.008" stop-color="#3d51ad"/><stop offset="0.016" stop-color="#5688d2"/><stop offset="0.027" stop-color="#79b3e4"/><stop offset="0.041" stop-color="#84b7ce"/><stop offset="0.058" stop-color="#85b7bb"/><stop offset="0.075" stop-color="#83b5a7"/><stop offset="0.096" stop-color="#81b395"/><stop offset="0.123" stop-color="#81b184"/><stop offset="0.158" stop-color="#7fb075"/><stop offset="0.199" stop-color="#7daf68"/><stop offset="0.247" stop-color="#7aad53"/><stop offset="0.302" stop-color="#75a938"/><stop offset="0.370" stop-color="#71a730"/><stop offset="0.453" stop-color="#70a62d"/><stop offset="0.549" stop-color="#6ea62b"/><stop offset="0.658" stop-color="#6ea52b"/><stop offset="0.782" stop-color="#6ea52a"/><stop offset="0.905" stop-color="#6da52a"/><stop offset="1.000" stop-color="#6da52a"/></radialGradient><clipPath id="clipL"><rect x="46.5" y="21.5" width="220.1" height="440.5"/></clipPath><clipPath id="circL"><circle cx="0" cy="0" r="220.16"/></clipPath>
<g id="halfL" shape-rendering="crispEdges"><path d="M0 0L224.15 1.96A224.2 224.2 0 0 0 224.11 -4.50Z" fill="url(#L0)"/><path d="M0 0L224.12 -3.91A224.2 224.2 0 0 0 224.00 -8.41Z" fill="url(#L1)"/><path d="M0 0L224.02 -7.82A224.2 224.2 0 0 0 223.82 -12.32Z" fill="url(#L2)"/><path d="M0 0L223.85 -11.73A224.2 224.2 0 0 0 223.57 -16.22Z" fill="url(#L3)"/><path d="M0 0L223.61 -15.64A224.2 224.2 0 0 0 223.25 -20.12Z" fill="url(#L4)"/><path d="M0 0L223.31 -19.54A224.2 224.2 0 0 0 222.87 -24.01Z" fill="url(#L5)"/><path d="M0 0L222.93 -23.43A224.2 224.2 0 0 0 222.41 -27.90Z" fill="url(#L6)"/><path d="M0 0L222.49 -27.32A224.2 224.2 0 0 0 221.89 -31.78Z" fill="url(#L7)"/><path d="M0 0L221.98 -31.20A224.2 224.2 0 0 0 221.31 -35.65Z" fill="url(#L8)"/><path d="M0 0L221.40 -35.07A224.2 224.2 0 0 0 220.65 -39.50Z" fill="url(#L9)"/><path d="M0 0L220.75 -38.92A224.2 224.2 0 0 0 219.93 -43.35Z" fill="url(#L10)"/><path d="M0 0L220.04 -42.77A224.2 224.2 0 0 0 219.14 -47.18Z" fill="url(#L11)"/><path d="M0 0L219.26 -46.61A224.2 224.2 0 0 0 218.28 -51.00Z" fill="url(#L12)"/><path d="M0 0L218.41 -50.42A224.2 224.2 0 0 0 217.36 -54.80Z" fill="url(#L13)"/><path d="M0 0L217.50 -54.23A224.2 224.2 0 0 0 216.37 -58.58Z" fill="url(#L14)"/><path d="M0 0L216.52 -58.02A224.2 224.2 0 0 0 215.31 -62.35Z" fill="url(#L15)"/><path d="M0 0L215.47 -61.79A224.2 224.2 0 0 0 214.19 -66.10Z" fill="url(#L16)"/><path d="M0 0L214.36 -65.54A224.2 224.2 0 0 0 213.00 -69.83Z" fill="url(#L17)"/><path d="M0 0L213.19 -69.27A224.2 224.2 0 0 0 211.75 -73.53Z" fill="url(#L18)"/><path d="M0 0L211.95 -72.98A224.2 224.2 0 0 0 210.44 -77.22Z" fill="url(#L19)"/><path d="M0 0L210.64 -76.67A224.2 224.2 0 0 0 209.06 -80.88Z" fill="url(#L20)"/><path d="M0 0L209.27 -80.33A224.2 224.2 0 0 0 207.62 -84.51Z" fill="url(#L21)"/><path d="M0 0L207.84 -83.97A224.2 224.2 0 0 0 206.11 -88.13Z" fill="url(#L22)"/><path d="M0 0L206.34 -87.59A224.2 224.2 0 0 0 204.54 -91.71Z" fill="url(#L23)"/><path d="M0 0L204.78 -91.17A224.2 224.2 0 0 0 202.91 -95.26Z" fill="url(#L24)"/><path d="M0 0L203.16 -94.73A224.2 224.2 0 0 0 201.21 -98.79Z" fill="url(#L25)"/><path d="M0 0L201.47 -98.26A224.2 224.2 0 0 0 199.46 -102.29Z" fill="url(#L26)"/><path d="M0 0L199.73 -101.77A224.2 224.2 0 0 0 197.64 -105.75Z" fill="url(#L27)"/><path d="M0 0L197.92 -105.24A224.2 224.2 0 0 0 195.77 -109.19Z" fill="url(#L28)"/><path d="M0 0L196.05 -108.67A224.2 224.2 0 0 0 193.83 -112.59Z" fill="url(#L29)"/><path d="M0 0L194.13 -112.08A224.2 224.2 0 0 0 191.84 -115.95Z" fill="url(#L30)"/><path d="M0 0L192.14 -115.45A224.2 224.2 0 0 0 189.79 -119.28Z" fill="url(#L31)"/><path d="M0 0L190.10 -118.79A224.2 224.2 0 0 0 187.67 -122.58Z" fill="url(#L32)"/><path d="M0 0L187.99 -122.09A224.2 224.2 0 0 0 185.51 -125.83Z" fill="url(#L33)"/><path d="M0 0L185.84 -125.35A224.2 224.2 0 0 0 183.28 -129.05Z" fill="url(#L34)"/><path d="M0 0L183.62 -128.57A224.2 224.2 0 0 0 181.00 -132.23Z" fill="url(#L35)"/><path d="M0 0L181.35 -131.76A224.2 224.2 0 0 0 178.67 -135.37Z" fill="url(#L36)"/><path d="M0 0L179.02 -134.90A224.2 224.2 0 0 0 176.28 -138.47Z" fill="url(#L37)"/><path d="M0 0L176.64 -138.01A224.2 224.2 0 0 0 173.83 -141.52Z" fill="url(#L38)"/><path d="M0 0L174.20 -141.07A224.2 224.2 0 0 0 171.34 -144.54Z" fill="url(#L39)"/><path d="M0 0L171.71 -144.09A224.2 224.2 0 0 0 168.79 -147.50Z" fill="url(#L40)"/><path d="M0 0L169.17 -147.06A224.2 224.2 0 0 0 166.19 -150.43Z" fill="url(#L41)"/><path d="M0 0L166.58 -149.99A224.2 224.2 0 0 0 163.54 -153.30Z" fill="url(#L42)"/><path d="M0 0L163.94 -152.88A224.2 224.2 0 0 0 160.84 -156.13Z" fill="url(#L43)"/><path d="M0 0L161.25 -155.71A224.2 224.2 0 0 0 158.09 -158.92Z" fill="url(#L44)"/><path d="M0 0L158.50 -158.50A224.2 224.2 0 0 0 155.29 -161.65Z" fill="url(#L45)"/><path d="M0 0L155.71 -161.25A224.2 224.2 0 0 0 152.45 -164.34Z" fill="url(#L46)"/><path d="M0 0L152.88 -163.94A224.2 224.2 0 0 0 149.55 -166.97Z" fill="url(#L47)"/><path d="M0 0L149.99 -166.58A224.2 224.2 0 0 0 146.62 -169.56Z" fill="url(#L48)"/><path d="M0 0L147.06 -169.17A224.2 224.2 0 0 0 143.64 -172.09Z" fill="url(#L49)"/><path d="M0 0L144.09 -171.71A224.2 224.2 0 0 0 140.61 -174.57Z" fill="url(#L50)"/><path d="M0 0L141.07 -174.20A224.2 224.2 0 0 0 137.54 -177.00Z" fill="url(#L51)"/><path d="M0 0L138.01 -176.64A224.2 224.2 0 0 0 134.43 -179.37Z" fill="url(#L52)"/><path d="M0 0L134.90 -179.02A224.2 224.2 0 0 0 131.28 -181.69Z" fill="url(#L53)"/><path d="M0 0L131.76 -181.35A224.2 224.2 0 0 0 128.09 -183.96Z" fill="url(#L54)"/><path d="M0 0L128.57 -183.62A224.2 224.2 0 0 0 124.86 -186.16Z" fill="url(#L55)"/><path d="M0 0L125.35 -185.84A224.2 224.2 0 0 0 121.59 -188.31Z" fill="url(#L56)"/><path d="M0 0L122.09 -187.99A224.2 224.2 0 0 0 118.29 -190.41Z" fill="url(#L57)"/><path d="M0 0L118.79 -190.10A224.2 224.2 0 0 0 114.95 -192.44Z" fill="url(#L58)"/><path d="M0 0L115.45 -192.14A224.2 224.2 0 0 0 111.57 -194.42Z" fill="url(#L59)"/><path d="M0 0L112.08 -194.13A224.2 224.2 0 0 0 108.16 -196.34Z" fill="url(#L60)"/><path d="M0 0L108.67 -196.05A224.2 224.2 0 0 0 104.72 -198.19Z" fill="url(#L61)"/><path d="M0 0L105.24 -197.92A224.2 224.2 0 0 0 101.24 -199.99Z" fill="url(#L62)"/><path d="M0 0L101.77 -199.73A224.2 224.2 0 0 0 97.74 -201.73Z" fill="url(#L63)"/><path d="M0 0L98.26 -201.47A224.2 224.2 0 0 0 94.20 -203.40Z" fill="url(#L64)"/><path d="M0 0L94.73 -203.16A224.2 224.2 0 0 0 90.64 -205.02Z" fill="url(#L65)"/><path d="M0 0L91.17 -204.78A224.2 224.2 0 0 0 87.05 -206.57Z" fill="url(#L66)"/><path d="M0 0L87.59 -206.34A224.2 224.2 0 0 0 83.43 -208.05Z" fill="url(#L67)"/><path d="M0 0L83.97 -207.84A224.2 224.2 0 0 0 79.78 -209.48Z" fill="url(#L68)"/><path d="M0 0L80.33 -209.27A224.2 224.2 0 0 0 76.11 -210.84Z" fill="url(#L69)"/><path d="M0 0L76.67 -210.64A224.2 224.2 0 0 0 72.42 -212.14Z" fill="url(#L70)"/><path d="M0 0L72.98 -211.95A224.2 224.2 0 0 0 68.71 -213.37Z" fill="url(#L71)"/><path d="M0 0L69.27 -213.19A224.2 224.2 0 0 0 64.98 -214.53Z" fill="url(#L72)"/><path d="M0 0L65.54 -214.36A224.2 224.2 0 0 0 61.22 -215.64Z" fill="url(#L73)"/><path d="M0 0L61.79 -215.47A224.2 224.2 0 0 0 57.45 -216.67Z" fill="url(#L74)"/><path d="M0 0L58.02 -216.52A224.2 224.2 0 0 0 53.66 -217.64Z" fill="url(#L75)"/><path d="M0 0L54.23 -217.50A224.2 224.2 0 0 0 49.85 -218.54Z" fill="url(#L76)"/><path d="M0 0L50.42 -218.41A224.2 224.2 0 0 0 46.03 -219.38Z" fill="url(#L77)"/><path d="M0 0L46.61 -219.26A224.2 224.2 0 0 0 42.20 -220.15Z" fill="url(#L78)"/><path d="M0 0L42.77 -220.04A224.2 224.2 0 0 0 38.35 -220.85Z" fill="url(#L79)"/><path d="M0 0L38.92 -220.75A224.2 224.2 0 0 0 34.49 -221.49Z" fill="url(#L80)"/><path d="M0 0L35.07 -221.40A224.2 224.2 0 0 0 30.62 -222.06Z" fill="url(#L81)"/><path d="M0 0L31.20 -221.98A224.2 224.2 0 0 0 26.74 -222.56Z" fill="url(#L82)"/><path d="M0 0L27.32 -222.49A224.2 224.2 0 0 0 22.85 -222.99Z" fill="url(#L83)"/><path d="M0 0L23.43 -222.93A224.2 224.2 0 0 0 18.95 -223.36Z" fill="url(#L84)"/><path d="M0 0L19.54 -223.31A224.2 224.2 0 0 0 15.05 -223.65Z" fill="url(#L85)"/><path d="M0 0L15.64 -223.61A224.2 224.2 0 0 0 11.15 -223.88Z" fill="url(#L86)"/><path d="M0 0L11.73 -223.85A224.2 224.2 0 0 0 7.24 -224.04Z" fill="url(#L87)"/><path d="M0 0L7.82 -224.02A224.2 224.2 0 0 0 3.33 -224.13Z" fill="url(#L88)"/><path d="M0 0L3.91 -224.12A224.2 224.2 0 0 0 -0.59 -224.16Z" fill="url(#L89)"/></g><g id="contL"><path d="M1.0 -0.0L0.9 -0.2L0.4 -0.1M1.5 -0.0L1.3 -0.3L0.4 -0.2M2.1 -0.0L2.0 -0.4L0.4 -0.2M3.1 -0.0L3.0 -0.5L2.8 -0.6L1.0 -0.4L1.1 -0.5L0.4 -0.2M4.6 -0.0L4.4 -0.7L4.1 -0.9L1.4 -0.5L1.5 -0.8L0.3 -0.3M6.7 -0.0L6.5 -1.0L6.1 -1.2L2.0 -0.7L2.1 -1.1L0.7 -0.6L0.3 -0.6L0.0 -1.0M9.8 -0.0L9.5 -1.4L8.9 -1.8L6.8 -1.6L2.8 -1.0L3.0 -1.6L1.3 -1.0L0.5 -1.0L0.0 -1.5M14.3 -0.0L13.9 -2.0L13.6 -2.4L13.1 -2.5L10.1 -2.4L3.9 -1.4L4.3 -2.4L2.1 -1.7L0.9 -1.8L0.0 -2.4M20.9 -0.0L20.8 -1.5L20.4 -2.9L19.9 -3.4L19.3 -3.7L14.8 -3.4L5.4 -1.9L5.3 -2.0L6.1 -3.4L3.6 -2.7L1.6 -2.9L0.0 -3.5M30.6 -0.0L30.4 -2.1L29.8 -4.1L29.2 -4.9L28.3 -5.2L25.4 -5.3L20.9 -4.8L7.6 -2.7L7.5 -2.8L8.7 -5.0L6.1 -4.4L1.6 -4.9L0.0 -4.6M44.7 -0.0L44.4 -3.3L43.5 -6.1L42.6 -7.1L40.9 -7.6L37.4 -7.6L30.8 -7.0L22.0 -5.7L10.7 -3.7L10.4 -3.9L12.4 -6.9L12.6 -7.3L12.5 -7.5L9.4 -6.9L5.4 -7.4L2.9 -7.4L1.5 -7.0L0.0 -6.0M65.3 -0.0L64.9 -4.8L63.6 -8.9L62.5 -10.5L61.7 -10.9L60.3 -11.2L55.8 -11.1L42.4 -9.7L30.9 -8.0L14.9 -5.2L14.6 -5.3L14.6 -5.5L18.1 -10.4L18.4 -11.2L18.3 -11.4L14.5 -11.0L8.4 -11.7L4.8 -11.5L3.8 -11.2L2.8 -10.6L0.0 -7.9M95.5 -0.0L95.4 -3.3L94.8 -7.0L93.9 -10.7L92.8 -13.9L91.8 -15.8L91.0 -16.9L89.5 -17.8L87.8 -18.3L84.1 -18.3L77.1 -17.3L53.2 -12.7L41.1 -10.8L20.9 -7.3L20.4 -7.4L20.5 -7.8L27.0 -16.2L27.7 -17.5L27.8 -18.2L27.0 -18.4L21.6 -18.2L13.8 -18.8L8.7 -18.5L7.4 -18.3L6.0 -17.7L3.6 -16.0L1.5 -13.4L0.0 -10.3M139.6 -0.0L139.4 -5.5L138.5 -10.9L137.2 -16.2L135.6 -20.3L134.1 -22.4L132.2 -23.9L129.0 -25.1L125.8 -25.6L119.3 -25.9L108.2 -25.5L102.4 -25.0L89.0 -23.0L52.8 -14.4L33.0 -10.7L28.9 -10.2L28.5 -10.5L29.1 -11.3L43.7 -28.4L45.1 -30.4L45.3 -31.4L44.9 -32.0L43.9 -32.2L36.8 -32.0L26.6 -32.2L22.1 -32.1L13.4 -30.8L11.1 -30.0L8.7 -28.5L6.0 -26.1L3.4 -22.8L1.4 -19.4L0.0 -16.0M204.2 -0.0L203.9 -7.1L202.7 -15.1L200.8 -22.9L199.8 -25.4L198.6 -27.9L196.8 -30.3L194.9 -31.7L193.6 -32.4L189.9 -33.5L184.5 -34.2L176.8 -34.4L172.2 -34.3L145.7 -33.0L125.3 -31.2L106.0 -28.9L101.6 -28.3L86.6 -25.4L69.0 -20.4L52.2 -16.1L43.6 -14.6L41.0 -14.3L40.1 -14.4L39.9 -14.7L40.5 -15.6L49.0 -24.2L61.3 -37.9L69.2 -47.1L75.4 -54.8L76.7 -56.8L77.0 -58.0L76.5 -58.7L75.5 -59.0L73.0 -59.1L51.7 -58.9L43.3 -58.5L39.4 -57.9L35.7 -57.1L29.3 -55.2L25.1 -54.4L21.7 -53.1L18.1 -51.2L14.7 -48.9L10.8 -45.7L8.7 -43.7L5.9 -39.4L3.5 -34.9L1.4 -29.8L0.0 -25.1M215.2 -46.3L189.9 -43.3L161.6 -39.5L135.1 -36.6L110.8 -33.1L100.7 -31.3L86.7 -28.3L71.1 -23.7L61.3 -21.1L57.7 -20.4L56.7 -20.3L55.8 -20.6L56.0 -21.2L57.4 -22.9L78.4 -44.6L85.3 -50.8L96.2 -60.3L108.0 -70.1L144.7 -99.3L151.7 -105.3L154.6 -108.3L155.5 -109.9L155.2 -110.7L154.4 -111.1L151.8 -111.3L132.4 -110.1L120.9 -109.8L93.6 -109.6L86.9 -109.3L80.4 -108.7L73.2 -107.5L66.0 -105.6L60.4 -103.6L53.3 -100.2L48.6 -98.5L43.1 -95.7L38.3 -92.5L32.9 -88.0L27.7 -82.7L22.7 -76.7L17.7 -69.7L8.7 -59.8L3.9 -52.2L0.0 -45.2M213.6 -53.4L186.4 -49.1L160.2 -44.7L144.0 -42.5L126.7 -39.8L100.5 -35.0L80.8 -30.6L79.0 -30.3L78.0 -30.3L77.5 -30.5L77.4 -30.9L78.0 -31.9L83.3 -37.3L101.0 -51.8L119.7 -66.4L135.3 -78.1L151.8 -90.0L169.4 -102.2L187.9 -114.8M107.9 -191.9L100.1 -188.3L94.0 -186.4L87.7 -183.8L81.3 -180.4L76.1 -177.2L69.6 -172.3L63.1 -166.6L56.7 -160.1L50.6 -153.1L45.5 -146.4L39.6 -138.1L34.7 -130.3L29.8 -121.8L22.5 -108.3L17.1 -97.1L11.9 -84.7L7.5 -72.6L0.0 -60.3M211.7 -60.4L158.5 -50.5L122.2 -44.5L112.2 -43.1L109.3 -43.1L108.4 -43.3L108.0 -43.6L108.2 -44.3L108.9 -45.1L112.9 -48.5L122.8 -56.0L137.0 -66.2L163.9 -84.9L193.7 -104.6M44.3 -215.6L38.4 -202.2L32.2 -186.9L27.0 -172.4L22.2 -157.8L15.9 -137.0L11.5 -120.1L6.8 -103.5L3.1 -88.1L0.0 -72.7M209.3 -68.3L180.1 -62.9L163.4 -60.3L157.8 -59.8L153.9 -59.8L152.6 -60.1L151.7 -60.5L151.2 -61.1L151.5 -62.0L152.8 -63.3L160.4 -68.9L176.6 -79.7L199.0 -94.1M14.2 -219.7L10.4 -198.2L6.9 -175.9L2.2 -139.9L0.0 -120.9" fill="none" stroke="#1a1a1a" stroke-width="0.9" stroke-dasharray="1.6 3.9"/></g></defs>
<g clip-path="url(#clipL)"><g transform="translate(46.5 241.75) scale(1.00000 1)" clip-path="url(#circL)">
<use href="#halfL"/><use href="#halfL" transform="scale(1 -1)"/>
<use href="#contL"/><use href="#contL" transform="scale(1 -1)"/>
</g></g>
<defs><radialGradient id="R0" gradientUnits="userSpaceOnUse" cx="0" cy="0" r="220.2"><stop offset="0.000" stop-color="#340f5b"/><stop offset="0.008" stop-color="#332691"/><stop offset="0.016" stop-color="#3038a0"/><stop offset="0.027" stop-color="#3f56b0"/><stop offset="0.041" stop-color="#5e95da"/><stop offset="0.058" stop-color="#7cb5de"/><stop offset="0.075" stop-color="#83b7cf"/><stop offset="0.096" stop-color="#86b8c8"/><stop offset="0.123" stop-color="#85b7c2"/><stop offset="0.158" stop-color="#85b7c0"/><stop offset="0.199" stop-color="#85b7bf"/><stop offset="0.302" stop-color="#85b7bf"/><stop offset="0.370" stop-color="#85b7bc"/><stop offset="0.453" stop-color="#84b6b5"/><stop offset="0.549" stop-color="#83b5ab"/><stop offset="0.658" stop-color="#83b5a6"/><stop offset="1.000" stop-color="#83b5a6"/></radialGradient><radialGradient id="R1" gradientUnits="userSpaceOnUse" cx="0" cy="0" r="220.2"><stop offset="0.000" stop-color="#340f5b"/><stop offset="0.008" stop-color="#332691"/><stop offset="0.016" stop-color="#3038a0"/><stop offset="0.027" stop-color="#3f55af"/><stop offset="0.041" stop-color="#5e94d9"/><stop offset="0.058" stop-color="#7cb5df"/><stop offset="0.075" stop-color="#83b7d0"/><stop offset="0.096" stop-color="#86b8c8"/><stop offset="0.123" stop-color="#85b7c3"/><stop offset="0.158" stop-color="#85b7c0"/><stop offset="0.199" stop-color="#85b7bf"/><stop offset="0.247" stop-color="#85b7be"/><stop offset="0.302" stop-color="#85b7be"/><stop offset="0.370" stop-color="#85b7bb"/><stop offset="0.453" stop-color="#84b6b4"/><stop offset="0.549" stop-color="#83b5ab"/><stop offset="0.658" stop-color="#83b5a6"/><stop offset="0.905" stop-color="#83b5a6"/><stop offset="1.000" stop-color="#83b5a5"/></radialGradient><radialGradient id="R2" gradientUnits="userSpaceOnUse" cx="0" cy="0" r="220.2"><stop offset="0.000" stop-color="#340f5b"/><stop offset="0.008" stop-color="#342691"/><stop offset="0.016" stop-color="#3038a0"/><stop offset="0.027" stop-color="#3f55af"/><stop offset="0.041" stop-color="#5d94d9"/><stop offset="0.058" stop-color="#7cb5df"/><stop offset="0.075" stop-color="#83b7d0"/><stop offset="0.096" stop-color="#86b8c8"/><stop offset="0.123" stop-color="#85b7c3"/><stop offset="0.158" stop-color="#85b7c0"/><stop offset="0.199" stop-color="#85b7bf"/><stop offset="0.247" stop-color="#85b7be"/><stop offset="0.302" stop-color="#85b7bd"/><stop offset="0.370" stop-color="#85b7b9"/><stop offset="0.453" stop-color="#84b6b2"/><stop offset="0.549" stop-color="#83b5aa"/><stop offset="0.658" stop-color="#83b5a5"/><stop offset="0.782" stop-color="#83b5a5"/><stop offset="0.905" stop-color="#82b4a5"/><stop offset="1.000" stop-color="#82b4a5"/></radialGradient><radialGradient id="R3" gradientUnits="userSpaceOnUse" cx="0" cy="0" r="220.2"><stop offset="0.000" stop-color="#330f5a"/><stop offset="0.008" stop-color="#342691"/><stop offset="0.016" stop-color="#3037a0"/><stop offset="0.027" stop-color="#3f54af"/><stop offset="0.041" stop-color="#5d93d9"/><stop offset="0.058" stop-color="#7cb5df"/><stop offset="0.075" stop-color="#83b7d0"/><stop offset="0.096" stop-color="#86b8c8"/><stop offset="0.123" stop-color="#85b7c3"/><stop offset="0.158" stop-color="#85b7c0"/><stop offset="0.199" stop-color="#85b7be"/><stop offset="0.247" stop-color="#85b7bc"/><stop offset="0.302" stop-color="#85b7bb"/><stop offset="0.370" stop-color="#84b6b7"/><stop offset="0.453" stop-color="#84b6b0"/><stop offset="0.549" stop-color="#83b5a8"/><stop offset="0.658" stop-color="#82b4a5"/><stop offset="0.782" stop-color="#82b4a5"/><stop offset="0.905" stop-color="#82b4a4"/><stop offset="1.000" stop-color="#82b4a4"/></radialGradient><radialGradient id="R4" gradientUnits="userSpaceOnUse" cx="0" cy="0" r="220.2"><stop offset="0.000" stop-color="#330f5a"/><stop offset="0.008" stop-color="#342691"/><stop offset="0.016" stop-color="#3037a0"/><stop offset="0.027" stop-color="#3f54af"/><stop offset="0.041" stop-color="#5d93d9"/><stop offset="0.058" stop-color="#7cb5df"/><stop offset="0.075" stop-color="#83b7d0"/><stop offset="0.096" stop-color="#86b8c8"/><stop offset="0.123" stop-color="#85b7c2"/><stop offset="0.158" stop-color="#85b7bf"/><stop offset="0.199" stop-color="#85b7bd"/><stop offset="0.247" stop-color="#85b7bb"/><stop offset="0.302" stop-color="#84b6b9"/><stop offset="0.370" stop-color="#84b6b4"/><stop offset="0.453" stop-color="#83b5ad"/><stop offset="0.549" stop-color="#83b5a7"/><stop offset="0.658" stop-color="#82b4a4"/><stop offset="1.000" stop-color="#82b4a4"/></radialGradient><radialGradient id="R5" gradientUnits="userSpaceOnUse" cx="0" cy="0" r="220.2"><stop offset="0.000" stop-color="#330f59"/><stop offset="0.008" stop-color="#342691"/><stop offset="0.016" stop-color="#3037a0"/><stop offset="0.027" stop-color="#3f54af"/><stop offset="0.041" stop-color="#5d93d9"/><stop offset="0.058" stop-color="#7cb5df"/><stop offset="0.075" stop-color="#83b7cf"/><stop offset="0.096" stop-color="#86b8c7"/><stop offset="0.123" stop-color="#85b7c1"/><stop offset="0.158" stop-color="#85b7bd"/><stop offset="0.199" stop-color="#85b7bb"/><stop offset="0.247" stop-color="#84b6b8"/><stop offset="0.302" stop-color="#84b6b5"/><stop offset="0.370" stop-color="#84b6b0"/><stop offset="0.453" stop-color="#83b5a9"/><stop offset="0.549" stop-color="#82b4a3"/><stop offset="0.658" stop-color="#82b4a0"/><stop offset="1.000" stop-color="#82b4a0"/></radialGradient><radialGradient id="R6" gradientUnits="userSpaceOnUse" cx="0" cy="0" r="220.2"><stop offset="0.000" stop-color="#330f59"/><stop offset="0.008" stop-color="#342591"/><stop offset="0.016" stop-color="#3037a0"/><stop offset="0.027" stop-color="#3f54af"/><stop offset="0.041" stop-color="#5d93d9"/><stop offset="0.058" stop-color="#7cb5df"/><stop offset="0.075" stop-color="#83b7cf"/><stop offset="0.096" stop-color="#86b8c6"/><stop offset="0.123" stop-color="#85b7bf"/><stop offset="0.158" stop-color="#85b7bb"/><stop offset="0.199" stop-color="#84b6b8"/><stop offset="0.247" stop-color="#84b6b5"/><stop offset="0.302" stop-color="#84b6b1"/><stop offset="0.370" stop-color="#83b5ac"/><stop offset="0.453" stop-color="#82b4a5"/><stop offset="0.549" stop-color="#82b49f"/><stop offset="0.658" stop-color="#82b49d"/><stop offset="0.782" stop-color="#82b49c"/><stop offset="1.000" stop-color="#82b49c"/></radialGradient><radialGradient id="R7" gradientUnits="userSpaceOnUse" cx="0" cy="0" r="220.2"><stop offset="0.000" stop-color="#330f59"/><stop offset="0.008" stop-color="#342590"/><stop offset="0.016" stop-color="#3037a0"/><stop offset="0.027" stop-color="#3f54af"/><stop offset="0.041" stop-color="#5d94d9"/><stop offset="0.058" stop-color="#7cb5de"/><stop offset="0.075" stop-color="#83b7ce"/><stop offset="0.096" stop-color="#86b8c5"/><stop offset="0.123" stop-color="#85b7bd"/><stop offset="0.158" stop-color="#85b7b9"/><stop offset="0.199" stop-color="#84b6b5"/><stop offset="0.247" stop-color="#84b6b2"/><stop offset="0.302" stop-color="#83b5ae"/><stop offset="0.370" stop-color="#83b5a8"/><stop offset="0.453" stop-color="#82b4a1"/><stop offset="0.549" stop-color="#82b49c"/><stop offset="0.658" stop-color="#82b399"/><stop offset="0.782" stop-color="#82b398"/><stop offset="1.000" stop-color="#82b398"/></radialGradient><radialGradient id="R8" gradientUnits="userSpaceOnUse" cx="0" cy="0" r="220.2"><stop offset="0.000" stop-color="#330f59"/><stop offset="0.008" stop-color="#342590"/><stop offset="0.016" stop-color="#30379f"/><stop offset="0.027" stop-color="#3e54ae"/><stop offset="0.041" stop-color="#5d94d9"/><stop offset="0.058" stop-color="#7db5de"/><stop offset="0.075" stop-color="#83b7ce"/><stop offset="0.096" stop-color="#86b8c4"/><stop offset="0.123" stop-color="#85b7bc"/><stop offset="0.158" stop-color="#84b6b7"/><stop offset="0.199" stop-color="#84b6b3"/><stop offset="0.247" stop-color="#83b5af"/><stop offset="0.302" stop-color="#83b5aa"/><stop offset="0.370" stop-color="#82b4a4"/><stop offset="0.453" stop-color="#82b49d"/><stop offset="0.549" stop-color="#82b398"/><stop offset="0.658" stop-color="#81b396"/><stop offset="0.782" stop-color="#81b395"/><stop offset="0.905" stop-color="#81b394"/><stop offset="1.000" stop-color="#81b394"/></radialGradient><radialGradient id="R9" gradientUnits="userSpaceOnUse" cx="0" cy="0" r="220.2"><stop offset="0.000" stop-color="#330f58"/><stop offset="0.008" stop-color="#342590"/><stop offset="0.016" stop-color="#30379f"/><stop offset="0.027" stop-color="#3e53ae"/><stop offset="0.041" stop-color="#5d93d9"/><stop offset="0.058" stop-color="#7db5de"/><stop offset="0.075" stop-color="#84b7ce"/><stop offset="0.096" stop-color="#85b7c3"/><stop offset="0.123" stop-color="#85b7bb"/><stop offset="0.158" stop-color="#84b6b6"/><stop offset="0.199" stop-color="#84b6b1"/><stop offset="0.247" stop-color="#83b5ac"/><stop offset="0.302" stop-color="#83b5a7"/><stop offset="0.370" stop-color="#82b4a1"/><stop offset="0.453" stop-color="#82b39a"/><stop offset="0.549" stop-color="#81b395"/><stop offset="0.658" stop-color="#81b393"/><stop offset="0.782" stop-color="#81b291"/><stop offset="1.000" stop-color="#81b291"/></radialGradient><radialGradient id="R10" gradientUnits="userSpaceOnUse" cx="0" cy="0" r="220.2"><stop offset="0.000" stop-color="#320f57"/><stop offset="0.008" stop-color="#342590"/><stop offset="0.016" stop-color="#30379f"/><stop offset="0.027" stop-color="#3e53ae"/><stop offset="0.041" stop-color="#5d93d9"/><stop offset="0.058" stop-color="#7db5de"/><stop offset="0.075" stop-color="#84b7cd"/><stop offset="0.096" stop-color="#85b7c2"/><stop offset="0.123" stop-color="#85b7b9"/><stop offset="0.158" stop-color="#84b6b4"/><stop offset="0.199" stop-color="#83b5ae"/><stop offset="0.247" stop-color="#83b5a9"/><stop offset="0.302" stop-color="#82b4a3"/><stop offset="0.370" stop-color="#82b49d"/><stop offset="0.453" stop-color="#81b396"/><stop offset="0.549" stop-color="#81b392"/><stop offset="0.658" stop-color="#81b28f"/><stop offset="0.782" stop-color="#81b28d"/><stop offset="0.905" stop-color="#81b28d"/><stop offset="1.000" stop-color="#81b28c"/></radialGradient><radialGradient id="R11" gradientUnits="userSpaceOnUse" cx="0" cy="0" r="220.2"><stop offset="0.000" stop-color="#320f57"/><stop offset="0.008" stop-color="#342590"/><stop offset="0.016" stop-color="#30379f"/><stop offset="0.027" stop-color="#3e53ae"/><stop offset="0.041" stop-color="#5d94d9"/><stop offset="0.058" stop-color="#7db5dd"/><stop offset="0.075" stop-color="#84b7cc"/><stop offset="0.096" stop-color="#85b7bf"/><stop offset="0.123" stop-color="#84b6b5"/><stop offset="0.158" stop-color="#83b5af"/><stop offset="0.199" stop-color="#83b5a8"/><stop offset="0.247" stop-color="#82b4a2"/><stop offset="0.302" stop-color="#82b49c"/><stop offset="0.370" stop-color="#81b395"/><stop offset="0.453" stop-color="#81b28e"/><stop offset="0.549" stop-color="#81b289"/><stop offset="0.658" stop-color="#81b185"/><stop offset="0.782" stop-color="#80b183"/><stop offset="0.905" stop-color="#80b182"/><stop offset="1.000" stop-color="#80b181"/></radialGradient><radialGradient id="R12" gradientUnits="userSpaceOnUse" cx="0" cy="0" r="220.2"><stop offset="0.000" stop-color="#320f56"/><stop offset="0.008" stop-color="#342590"/><stop offset="0.016" stop-color="#30379f"/><stop offset="0.027" stop-color="#3e53ae"/><stop offset="0.041" stop-color="#5e94d9"/><stop offset="0.058" stop-color="#7db5dc"/><stop offset="0.075" stop-color="#85b8ca"/><stop offset="0.096" stop-color="#85b7bc"/><stop offset="0.123" stop-color="#84b6b1"/><stop offset="0.158" stop-color="#83b5aa"/><stop offset="0.199" stop-color="#82b4a2"/><stop offset="0.247" stop-color="#82b39b"/><stop offset="0.302" stop-color="#81b394"/><stop offset="0.370" stop-color="#81b28d"/><stop offset="0.453" stop-color="#81b186"/><stop offset="0.549" stop-color="#80b180"/><stop offset="0.658" stop-color="#80b07c"/><stop offset="0.782" stop-color="#80b078"/><stop offset="0.905" stop-color="#80b077"/><stop offset="1.000" stop-color="#7fb077"/></radialGradient><radialGradient id="R13" gradientUnits="userSpaceOnUse" cx="0" cy="0" r="220.2"><stop offset="0.000" stop-color="#320e56"/><stop offset="0.008" stop-color="#34258f"/><stop offset="0.016" stop-color="#30379f"/><stop offset="0.027" stop-color="#3e53ae"/><stop offset="0.041" stop-color="#5e95da"/><stop offset="0.058" stop-color="#7eb5db"/><stop offset="0.075" stop-color="#86b8c8"/><stop offset="0.096" stop-color="#84b6b9"/><stop offset="0.123" stop-color="#83b5ad"/><stop offset="0.158" stop-color="#82b4a5"/><stop offset="0.199" stop-color="#82b49c"/><stop offset="0.247" stop-color="#81b394"/><stop offset="0.302" stop-color="#81b28d"/><stop offset="0.370" stop-color="#81b185"/><stop offset="0.453" stop-color="#80b07d"/><stop offset="0.549" stop-color="#80b077"/><stop offset="0.658" stop-color="#7faf72"/><stop offset="0.782" stop-color="#7eaf6e"/><stop offset="0.905" stop-color="#7eaf6d"/><stop offset="1.000" stop-color="#7eaf6c"/></radialGradient><radialGradient id="R14" gradientUnits="userSpaceOnUse" cx="0" cy="0" r="220.2"><stop offset="0.000" stop-color="#320e55"/><stop offset="0.008" stop-color="#34248f"/><stop offset="0.016" stop-color="#30379f"/><stop offset="0.027" stop-color="#3e52ae"/><stop offset="0.041" stop-color="#5f95da"/><stop offset="0.058" stop-color="#7eb5da"/><stop offset="0.075" stop-color="#86b8c6"/><stop offset="0.096" stop-color="#84b6b6"/><stop offset="0.123" stop-color="#83b5a9"/><stop offset="0.158" stop-color="#82b4a0"/><stop offset="0.199" stop-color="#81b396"/><stop offset="0.247" stop-color="#81b28e"/><stop offset="0.302" stop-color="#81b185"/><stop offset="0.370" stop-color="#80b07d"/><stop offset="0.453" stop-color="#7fb075"/><stop offset="0.549" stop-color="#7eaf6f"/><stop offset="0.658" stop-color="#7daf69"/><stop offset="0.782" stop-color="#7cae64"/><stop offset="0.905" stop-color="#7cae62"/><stop offset="1.000" stop-color="#7cae61"/></radialGradient><radialGradient id="R15" gradientUnits="userSpaceOnUse" cx="0" cy="0" r="220.2"><stop offset="0.000" stop-color="#310e54"/><stop offset="0.008" stop-color="#34248f"/><stop offset="0.016" stop-color="#30379f"/><stop offset="0.027" stop-color="#3e52ae"/><stop offset="0.041" stop-color="#5f96da"/><stop offset="0.058" stop-color="#7fb6d9"/><stop offset="0.075" stop-color="#86b8c4"/><stop offset="0.096" stop-color="#84b6b2"/><stop offset="0.123" stop-color="#83b5a5"/><stop offset="0.158" stop-color="#82b39b"/><stop offset="0.199" stop-color="#81b291"/><stop offset="0.247" stop-color="#81b187"/><stop offset="0.302" stop-color="#80b07e"/><stop offset="0.370" stop-color="#7fb076"/><stop offset="0.453" stop-color="#7eaf6d"/><stop offset="0.549" stop-color="#7dae66"/><stop offset="0.658" stop-color="#7cae5f"/><stop offset="0.782" stop-color="#7bad59"/><stop offset="0.905" stop-color="#7aad58"/><stop offset="1.000" stop-color="#7aad57"/></radialGradient><radialGradient id="R16" gradientUnits="userSpaceOnUse" cx="0" cy="0" r="220.2"><stop offset="0.000" stop-color="#310e53"/><stop offset="0.008" stop-color="#35248f"/><stop offset="0.016" stop-color="#30369f"/><stop offset="0.027" stop-color="#3e52ad"/><stop offset="0.041" stop-color="#5f96da"/><stop offset="0.058" stop-color="#7fb6d8"/><stop offset="0.075" stop-color="#85b7c3"/><stop offset="0.096" stop-color="#84b6b0"/><stop offset="0.123" stop-color="#82b4a2"/><stop offset="0.158" stop-color="#82b397"/><stop offset="0.199" stop-color="#81b28b"/><stop offset="0.247" stop-color="#80b181"/><stop offset="0.302" stop-color="#80b078"/><stop offset="0.370" stop-color="#7eaf6f"/><stop offset="0.453" stop-color="#7dae66"/><stop offset="0.549" stop-color="#7bae5e"/><stop offset="0.658" stop-color="#7aad56"/><stop offset="0.782" stop-color="#79ac50"/><stop offset="0.905" stop-color="#79ac4f"/><stop offset="1.000" stop-color="#79ac4d"/></radialGradient><radialGradient id="R17" gradientUnits="userSpaceOnUse" cx="0" cy="0" r="220.2"><stop offset="0.000" stop-color="#310e52"/><stop offset="0.008" stop-color="#35248e"/><stop offset="0.016" stop-color="#30369f"/><stop offset="0.027" stop-color="#3d51ac"/><stop offset="0.041" stop-color="#5f95da"/><stop offset="0.058" stop-color="#7fb6d8"/><stop offset="0.075" stop-color="#85b7c2"/><stop offset="0.096" stop-color="#83b5ae"/><stop offset="0.123" stop-color="#82b49f"/><stop offset="0.158" stop-color="#81b393"/><stop offset="0.199" stop-color="#81b187"/><stop offset="0.247" stop-color="#80b07c"/><stop offset="0.302" stop-color="#7faf72"/><stop offset="0.370" stop-color="#7daf69"/><stop offset="0.453" stop-color="#7cae5f"/><stop offset="0.549" stop-color="#7aad56"/><stop offset="0.658" stop-color="#79ac4e"/><stop offset="0.782" stop-color="#78ab48"/><stop offset="0.905" stop-color="#77ab46"/><stop offset="1.000" stop-color="#77ab44"/></radialGradient><radialGradient id="R18" gradientUnits="userSpaceOnUse" cx="0" cy="0" r="220.2"><stop offset="0.000" stop-color="#300e50"/><stop offset="0.008" stop-color="#35238e"/><stop offset="0.016" stop-color="#30369e"/><stop offset="0.027" stop-color="#3d50ac"/><stop offset="0.041" stop-color="#5f95da"/><stop offset="0.058" stop-color="#80b6d7"/><stop offset="0.075" stop-color="#85b7bf"/><stop offset="0.096" stop-color="#83b5aa"/><stop offset="0.123" stop-color="#82b39a"/><stop offset="0.158" stop-color="#81b28c"/><stop offset="0.199" stop-color="#80b07e"/><stop offset="0.247" stop-color="#7faf72"/><stop offset="0.302" stop-color="#7daf68"/><stop offset="0.370" stop-color="#7bae5e"/><stop offset="0.453" stop-color="#7aad53"/><stop offset="0.549" stop-color="#78ac4a"/><stop offset="0.658" stop-color="#76ab41"/><stop offset="0.782" stop-color="#75aa39"/><stop offset="0.905" stop-color="#74a937"/><stop offset="1.000" stop-color="#74a935"/></radialGradient><radialGradient id="R19" gradientUnits="userSpaceOnUse" cx="0" cy="0" r="220.2"><stop offset="0.000" stop-color="#300e4f"/><stop offset="0.008" stop-color="#35238d"/><stop offset="0.016" stop-color="#30359e"/><stop offset="0.027" stop-color="#3c4fab"/><stop offset="0.041" stop-color="#5f95da"/><stop offset="0.058" stop-color="#80b6d6"/><stop offset="0.075" stop-color="#85b7bc"/><stop offset="0.096" stop-color="#83b5a6"/><stop offset="0.123" stop-color="#81b394"/><stop offset="0.158" stop-color="#81b185"/><stop offset="0.199" stop-color="#7fb076"/><stop offset="0.247" stop-color="#7daf69"/><stop offset="0.302" stop-color="#7bae5e"/><stop offset="0.370" stop-color="#7aad53"/><stop offset="0.453" stop-color="#78ab48"/><stop offset="0.549" stop-color="#76aa3e"/><stop offset="0.658" stop-color="#74a934"/><stop offset="0.782" stop-color="#72a832"/><stop offset="0.905" stop-color="#72a831"/><stop offset="1.000" stop-color="#72a830"/></radialGradient><radialGradient id="R20" gradientUnits="userSpaceOnUse" cx="0" cy="0" r="220.2"><stop offset="0.000" stop-color="#2f0e4d"/><stop offset="0.008" stop-color="#36228d"/><stop offset="0.016" stop-color="#30359e"/><stop offset="0.027" stop-color="#3c4eab"/><stop offset="0.041" stop-color="#5f96da"/><stop offset="0.058" stop-color="#81b6d5"/><stop offset="0.075" stop-color="#85b7b9"/><stop offset="0.096" stop-color="#82b4a2"/><stop offset="0.123" stop-color="#81b28f"/><stop offset="0.158" stop-color="#80b07f"/><stop offset="0.199" stop-color="#7eaf6e"/><stop offset="0.247" stop-color="#7cae60"/><stop offset="0.302" stop-color="#7aad54"/><stop offset="0.370" stop-color="#78ac49"/><stop offset="0.453" stop-color="#76aa3d"/><stop offset="0.549" stop-color="#74a933"/><stop offset="0.658" stop-color="#72a830"/><stop offset="0.782" stop-color="#70a72e"/><stop offset="0.905" stop-color="#70a62d"/><stop offset="1.000" stop-color="#6fa62d"/></radialGradient><radialGradient id="R21" gradientUnits="userSpaceOnUse" cx="0" cy="0" r="220.2"><stop offset="0.000" stop-color="#2f0e4c"/><stop offset="0.008" stop-color="#36228c"/><stop offset="0.016" stop-color="#30359e"/><stop offset="0.027" stop-color="#3c4daa"/><stop offset="0.041" stop-color="#5f96da"/><stop offset="0.058" stop-color="#81b6d3"/><stop offset="0.075" stop-color="#84b6b6"/><stop offset="0.096" stop-color="#82b49d"/><stop offset="0.123" stop-color="#81b289"/><stop offset="0.158" stop-color="#80b077"/><stop offset="0.199" stop-color="#7dae66"/><stop offset="0.247" stop-color="#7aad56"/><stop offset="0.302" stop-color="#78ac4a"/><stop offset="0.370" stop-color="#76aa3f"/><stop offset="0.453" stop-color="#74a933"/><stop offset="0.549" stop-color="#72a830"/><stop offset="0.658" stop-color="#70a62d"/><stop offset="0.782" stop-color="#6ea62b"/><stop offset="0.905" stop-color="#6ea52b"/><stop offset="1.000" stop-color="#6ea52a"/></radialGradient><radialGradient id="R22" gradientUnits="userSpaceOnUse" cx="0" cy="0" r="220.2"><stop offset="0.000" stop-color="#2e0e4a"/><stop offset="0.008" stop-color="#36218c"/><stop offset="0.016" stop-color="#30359e"/><stop offset="0.027" stop-color="#3c4daa"/><stop offset="0.041" stop-color="#6197da"/><stop offset="0.058" stop-color="#82b7d1"/><stop offset="0.075" stop-color="#84b6b0"/><stop offset="0.096" stop-color="#81b395"/><stop offset="0.123" stop-color="#80b07f"/><stop offset="0.158" stop-color="#7eaf6b"/><stop offset="0.199" stop-color="#7aad57"/><stop offset="0.247" stop-color="#78ab48"/><stop offset="0.302" stop-color="#75aa3a"/><stop offset="0.370" stop-color="#73a832"/><stop offset="0.453" stop-color="#71a72f"/><stop offset="0.549" stop-color="#6fa62b"/><stop offset="0.658" stop-color="#6da52a"/><stop offset="0.782" stop-color="#6ca428"/><stop offset="0.905" stop-color="#6da529"/><stop offset="1.000" stop-color="#6da529"/></radialGradient><radialGradient id="R23" gradientUnits="userSpaceOnUse" cx="0" cy="0" r="220.2"><stop offset="0.000" stop-color="#2d0d48"/><stop offset="0.008" stop-color="#36218c"/><stop offset="0.016" stop-color="#30349e"/><stop offset="0.027" stop-color="#3c4daa"/><stop offset="0.041" stop-color="#6299db"/><stop offset="0.058" stop-color="#84b7ce"/><stop offset="0.075" stop-color="#83b5aa"/><stop offset="0.096" stop-color="#81b28d"/><stop offset="0.123" stop-color="#7fb075"/><stop offset="0.158" stop-color="#7cae60"/><stop offset="0.199" stop-color="#78ac4a"/><stop offset="0.247" stop-color="#75aa3a"/><stop offset="0.302" stop-color="#73a832"/><stop offset="0.370" stop-color="#70a72e"/><stop offset="0.453" stop-color="#6ea62b"/><stop offset="0.549" stop-color="#6da429"/><stop offset="0.658" stop-color="#6ea529"/><stop offset="0.782" stop-color="#71a72b"/><stop offset="0.905" stop-color="#72a82c"/><stop offset="1.000" stop-color="#72a82c"/></radialGradient><radialGradient id="R24" gradientUnits="userSpaceOnUse" cx="0" cy="0" r="220.2"><stop offset="0.000" stop-color="#2d0d47"/><stop offset="0.008" stop-color="#36218b"/><stop offset="0.016" stop-color="#30349e"/><stop offset="0.027" stop-color="#3c4eaa"/><stop offset="0.041" stop-color="#649cdc"/><stop offset="0.058" stop-color="#85b8ca"/><stop offset="0.075" stop-color="#82b4a2"/><stop offset="0.096" stop-color="#80b183"/><stop offset="0.123" stop-color="#7daf69"/><stop offset="0.158" stop-color="#79ad52"/><stop offset="0.199" stop-color="#75aa3b"/><stop offset="0.247" stop-color="#72a831"/><stop offset="0.302" stop-color="#70a62d"/><stop offset="0.370" stop-color="#6ea52b"/><stop offset="0.453" stop-color="#6ca428"/><stop offset="0.549" stop-color="#6fa62a"/><stop offset="0.658" stop-color="#74a92c"/><stop offset="0.782" stop-color="#78aa2d"/><stop offset="0.905" stop-color="#79ab2e"/><stop offset="1.000" stop-color="#7aab2e"/></radialGradient><radialGradient id="R25" gradientUnits="userSpaceOnUse" cx="0" cy="0" r="220.2"><stop offset="0.000" stop-color="#2d0d46"/><stop offset="0.008" stop-color="#37218b"/><stop offset="0.016" stop-color="#30349d"/><stop offset="0.027" stop-color="#3c4fab"/><stop offset="0.041" stop-color="#679fdd"/><stop offset="0.058" stop-color="#86b8c4"/><stop offset="0.075" stop-color="#82b399"/><stop offset="0.096" stop-color="#80b079"/><stop offset="0.123" stop-color="#7bae5c"/><stop offset="0.158" stop-color="#77ab44"/><stop offset="0.199" stop-color="#73a832"/><stop offset="0.247" stop-color="#70a62d"/><stop offset="0.302" stop-color="#6ea52a"/><stop offset="0.370" stop-color="#6ca428"/><stop offset="0.453" stop-color="#70a72b"/><stop offset="0.549" stop-color="#75a92d"/><stop offset="0.658" stop-color="#7bac2e"/><stop offset="0.782" stop-color="#83b02e"/><stop offset="0.905" stop-color="#85b12e"/><stop offset="1.000" stop-color="#86b22e"/></radialGradient><radialGradient id="R26" gradientUnits="userSpaceOnUse" cx="0" cy="0" r="220.2"><stop offset="0.000" stop-color="#2c0d45"/><stop offset="0.008" stop-color="#37208b"/><stop offset="0.016" stop-color="#30349e"/><stop offset="0.027" stop-color="#3d51ad"/><stop offset="0.041" stop-color="#6da5df"/><stop offset="0.058" stop-color="#84b6b8"/><stop offset="0.075" stop-color="#81b28a"/><stop offset="0.096" stop-color="#7dae65"/><stop offset="0.123" stop-color="#77ab46"/><stop offset="0.158" stop-color="#73a832"/><stop offset="0.199" stop-color="#6fa62b"/><stop offset="0.247" stop-color="#6ca428"/><stop offset="0.302" stop-color="#6fa62a"/><stop offset="0.370" stop-color="#73a92c"/><stop offset="0.453" stop-color="#7aab2e"/><stop offset="0.549" stop-color="#84b12e"/><stop offset="0.658" stop-color="#8fb72e"/><stop offset="0.782" stop-color="#9cbd2d"/><stop offset="0.905" stop-color="#a0bf2d"/><stop offset="1.000" stop-color="#a3c02c"/></radialGradient><radialGradient id="R27" gradientUnits="userSpaceOnUse" cx="0" cy="0" r="220.2"><stop offset="0.000" stop-color="#2c0d44"/><stop offset="0.008" stop-color="#37208b"/><stop offset="0.016" stop-color="#30349e"/><stop offset="0.027" stop-color="#3f55af"/><stop offset="0.041" stop-color="#75aee2"/><stop offset="0.058" stop-color="#83b5a7"/><stop offset="0.075" stop-color="#7fb075"/><stop offset="0.096" stop-color="#78ac4c"/><stop offset="0.123" stop-color="#72a831"/><stop offset="0.158" stop-color="#6ea52b"/><stop offset="0.199" stop-color="#6ea529"/><stop offset="0.247" stop-color="#74a92c"/><stop offset="0.302" stop-color="#7aab2e"/><stop offset="0.370" stop-color="#83b02e"/><stop offset="0.453" stop-color="#8fb72e"/><stop offset="0.549" stop-color="#a2c02c"/><stop offset="0.658" stop-color="#b7c82a"/><stop offset="0.782" stop-color="#ccd327"/><stop offset="0.905" stop-color="#d2d626"/><stop offset="1.000" stop-color="#d6d825"/></radialGradient><radialGradient id="R28" gradientUnits="userSpaceOnUse" cx="0" cy="0" r="220.2"><stop offset="0.000" stop-color="#2c0d43"/><stop offset="0.008" stop-color="#37208a"/><stop offset="0.016" stop-color="#30359e"/><stop offset="0.027" stop-color="#4159b2"/><stop offset="0.041" stop-color="#7cb5df"/><stop offset="0.058" stop-color="#81b393"/><stop offset="0.075" stop-color="#7bae5c"/><stop offset="0.096" stop-color="#73a933"/><stop offset="0.123" stop-color="#6ea52b"/><stop offset="0.158" stop-color="#6fa62a"/><stop offset="0.199" stop-color="#78aa2d"/><stop offset="0.247" stop-color="#83b02e"/><stop offset="0.302" stop-color="#8fb72e"/><stop offset="0.370" stop-color="#9fbf2d"/><stop offset="0.453" stop-color="#b7c82a"/><stop offset="0.549" stop-color="#d4d725"/><stop offset="0.658" stop-color="#ebe021"/><stop offset="0.782" stop-color="#ecc41f"/><stop offset="0.905" stop-color="#ebb71e"/><stop offset="1.000" stop-color="#e8ac1d"/></radialGradient><radialGradient id="R29" gradientUnits="userSpaceOnUse" cx="0" cy="0" r="220.2"><stop offset="0.000" stop-color="#2b0d42"/><stop offset="0.008" stop-color="#37208a"/><stop offset="0.016" stop-color="#30359e"/><stop offset="0.027" stop-color="#435cb4"/><stop offset="0.041" stop-color="#7fb6d9"/><stop offset="0.058" stop-color="#81b186"/><stop offset="0.075" stop-color="#78ac4b"/><stop offset="0.096" stop-color="#70a72e"/><stop offset="0.123" stop-color="#6da428"/><stop offset="0.158" stop-color="#75a92d"/><stop offset="0.199" stop-color="#83b02e"/><stop offset="0.247" stop-color="#91b82e"/><stop offset="0.302" stop-color="#a5c12c"/><stop offset="0.370" stop-color="#bbca2a"/><stop offset="0.453" stop-color="#d9d924"/><stop offset="0.549" stop-color="#efe020"/><stop offset="0.658" stop-color="#e7a31d"/><stop offset="0.782" stop-color="#db671b"/><stop offset="0.905" stop-color="#d8591b"/><stop offset="1.000" stop-color="#d4521b"/></radialGradient><radialGradient id="R30" gradientUnits="userSpaceOnUse" cx="0" cy="0" r="220.2"><stop offset="0.000" stop-color="#2b0d41"/><stop offset="0.008" stop-color="#37208a"/><stop offset="0.016" stop-color="#30359e"/><stop offset="0.027" stop-color="#4460b6"/><stop offset="0.041" stop-color="#81b6d3"/><stop offset="0.058" stop-color="#80b077"/><stop offset="0.075" stop-color="#75aa3a"/><stop offset="0.096" stop-color="#6ea52b"/><stop offset="0.123" stop-color="#71a82c"/><stop offset="0.158" stop-color="#7ead2e"/><stop offset="0.199" stop-color="#90b82e"/><stop offset="0.247" stop-color="#a8c22c"/><stop offset="0.302" stop-color="#c0cd29"/><stop offset="0.370" stop-color="#dcdb24"/><stop offset="0.453" stop-color="#f0de20"/><stop offset="0.549" stop-color="#e3951c"/><stop offset="0.658" stop-color="#d3501b"/><stop offset="0.782" stop-color="#c1291c"/><stop offset="0.905" stop-color="#be251d"/><stop offset="1.000" stop-color="#bc231d"/></radialGradient><radialGradient id="R31" gradientUnits="userSpaceOnUse" cx="0" cy="0" r="220.2"><stop offset="0.000" stop-color="#2a0d3f"/><stop offset="0.008" stop-color="#37208a"/><stop offset="0.016" stop-color="#30359e"/><stop offset="0.027" stop-color="#4663b9"/><stop offset="0.041" stop-color="#84b7cc"/><stop offset="0.058" stop-color="#7daf69"/><stop offset="0.075" stop-color="#72a831"/><stop offset="0.096" stop-color="#6ca428"/><stop offset="0.123" stop-color="#78aa2d"/><stop offset="0.158" stop-color="#89b42e"/><stop offset="0.199" stop-color="#a5c12c"/><stop offset="0.247" stop-color="#c1cd28"/><stop offset="0.302" stop-color="#dfdc23"/><stop offset="0.370" stop-color="#f0df20"/><stop offset="0.453" stop-color="#e4961d"/><stop offset="0.549" stop-color="#d14c1b"/><stop offset="0.658" stop-color="#bd241d"/><stop offset="0.782" stop-color="#b41a20"/><stop offset="0.905" stop-color="#b31920"/><stop offset="1.000" stop-color="#b21820"/></radialGradient><radialGradient id="R32" gradientUnits="userSpaceOnUse" cx="0" cy="0" r="220.2"><stop offset="0.000" stop-color="#2a0d3e"/><stop offset="0.008" stop-color="#371f8a"/><stop offset="0.016" stop-color="#30359e"/><stop offset="0.027" stop-color="#4766bb"/><stop offset="0.041" stop-color="#86b8c5"/><stop offset="0.058" stop-color="#7bad5b"/><stop offset="0.075" stop-color="#70a72d"/><stop offset="0.096" stop-color="#70a72b"/><stop offset="0.123" stop-color="#80ae2e"/><stop offset="0.158" stop-color="#95ba2e"/><stop offset="0.199" stop-color="#b9c92a"/><stop offset="0.247" stop-color="#dbdb24"/><stop offset="0.302" stop-color="#efe020"/><stop offset="0.370" stop-color="#e7a41d"/><stop offset="0.453" stop-color="#d6551b"/><stop offset="0.549" stop-color="#be251d"/><stop offset="0.658" stop-color="#b31920"/><stop offset="0.782" stop-color="#ae1620"/><stop offset="1.000" stop-color="#ae1620"/></radialGradient><radialGradient id="R33" gradientUnits="userSpaceOnUse" cx="0" cy="0" r="220.2"><stop offset="0.000" stop-color="#2a0c3d"/><stop offset="0.008" stop-color="#371f89"/><stop offset="0.016" stop-color="#30359e"/><stop offset="0.027" stop-color="#4766ba"/><stop offset="0.041" stop-color="#86b8c5"/><stop offset="0.058" stop-color="#7bad5a"/><stop offset="0.075" stop-color="#70a62d"/><stop offset="0.096" stop-color="#70a72b"/><stop offset="0.123" stop-color="#81af2e"/><stop offset="0.158" stop-color="#97bb2d"/><stop offset="0.199" stop-color="#bccb29"/><stop offset="0.247" stop-color="#e0dd23"/><stop offset="0.302" stop-color="#efda20"/><stop offset="0.370" stop-color="#e4991d"/><stop offset="0.453" stop-color="#d24e1b"/><stop offset="0.549" stop-color="#bc231d"/><stop offset="0.658" stop-color="#b21820"/><stop offset="0.782" stop-color="#ae1620"/><stop offset="1.000" stop-color="#ae1620"/></radialGradient><radialGradient id="R34" gradientUnits="userSpaceOnUse" cx="0" cy="0" r="220.2"><stop offset="0.000" stop-color="#290c3c"/><stop offset="0.008" stop-color="#381f89"/><stop offset="0.016" stop-color="#30359e"/><stop offset="0.027" stop-color="#4765ba"/><stop offset="0.041" stop-color="#86b8c5"/><stop offset="0.058" stop-color="#7bad59"/><stop offset="0.075" stop-color="#6fa62d"/><stop offset="0.096" stop-color="#71a72b"/><stop offset="0.123" stop-color="#82b02e"/><stop offset="0.158" stop-color="#99bc2d"/><stop offset="0.199" stop-color="#bfcc29"/><stop offset="0.247" stop-color="#e3de23"/><stop offset="0.302" stop-color="#efd41f"/><stop offset="0.370" stop-color="#e3911c"/><stop offset="0.453" stop-color="#d0491b"/><stop offset="0.549" stop-color="#bb211e"/><stop offset="0.658" stop-color="#b21820"/><stop offset="0.782" stop-color="#ae1620"/><stop offset="1.000" stop-color="#ae1620"/></radialGradient><radialGradient id="R35" gradientUnits="userSpaceOnUse" cx="0" cy="0" r="220.2"><stop offset="0.000" stop-color="#290c3b"/><stop offset="0.008" stop-color="#381e89"/><stop offset="0.016" stop-color="#30359e"/><stop offset="0.027" stop-color="#4663b9"/><stop offset="0.041" stop-color="#86b8c8"/><stop offset="0.058" stop-color="#7bae5d"/><stop offset="0.075" stop-color="#70a72e"/><stop offset="0.096" stop-color="#70a72b"/><stop offset="0.123" stop-color="#80af2e"/><stop offset="0.158" stop-color="#96bb2e"/><stop offset="0.199" stop-color="#baca2a"/><stop offset="0.247" stop-color="#dddc24"/><stop offset="0.302" stop-color="#f0de20"/><stop offset="0.370" stop-color="#e69e1d"/><stop offset="0.453" stop-color="#d4511b"/><stop offset="0.549" stop-color="#bd241d"/><stop offset="0.658" stop-color="#b31920"/><stop offset="0.782" stop-color="#ae1620"/><stop offset="1.000" stop-color="#ae1620"/></radialGradient><radialGradient id="R36" gradientUnits="userSpaceOnUse" cx="0" cy="0" r="220.2"><stop offset="0.000" stop-color="#290c3a"/><stop offset="0.008" stop-color="#381e88"/><stop offset="0.016" stop-color="#30349d"/><stop offset="0.027" stop-color="#4561b7"/><stop offset="0.041" stop-color="#85b8cb"/><stop offset="0.058" stop-color="#7cae62"/><stop offset="0.075" stop-color="#71a72f"/><stop offset="0.096" stop-color="#6fa62a"/><stop offset="0.123" stop-color="#7dad2e"/><stop offset="0.158" stop-color="#91b82e"/><stop offset="0.199" stop-color="#b4c72b"/><stop offset="0.247" stop-color="#d5d825"/><stop offset="0.302" stop-color="#ede021"/><stop offset="0.370" stop-color="#eab21e"/><stop offset="0.453" stop-color="#d95e1b"/><stop offset="0.549" stop-color="#c0271c"/><stop offset="0.658" stop-color="#b51a20"/><stop offset="0.782" stop-color="#ae1620"/><stop offset="1.000" stop-color="#ae1620"/></radialGradient><radialGradient id="R37" gradientUnits="userSpaceOnUse" cx="0" cy="0" r="220.2"><stop offset="0.000" stop-color="#280c39"/><stop offset="0.008" stop-color="#381e88"/><stop offset="0.016" stop-color="#30339d"/><stop offset="0.027" stop-color="#425bb3"/><stop offset="0.041" stop-color="#81b6d4"/><stop offset="0.058" stop-color="#7faf74"/><stop offset="0.075" stop-color="#74a934"/><stop offset="0.096" stop-color="#6da529"/><stop offset="0.123" stop-color="#75a92d"/><stop offset="0.158" stop-color="#85b12e"/><stop offset="0.199" stop-color="#9dbe2d"/><stop offset="0.247" stop-color="#b8c92a"/><stop offset="0.302" stop-color="#d4d725"/><stop offset="0.370" stop-color="#ebe021"/><stop offset="0.453" stop-color="#e9af1e"/><stop offset="0.549" stop-color="#d85b1b"/><stop offset="0.658" stop-color="#c1291c"/><stop offset="0.782" stop-color="#b81d1f"/><stop offset="0.905" stop-color="#b51a20"/><stop offset="1.000" stop-color="#b41920"/></radialGradient><radialGradient id="R38" gradientUnits="userSpaceOnUse" cx="0" cy="0" r="220.2"><stop offset="0.000" stop-color="#280c38"/><stop offset="0.008" stop-color="#391d87"/><stop offset="0.016" stop-color="#30339d"/><stop offset="0.027" stop-color="#3f55af"/><stop offset="0.041" stop-color="#7db5dd"/><stop offset="0.058" stop-color="#81b185"/><stop offset="0.075" stop-color="#77ab46"/><stop offset="0.096" stop-color="#6fa62c"/><stop offset="0.123" stop-color="#6fa62a"/><stop offset="0.158" stop-color="#79ab2e"/><stop offset="0.199" stop-color="#8bb52e"/><stop offset="0.247" stop-color="#9fbe2d"/><stop offset="0.302" stop-color="#b5c72a"/><stop offset="0.370" stop-color="#cfd426"/><stop offset="0.453" stop-color="#ebe021"/><stop offset="0.549" stop-color="#eab21e"/><stop offset="0.658" stop-color="#db651b"/><stop offset="0.782" stop-color="#c93b1c"/><stop offset="0.905" stop-color="#c4301c"/><stop offset="1.000" stop-color="#c1291c"/></radialGradient><radialGradient id="R39" gradientUnits="userSpaceOnUse" cx="0" cy="0" r="220.2"><stop offset="0.000" stop-color="#270c37"/><stop offset="0.008" stop-color="#3a1c86"/><stop offset="0.016" stop-color="#30329c"/><stop offset="0.027" stop-color="#3c4fab"/><stop offset="0.041" stop-color="#78b2e3"/><stop offset="0.058" stop-color="#81b396"/><stop offset="0.075" stop-color="#7bad5a"/><stop offset="0.096" stop-color="#72a831"/><stop offset="0.123" stop-color="#6da529"/><stop offset="0.158" stop-color="#72a82c"/><stop offset="0.199" stop-color="#7ead2e"/><stop offset="0.247" stop-color="#8bb52e"/><stop offset="0.302" stop-color="#9abc2d"/><stop offset="0.370" stop-color="#afc52b"/><stop offset="0.453" stop-color="#cbd227"/><stop offset="0.549" stop-color="#e9e021"/><stop offset="0.658" stop-color="#ecc21e"/><stop offset="0.782" stop-color="#e1871c"/><stop offset="0.905" stop-color="#de771c"/><stop offset="1.000" stop-color="#dc6b1b"/></radialGradient><radialGradient id="R40" gradientUnits="userSpaceOnUse" cx="0" cy="0" r="220.2"><stop offset="0.000" stop-color="#270c36"/><stop offset="0.008" stop-color="#3a1c86"/><stop offset="0.016" stop-color="#30319c"/><stop offset="0.027" stop-color="#3a4aa8"/><stop offset="0.041" stop-color="#6ea7e0"/><stop offset="0.058" stop-color="#83b5a8"/><stop offset="0.075" stop-color="#7eaf6f"/><stop offset="0.096" stop-color="#76aa40"/><stop offset="0.123" stop-color="#70a62d"/><stop offset="0.158" stop-color="#6ca428"/><stop offset="0.199" stop-color="#73a92c"/><stop offset="0.247" stop-color="#7cac2e"/><stop offset="0.302" stop-color="#87b22e"/><stop offset="0.370" stop-color="#92b92e"/><stop offset="0.453" stop-color="#a8c22c"/><stop offset="0.549" stop-color="#c3ce28"/><stop offset="0.658" stop-color="#e0dd23"/><stop offset="0.782" stop-color="#eee020"/><stop offset="0.905" stop-color="#efda20"/><stop offset="1.000" stop-color="#eed11f"/></radialGradient><radialGradient id="R41" gradientUnits="userSpaceOnUse" cx="0" cy="0" r="220.2"><stop offset="0.000" stop-color="#270c35"/><stop offset="0.008" stop-color="#3b1b85"/><stop offset="0.016" stop-color="#30319b"/><stop offset="0.027" stop-color="#3948a7"/><stop offset="0.041" stop-color="#6198db"/><stop offset="0.058" stop-color="#85b7c0"/><stop offset="0.075" stop-color="#81b28b"/><stop offset="0.096" stop-color="#7cae61"/><stop offset="0.123" stop-color="#75aa3c"/><stop offset="0.158" stop-color="#71a72e"/><stop offset="0.199" stop-color="#6da529"/><stop offset="0.247" stop-color="#6fa62a"/><stop offset="0.302" stop-color="#73a92c"/><stop offset="0.370" stop-color="#79ab2e"/><stop offset="0.453" stop-color="#84b12e"/><stop offset="0.549" stop-color="#91b82e"/><stop offset="0.658" stop-color="#a4c02c"/><stop offset="0.782" stop-color="#b6c82a"/><stop offset="0.905" stop-color="#bbca2a"/><stop offset="1.000" stop-color="#bfcc29"/></radialGradient><radialGradient id="R42" gradientUnits="userSpaceOnUse" cx="0" cy="0" r="220.2"><stop offset="0.000" stop-color="#260c34"/><stop offset="0.008" stop-color="#3b1a85"/><stop offset="0.016" stop-color="#30309b"/><stop offset="0.027" stop-color="#3846a6"/><stop offset="0.041" stop-color="#588cd5"/><stop offset="0.058" stop-color="#83b7cf"/><stop offset="0.075" stop-color="#82b4a1"/><stop offset="0.096" stop-color="#80b07b"/><stop offset="0.123" stop-color="#7bad58"/><stop offset="0.158" stop-color="#76aa3d"/><stop offset="0.199" stop-color="#71a730"/><stop offset="0.247" stop-color="#6ea62b"/><stop offset="0.302" stop-color="#6da429"/><stop offset="0.370" stop-color="#6ea62a"/><stop offset="0.453" stop-color="#73a82c"/><stop offset="0.549" stop-color="#7aab2e"/><stop offset="0.658" stop-color="#84b12e"/><stop offset="0.782" stop-color="#8db62e"/><stop offset="0.905" stop-color="#8fb82e"/><stop offset="1.000" stop-color="#91b92e"/></radialGradient><radialGradient id="R43" gradientUnits="userSpaceOnUse" cx="0" cy="0" r="220.2"><stop offset="0.000" stop-color="#260d33"/><stop offset="0.008" stop-color="#3c1a84"/><stop offset="0.016" stop-color="#302f9a"/><stop offset="0.027" stop-color="#3744a6"/><stop offset="0.041" stop-color="#5483cf"/><stop offset="0.058" stop-color="#7fb6d8"/><stop offset="0.075" stop-color="#84b6b2"/><stop offset="0.096" stop-color="#81b28e"/><stop offset="0.123" stop-color="#7eaf6f"/><stop offset="0.158" stop-color="#7aad55"/><stop offset="0.199" stop-color="#76aa3d"/><stop offset="0.247" stop-color="#73a832"/><stop offset="0.302" stop-color="#70a72e"/><stop offset="0.370" stop-color="#6ea52b"/><stop offset="0.453" stop-color="#6ca428"/><stop offset="0.549" stop-color="#70a72b"/><stop offset="0.658" stop-color="#75a92d"/><stop offset="0.782" stop-color="#7aab2e"/><stop offset="0.905" stop-color="#7cac2e"/><stop offset="1.000" stop-color="#7dad2e"/></radialGradient><radialGradient id="R44" gradientUnits="userSpaceOnUse" cx="0" cy="0" r="220.2"><stop offset="0.000" stop-color="#260d32"/><stop offset="0.008" stop-color="#3c1984"/><stop offset="0.016" stop-color="#302f9a"/><stop offset="0.027" stop-color="#3643a5"/><stop offset="0.041" stop-color="#517dcb"/><stop offset="0.058" stop-color="#7cb5df"/><stop offset="0.075" stop-color="#85b7bd"/><stop offset="0.096" stop-color="#82b39b"/><stop offset="0.123" stop-color="#80b07d"/><stop offset="0.158" stop-color="#7dae66"/><stop offset="0.199" stop-color="#79ac4f"/><stop offset="0.247" stop-color="#76aa3e"/><stop offset="0.302" stop-color="#73a933"/><stop offset="0.370" stop-color="#71a72f"/><stop offset="0.453" stop-color="#6fa62b"/><stop offset="0.549" stop-color="#6da429"/><stop offset="0.658" stop-color="#6ea62a"/><stop offset="0.782" stop-color="#72a82c"/><stop offset="0.905" stop-color="#73a82c"/><stop offset="1.000" stop-color="#74a92c"/></radialGradient><radialGradient id="R45" gradientUnits="userSpaceOnUse" cx="0" cy="0" r="220.2"><stop offset="0.000" stop-color="#250d31"/><stop offset="0.008" stop-color="#3c1984"/><stop offset="0.016" stop-color="#302f9a"/><stop offset="0.027" stop-color="#3643a5"/><stop offset="0.041" stop-color="#4f77c7"/><stop offset="0.058" stop-color="#7ab4e4"/><stop offset="0.075" stop-color="#86b8c7"/><stop offset="0.096" stop-color="#83b5a6"/><stop offset="0.123" stop-color="#81b28b"/><stop offset="0.158" stop-color="#7fb075"/><stop offset="0.199" stop-color="#7cae60"/><stop offset="0.247" stop-color="#79ac50"/><stop offset="0.302" stop-color="#77ab43"/><stop offset="0.370" stop-color="#74a936"/><stop offset="0.453" stop-color="#72a830"/><stop offset="0.549" stop-color="#6fa62c"/><stop offset="0.658" stop-color="#6da52a"/><stop offset="0.782" stop-color="#6ca428"/><stop offset="0.905" stop-color="#6da529"/><stop offset="1.000" stop-color="#6da529"/></radialGradient><radialGradient id="R46" gradientUnits="userSpaceOnUse" cx="0" cy="0" r="220.2"><stop offset="0.000" stop-color="#250d31"/><stop offset="0.008" stop-color="#3d1983"/><stop offset="0.016" stop-color="#302e9a"/><stop offset="0.027" stop-color="#3642a4"/><stop offset="0.041" stop-color="#4d72c3"/><stop offset="0.058" stop-color="#74aee2"/><stop offset="0.075" stop-color="#84b7cd"/><stop offset="0.096" stop-color="#84b6b1"/><stop offset="0.123" stop-color="#82b397"/><stop offset="0.158" stop-color="#80b183"/><stop offset="0.199" stop-color="#7eaf70"/><stop offset="0.247" stop-color="#7cae61"/><stop offset="0.302" stop-color="#7aad55"/><stop offset="0.370" stop-color="#78ac49"/><stop offset="0.453" stop-color="#75aa3b"/><stop offset="0.549" stop-color="#73a832"/><stop offset="0.658" stop-color="#70a72e"/><stop offset="0.782" stop-color="#6fa62b"/><stop offset="0.905" stop-color="#6ea52b"/><stop offset="1.000" stop-color="#6ea52b"/></radialGradient><radialGradient id="R47" gradientUnits="userSpaceOnUse" cx="0" cy="0" r="220.2"><stop offset="0.000" stop-color="#250d30"/><stop offset="0.008" stop-color="#3d1883"/><stop offset="0.016" stop-color="#302e99"/><stop offset="0.027" stop-color="#3541a4"/><stop offset="0.041" stop-color="#4a6dc0"/><stop offset="0.058" stop-color="#6fa7e0"/><stop offset="0.075" stop-color="#81b6d3"/><stop offset="0.096" stop-color="#85b7bb"/><stop offset="0.123" stop-color="#82b4a3"/><stop offset="0.158" stop-color="#81b291"/><stop offset="0.199" stop-color="#80b180"/><stop offset="0.247" stop-color="#7faf73"/><stop offset="0.302" stop-color="#7dae67"/><stop offset="0.370" stop-color="#7bae5c"/><stop offset="0.453" stop-color="#79ac4f"/><stop offset="0.549" stop-color="#76ab42"/><stop offset="0.658" stop-color="#74a934"/><stop offset="0.782" stop-color="#72a831"/><stop offset="0.905" stop-color="#72a831"/><stop offset="1.000" stop-color="#71a730"/></radialGradient><radialGradient id="R48" gradientUnits="userSpaceOnUse" cx="0" cy="0" r="220.2"><stop offset="0.000" stop-color="#250d30"/><stop offset="0.008" stop-color="#3d1883"/><stop offset="0.016" stop-color="#302e99"/><stop offset="0.027" stop-color="#3541a4"/><stop offset="0.041" stop-color="#496abd"/><stop offset="0.058" stop-color="#6ba3de"/><stop offset="0.075" stop-color="#80b6d7"/><stop offset="0.096" stop-color="#85b7c2"/><stop offset="0.123" stop-color="#83b5ab"/><stop offset="0.158" stop-color="#82b399"/><stop offset="0.199" stop-color="#81b28a"/><stop offset="0.247" stop-color="#80b07e"/><stop offset="0.302" stop-color="#7faf73"/><stop offset="0.370" stop-color="#7daf69"/><stop offset="0.453" stop-color="#7bae5d"/><stop offset="0.549" stop-color="#79ac50"/><stop offset="0.658" stop-color="#77ab44"/><stop offset="0.782" stop-color="#75aa3a"/><stop offset="0.905" stop-color="#75a937"/><stop offset="1.000" stop-color="#74a935"/></radialGradient><radialGradient id="R49" gradientUnits="userSpaceOnUse" cx="0" cy="0" r="220.2"><stop offset="0.000" stop-color="#240d2f"/><stop offset="0.008" stop-color="#3e1882"/><stop offset="0.016" stop-color="#302d99"/><stop offset="0.027" stop-color="#3540a4"/><stop offset="0.041" stop-color="#4767bb"/><stop offset="0.058" stop-color="#679fdd"/><stop offset="0.075" stop-color="#7eb5db"/><stop offset="0.096" stop-color="#86b8c9"/><stop offset="0.123" stop-color="#84b6b3"/><stop offset="0.158" stop-color="#82b4a2"/><stop offset="0.199" stop-color="#81b394"/><stop offset="0.247" stop-color="#81b289"/><stop offset="0.302" stop-color="#80b180"/><stop offset="0.370" stop-color="#7fb076"/><stop offset="0.453" stop-color="#7eaf6b"/><stop offset="0.549" stop-color="#7cae5f"/><stop offset="0.658" stop-color="#7aad54"/><stop offset="0.782" stop-color="#78ac4b"/><stop offset="0.905" stop-color="#78ab49"/><stop offset="1.000" stop-color="#77ab47"/></radialGradient><radialGradient id="R50" gradientUnits="userSpaceOnUse" cx="0" cy="0" r="220.2"><stop offset="0.000" stop-color="#240d2e"/><stop offset="0.008" stop-color="#3e1782"/><stop offset="0.016" stop-color="#302d99"/><stop offset="0.027" stop-color="#3440a3"/><stop offset="0.041" stop-color="#4664ba"/><stop offset="0.058" stop-color="#649bdc"/><stop offset="0.075" stop-color="#7cb5df"/><stop offset="0.096" stop-color="#84b7cd"/><stop offset="0.123" stop-color="#85b7bb"/><stop offset="0.158" stop-color="#83b5ab"/><stop offset="0.199" stop-color="#82b49e"/><stop offset="0.247" stop-color="#81b394"/><stop offset="0.302" stop-color="#81b28c"/><stop offset="0.370" stop-color="#81b184"/><stop offset="0.453" stop-color="#80b07a"/><stop offset="0.549" stop-color="#7eaf70"/><stop offset="0.658" stop-color="#7dae66"/><stop offset="0.782" stop-color="#7bae5d"/><stop offset="0.905" stop-color="#7bad5b"/><stop offset="1.000" stop-color="#7bad59"/></radialGradient><radialGradient id="R51" gradientUnits="userSpaceOnUse" cx="0" cy="0" r="220.2"><stop offset="0.000" stop-color="#240d2e"/><stop offset="0.008" stop-color="#3e1782"/><stop offset="0.016" stop-color="#302d99"/><stop offset="0.027" stop-color="#343fa3"/><stop offset="0.041" stop-color="#4562b8"/><stop offset="0.058" stop-color="#6097da"/><stop offset="0.075" stop-color="#7bb4e3"/><stop offset="0.096" stop-color="#82b7d2"/><stop offset="0.123" stop-color="#85b7c2"/><stop offset="0.158" stop-color="#84b6b4"/><stop offset="0.199" stop-color="#83b5a8"/><stop offset="0.247" stop-color="#82b49f"/><stop offset="0.302" stop-color="#82b398"/><stop offset="0.370" stop-color="#81b291"/><stop offset="0.453" stop-color="#81b188"/><stop offset="0.549" stop-color="#80b17f"/><stop offset="0.658" stop-color="#7fb077"/><stop offset="0.782" stop-color="#7eaf6f"/><stop offset="0.905" stop-color="#7eaf6d"/><stop offset="1.000" stop-color="#7eaf6c"/></radialGradient><radialGradient id="R52" gradientUnits="userSpaceOnUse" cx="0" cy="0" r="220.2"><stop offset="0.000" stop-color="#240d2d"/><stop offset="0.008" stop-color="#3e1782"/><stop offset="0.016" stop-color="#302d99"/><stop offset="0.027" stop-color="#343fa3"/><stop offset="0.041" stop-color="#4460b7"/><stop offset="0.058" stop-color="#5e94d9"/><stop offset="0.075" stop-color="#79b3e4"/><stop offset="0.096" stop-color="#81b6d5"/><stop offset="0.123" stop-color="#86b8c7"/><stop offset="0.158" stop-color="#85b7ba"/><stop offset="0.199" stop-color="#83b5af"/><stop offset="0.247" stop-color="#83b5a6"/><stop offset="0.302" stop-color="#82b49f"/><stop offset="0.370" stop-color="#82b399"/><stop offset="0.453" stop-color="#81b291"/><stop offset="0.549" stop-color="#81b289"/><stop offset="0.658" stop-color="#80b181"/><stop offset="0.782" stop-color="#80b07a"/><stop offset="0.905" stop-color="#80b079"/><stop offset="1.000" stop-color="#80b077"/></radialGradient><radialGradient id="R53" gradientUnits="userSpaceOnUse" cx="0" cy="0" r="220.2"><stop offset="0.000" stop-color="#230d2d"/><stop offset="0.008" stop-color="#3f1781"/><stop offset="0.016" stop-color="#302d98"/><stop offset="0.027" stop-color="#333ea3"/><stop offset="0.041" stop-color="#445eb6"/><stop offset="0.058" stop-color="#5c92d9"/><stop offset="0.075" stop-color="#76b0e3"/><stop offset="0.096" stop-color="#7fb6d7"/><stop offset="0.123" stop-color="#85b8cb"/><stop offset="0.158" stop-color="#85b7bf"/><stop offset="0.199" stop-color="#84b6b5"/><stop offset="0.247" stop-color="#83b5ae"/><stop offset="0.302" stop-color="#83b5a7"/><stop offset="0.370" stop-color="#82b4a1"/><stop offset="0.453" stop-color="#82b39a"/><stop offset="0.549" stop-color="#81b393"/><stop offset="0.658" stop-color="#81b28c"/><stop offset="0.782" stop-color="#81b186"/><stop offset="0.905" stop-color="#81b184"/><stop offset="1.000" stop-color="#80b183"/></radialGradient><radialGradient id="R54" gradientUnits="userSpaceOnUse" cx="0" cy="0" r="220.2"><stop offset="0.000" stop-color="#230d2c"/><stop offset="0.008" stop-color="#3f1681"/><stop offset="0.016" stop-color="#302c98"/><stop offset="0.027" stop-color="#333ea3"/><stop offset="0.041" stop-color="#435db5"/><stop offset="0.058" stop-color="#5a8fd7"/><stop offset="0.075" stop-color="#73ade2"/><stop offset="0.096" stop-color="#7eb5da"/><stop offset="0.123" stop-color="#83b7ce"/><stop offset="0.158" stop-color="#86b8c5"/><stop offset="0.199" stop-color="#85b7bc"/><stop offset="0.247" stop-color="#84b6b5"/><stop offset="0.302" stop-color="#83b5af"/><stop offset="0.370" stop-color="#83b5a9"/><stop offset="0.453" stop-color="#82b4a3"/><stop offset="0.549" stop-color="#82b49d"/><stop offset="0.658" stop-color="#82b397"/><stop offset="0.782" stop-color="#81b292"/><stop offset="0.905" stop-color="#81b290"/><stop offset="1.000" stop-color="#81b28f"/></radialGradient><radialGradient id="R55" gradientUnits="userSpaceOnUse" cx="0" cy="0" r="220.2"><stop offset="0.000" stop-color="#230d2c"/><stop offset="0.008" stop-color="#3f1681"/><stop offset="0.016" stop-color="#302c98"/><stop offset="0.027" stop-color="#333da2"/><stop offset="0.041" stop-color="#425bb3"/><stop offset="0.058" stop-color="#588cd5"/><stop offset="0.075" stop-color="#71a9e0"/><stop offset="0.096" stop-color="#7db5dd"/><stop offset="0.123" stop-color="#82b7d2"/><stop offset="0.158" stop-color="#85b8ca"/><stop offset="0.199" stop-color="#85b7c2"/><stop offset="0.247" stop-color="#85b7bc"/><stop offset="0.302" stop-color="#84b6b7"/><stop offset="0.370" stop-color="#84b6b2"/><stop offset="0.453" stop-color="#83b5ac"/><stop offset="0.549" stop-color="#83b5a7"/><stop offset="0.658" stop-color="#82b4a2"/><stop offset="0.782" stop-color="#82b49d"/><stop offset="0.905" stop-color="#82b49c"/><stop offset="1.000" stop-color="#82b49b"/></radialGradient><radialGradient id="R56" gradientUnits="userSpaceOnUse" cx="0" cy="0" r="220.2"><stop offset="0.000" stop-color="#230d2b"/><stop offset="0.008" stop-color="#3f1681"/><stop offset="0.016" stop-color="#302c98"/><stop offset="0.027" stop-color="#333da2"/><stop offset="0.041" stop-color="#4159b2"/><stop offset="0.058" stop-color="#5789d3"/><stop offset="0.075" stop-color="#6ea6df"/><stop offset="0.096" stop-color="#7cb5e0"/><stop offset="0.123" stop-color="#80b6d5"/><stop offset="0.158" stop-color="#84b7ce"/><stop offset="0.199" stop-color="#86b8c8"/><stop offset="0.247" stop-color="#86b8c3"/><stop offset="0.302" stop-color="#85b7be"/><stop offset="0.370" stop-color="#85b7ba"/><stop offset="0.453" stop-color="#84b6b6"/><stop offset="0.549" stop-color="#84b6b1"/><stop offset="0.658" stop-color="#83b5ad"/><stop offset="0.782" stop-color="#83b5a9"/><stop offset="0.905" stop-color="#83b5a8"/><stop offset="1.000" stop-color="#83b5a8"/></radialGradient><radialGradient id="R57" gradientUnits="userSpaceOnUse" cx="0" cy="0" r="220.2"><stop offset="0.000" stop-color="#230d2a"/><stop offset="0.008" stop-color="#401680"/><stop offset="0.016" stop-color="#302c98"/><stop offset="0.027" stop-color="#333da2"/><stop offset="0.041" stop-color="#4058b1"/><stop offset="0.058" stop-color="#5686d1"/><stop offset="0.075" stop-color="#6ba3de"/><stop offset="0.096" stop-color="#7ab4e3"/><stop offset="0.123" stop-color="#7fb6d8"/><stop offset="0.158" stop-color="#82b7d2"/><stop offset="0.199" stop-color="#84b7cd"/><stop offset="0.247" stop-color="#85b8ca"/><stop offset="0.302" stop-color="#86b8c6"/><stop offset="0.370" stop-color="#85b7c3"/><stop offset="0.453" stop-color="#85b7bf"/><stop offset="0.549" stop-color="#85b7bb"/><stop offset="0.658" stop-color="#84b6b8"/><stop offset="0.782" stop-color="#84b6b6"/><stop offset="0.905" stop-color="#84b6b5"/><stop offset="1.000" stop-color="#84b6b4"/></radialGradient><radialGradient id="R58" gradientUnits="userSpaceOnUse" cx="0" cy="0" r="220.2"><stop offset="0.000" stop-color="#220d2a"/><stop offset="0.008" stop-color="#401580"/><stop offset="0.016" stop-color="#302b97"/><stop offset="0.027" stop-color="#323ca2"/><stop offset="0.041" stop-color="#4056b0"/><stop offset="0.058" stop-color="#5484cf"/><stop offset="0.075" stop-color="#68a0dd"/><stop offset="0.096" stop-color="#78b2e3"/><stop offset="0.123" stop-color="#7eb5dc"/><stop offset="0.158" stop-color="#80b6d6"/><stop offset="0.199" stop-color="#82b7d1"/><stop offset="0.247" stop-color="#83b7ce"/><stop offset="0.302" stop-color="#84b7cc"/><stop offset="0.370" stop-color="#85b8ca"/><stop offset="0.453" stop-color="#86b8c8"/><stop offset="0.549" stop-color="#86b8c5"/><stop offset="0.658" stop-color="#85b7c3"/><stop offset="0.782" stop-color="#85b7c1"/><stop offset="0.905" stop-color="#85b7c1"/><stop offset="1.000" stop-color="#85b7c0"/></radialGradient><radialGradient id="R59" gradientUnits="userSpaceOnUse" cx="0" cy="0" r="220.2"><stop offset="0.000" stop-color="#220d29"/><stop offset="0.008" stop-color="#401580"/><stop offset="0.016" stop-color="#302b97"/><stop offset="0.027" stop-color="#323ca2"/><stop offset="0.041" stop-color="#3f55af"/><stop offset="0.058" stop-color="#5482ce"/><stop offset="0.075" stop-color="#679fdd"/><stop offset="0.096" stop-color="#77b0e3"/><stop offset="0.123" stop-color="#7db5dd"/><stop offset="0.158" stop-color="#7fb6d7"/><stop offset="0.199" stop-color="#81b6d3"/><stop offset="0.247" stop-color="#82b7d0"/><stop offset="0.302" stop-color="#83b7ce"/><stop offset="0.370" stop-color="#84b7cc"/><stop offset="0.453" stop-color="#85b8cb"/><stop offset="0.549" stop-color="#86b8c9"/><stop offset="0.658" stop-color="#86b8c7"/><stop offset="0.782" stop-color="#86b8c6"/><stop offset="0.905" stop-color="#86b8c5"/><stop offset="1.000" stop-color="#86b8c5"/></radialGradient><radialGradient id="R60" gradientUnits="userSpaceOnUse" cx="0" cy="0" r="220.2"><stop offset="0.000" stop-color="#220e29"/><stop offset="0.008" stop-color="#40157f"/><stop offset="0.016" stop-color="#312b97"/><stop offset="0.027" stop-color="#323ca2"/><stop offset="0.041" stop-color="#3f54ae"/><stop offset="0.058" stop-color="#5380cd"/><stop offset="0.075" stop-color="#669ddc"/><stop offset="0.096" stop-color="#75aee2"/><stop offset="0.123" stop-color="#7cb5df"/><stop offset="0.158" stop-color="#7fb6d9"/><stop offset="0.199" stop-color="#80b6d5"/><stop offset="0.247" stop-color="#81b6d3"/><stop offset="0.302" stop-color="#82b7d1"/><stop offset="0.370" stop-color="#83b7cf"/><stop offset="0.453" stop-color="#84b7cd"/><stop offset="0.549" stop-color="#84b7cc"/><stop offset="0.658" stop-color="#85b8cb"/><stop offset="0.782" stop-color="#85b8ca"/><stop offset="0.905" stop-color="#85b8ca"/><stop offset="1.000" stop-color="#85b8c9"/></radialGradient><radialGradient id="R61" gradientUnits="userSpaceOnUse" cx="0" cy="0" r="220.2"><stop offset="0.000" stop-color="#220e28"/><stop offset="0.008" stop-color="#3f157e"/><stop offset="0.016" stop-color="#312b97"/><stop offset="0.027" stop-color="#323ba1"/><stop offset="0.041" stop-color="#3e53ae"/><stop offset="0.058" stop-color="#527fcc"/><stop offset="0.075" stop-color="#649bdc"/><stop offset="0.096" stop-color="#73ade2"/><stop offset="0.123" stop-color="#7bb4e1"/><stop offset="0.158" stop-color="#7eb5db"/><stop offset="0.199" stop-color="#7fb6d7"/><stop offset="0.247" stop-color="#81b6d5"/><stop offset="0.302" stop-color="#81b6d3"/><stop offset="0.370" stop-color="#82b7d1"/><stop offset="0.453" stop-color="#83b7d0"/><stop offset="0.549" stop-color="#83b7cf"/><stop offset="0.658" stop-color="#83b7ce"/><stop offset="0.782" stop-color="#84b7cd"/><stop offset="1.000" stop-color="#84b7cd"/></radialGradient><radialGradient id="R62" gradientUnits="userSpaceOnUse" cx="0" cy="0" r="220.2"><stop offset="0.000" stop-color="#210e27"/><stop offset="0.008" stop-color="#3f157e"/><stop offset="0.016" stop-color="#312b96"/><stop offset="0.027" stop-color="#323ba1"/><stop offset="0.041" stop-color="#3e52ad"/><stop offset="0.058" stop-color="#517dcb"/><stop offset="0.075" stop-color="#639adb"/><stop offset="0.096" stop-color="#72abe1"/><stop offset="0.123" stop-color="#7bb4e2"/><stop offset="0.158" stop-color="#7db5dd"/><stop offset="0.199" stop-color="#7fb6d9"/><stop offset="0.247" stop-color="#80b6d7"/><stop offset="0.302" stop-color="#80b6d5"/><stop offset="0.370" stop-color="#81b6d4"/><stop offset="0.453" stop-color="#81b6d3"/><stop offset="0.549" stop-color="#82b7d2"/><stop offset="0.658" stop-color="#82b7d1"/><stop offset="0.782" stop-color="#82b7d0"/><stop offset="1.000" stop-color="#82b7d0"/></radialGradient><radialGradient id="R63" gradientUnits="userSpaceOnUse" cx="0" cy="0" r="220.2"><stop offset="0.000" stop-color="#210e27"/><stop offset="0.008" stop-color="#3f147d"/><stop offset="0.016" stop-color="#312a96"/><stop offset="0.027" stop-color="#323ba1"/><stop offset="0.041" stop-color="#3d50ac"/><stop offset="0.058" stop-color="#517bca"/><stop offset="0.075" stop-color="#6198db"/><stop offset="0.096" stop-color="#70a9e0"/><stop offset="0.123" stop-color="#7ab4e4"/><stop offset="0.158" stop-color="#7cb5de"/><stop offset="0.199" stop-color="#7eb5db"/><stop offset="0.247" stop-color="#7fb6d9"/><stop offset="0.302" stop-color="#7fb6d7"/><stop offset="0.370" stop-color="#80b6d6"/><stop offset="0.453" stop-color="#80b6d5"/><stop offset="0.549" stop-color="#81b6d5"/><stop offset="0.658" stop-color="#81b6d4"/><stop offset="1.000" stop-color="#81b6d4"/></radialGradient><radialGradient id="R64" gradientUnits="userSpaceOnUse" cx="0" cy="0" r="220.2"><stop offset="0.000" stop-color="#210e26"/><stop offset="0.008" stop-color="#3f147c"/><stop offset="0.016" stop-color="#312a96"/><stop offset="0.027" stop-color="#313aa1"/><stop offset="0.041" stop-color="#3c4fab"/><stop offset="0.058" stop-color="#5079c8"/><stop offset="0.075" stop-color="#6096da"/><stop offset="0.096" stop-color="#6ea7e0"/><stop offset="0.123" stop-color="#78b2e3"/><stop offset="0.158" stop-color="#7cb5e0"/><stop offset="0.199" stop-color="#7db5dd"/><stop offset="0.247" stop-color="#7eb5db"/><stop offset="0.302" stop-color="#7eb5da"/><stop offset="0.370" stop-color="#7fb6d9"/><stop offset="0.453" stop-color="#7fb6d8"/><stop offset="0.549" stop-color="#7fb6d7"/><stop offset="0.782" stop-color="#7fb6d7"/><stop offset="0.905" stop-color="#80b6d7"/><stop offset="1.000" stop-color="#80b6d7"/></radialGradient><radialGradient id="R65" gradientUnits="userSpaceOnUse" cx="0" cy="0" r="220.2"><stop offset="0.000" stop-color="#200e25"/><stop offset="0.008" stop-color="#3e147b"/><stop offset="0.016" stop-color="#312a95"/><stop offset="0.027" stop-color="#313aa1"/><stop offset="0.041" stop-color="#3c4eaa"/><stop offset="0.058" stop-color="#4f78c7"/><stop offset="0.075" stop-color="#5f95da"/><stop offset="0.096" stop-color="#6da6df"/><stop offset="0.123" stop-color="#77b1e3"/><stop offset="0.158" stop-color="#7bb4e2"/><stop offset="0.199" stop-color="#7cb5df"/><stop offset="0.247" stop-color="#7db5dd"/><stop offset="0.302" stop-color="#7eb5db"/><stop offset="0.370" stop-color="#7eb5da"/><stop offset="0.453" stop-color="#7fb6d9"/><stop offset="0.549" stop-color="#7fb6d9"/><stop offset="0.658" stop-color="#7fb6d8"/><stop offset="1.000" stop-color="#7fb6d8"/></radialGradient><radialGradient id="R66" gradientUnits="userSpaceOnUse" cx="0" cy="0" r="220.2"><stop offset="0.000" stop-color="#200e24"/><stop offset="0.008" stop-color="#3e147a"/><stop offset="0.016" stop-color="#312995"/><stop offset="0.027" stop-color="#313aa1"/><stop offset="0.041" stop-color="#3b4daa"/><stop offset="0.058" stop-color="#4f77c7"/><stop offset="0.075" stop-color="#5e94d9"/><stop offset="0.096" stop-color="#6da5df"/><stop offset="0.123" stop-color="#76b0e3"/><stop offset="0.158" stop-color="#7bb4e2"/><stop offset="0.199" stop-color="#7cb5df"/><stop offset="0.247" stop-color="#7db5dd"/><stop offset="0.302" stop-color="#7eb5dc"/><stop offset="0.370" stop-color="#7eb5da"/><stop offset="0.453" stop-color="#7eb5da"/><stop offset="0.549" stop-color="#7fb6d9"/><stop offset="1.000" stop-color="#7fb6d9"/></radialGradient><radialGradient id="R67" gradientUnits="userSpaceOnUse" cx="0" cy="0" r="220.2"><stop offset="0.000" stop-color="#200e24"/><stop offset="0.008" stop-color="#3e1479"/><stop offset="0.016" stop-color="#322995"/><stop offset="0.027" stop-color="#313aa1"/><stop offset="0.041" stop-color="#3b4daa"/><stop offset="0.058" stop-color="#4f77c7"/><stop offset="0.075" stop-color="#5e95da"/><stop offset="0.096" stop-color="#6da5df"/><stop offset="0.123" stop-color="#76b0e3"/><stop offset="0.158" stop-color="#7bb4e2"/><stop offset="0.199" stop-color="#7cb5df"/><stop offset="0.247" stop-color="#7db5dd"/><stop offset="0.302" stop-color="#7eb5dc"/><stop offset="0.370" stop-color="#7eb5da"/><stop offset="0.453" stop-color="#7eb5da"/><stop offset="0.549" stop-color="#7fb6d9"/><stop offset="1.000" stop-color="#7fb6d9"/></radialGradient><radialGradient id="R68" gradientUnits="userSpaceOnUse" cx="0" cy="0" r="220.2"><stop offset="0.000" stop-color="#200e23"/><stop offset="0.008" stop-color="#3e1479"/><stop offset="0.016" stop-color="#322995"/><stop offset="0.027" stop-color="#313aa1"/><stop offset="0.041" stop-color="#3b4daa"/><stop offset="0.058" stop-color="#4f77c7"/><stop offset="0.075" stop-color="#5e95da"/><stop offset="0.096" stop-color="#6da5df"/><stop offset="0.123" stop-color="#76b0e3"/><stop offset="0.158" stop-color="#7bb4e2"/><stop offset="0.199" stop-color="#7cb5df"/><stop offset="0.247" stop-color="#7db5dd"/><stop offset="0.302" stop-color="#7eb5dc"/><stop offset="0.370" stop-color="#7eb5da"/><stop offset="0.453" stop-color="#7eb5da"/><stop offset="0.549" stop-color="#7fb6d9"/><stop offset="1.000" stop-color="#7fb6d9"/></radialGradient><radialGradient id="R69" gradientUnits="userSpaceOnUse" cx="0" cy="0" r="220.2"><stop offset="0.000" stop-color="#200e23"/><stop offset="0.008" stop-color="#3e1479"/><stop offset="0.016" stop-color="#322995"/><stop offset="0.027" stop-color="#3139a1"/><stop offset="0.041" stop-color="#3b4daa"/><stop offset="0.058" stop-color="#4f77c7"/><stop offset="0.075" stop-color="#5e95da"/><stop offset="0.096" stop-color="#6da5df"/><stop offset="0.123" stop-color="#76b0e3"/><stop offset="0.158" stop-color="#7bb4e2"/><stop offset="0.199" stop-color="#7cb5e0"/><stop offset="0.247" stop-color="#7db5dd"/><stop offset="0.302" stop-color="#7eb5dc"/><stop offset="0.370" stop-color="#7eb5da"/><stop offset="0.453" stop-color="#7eb5da"/><stop offset="0.549" stop-color="#7fb6d9"/><stop offset="1.000" stop-color="#7fb6d9"/></radialGradient><radialGradient id="R70" gradientUnits="userSpaceOnUse" cx="0" cy="0" r="220.2"><stop offset="0.000" stop-color="#200e23"/><stop offset="0.008" stop-color="#3e1479"/><stop offset="0.016" stop-color="#322995"/><stop offset="0.027" stop-color="#3139a1"/><stop offset="0.041" stop-color="#3b4daa"/><stop offset="0.058" stop-color="#4f78c7"/><stop offset="0.075" stop-color="#5f95da"/><stop offset="0.096" stop-color="#6da6df"/><stop offset="0.123" stop-color="#76b0e3"/><stop offset="0.158" stop-color="#7bb4e2"/><stop offset="0.199" stop-color="#7cb5e0"/><stop offset="0.247" stop-color="#7db5dd"/><stop offset="0.302" stop-color="#7eb5dc"/><stop offset="0.370" stop-color="#7eb5da"/><stop offset="0.453" stop-color="#7eb5da"/><stop offset="0.549" stop-color="#7fb6d9"/><stop offset="1.000" stop-color="#7fb6d9"/></radialGradient><radialGradient id="R71" gradientUnits="userSpaceOnUse" cx="0" cy="0" r="220.2"><stop offset="0.000" stop-color="#200e23"/><stop offset="0.008" stop-color="#3e1479"/><stop offset="0.016" stop-color="#322995"/><stop offset="0.027" stop-color="#313aa1"/><stop offset="0.041" stop-color="#3b4daa"/><stop offset="0.058" stop-color="#4f78c7"/><stop offset="0.075" stop-color="#5f96da"/><stop offset="0.096" stop-color="#6da6df"/><stop offset="0.123" stop-color="#77b0e3"/><stop offset="0.158" stop-color="#7bb4e2"/><stop offset="0.199" stop-color="#7cb5e0"/><stop offset="0.247" stop-color="#7db5dd"/><stop offset="0.302" stop-color="#7eb5dc"/><stop offset="0.370" stop-color="#7eb5da"/><stop offset="0.453" stop-color="#7eb5da"/><stop offset="0.549" stop-color="#7fb6d9"/><stop offset="1.000" stop-color="#7fb6d9"/></radialGradient><radialGradient id="R72" gradientUnits="userSpaceOnUse" cx="0" cy="0" r="220.2"><stop offset="0.000" stop-color="#200e23"/><stop offset="0.008" stop-color="#3e1479"/><stop offset="0.016" stop-color="#322995"/><stop offset="0.027" stop-color="#313aa1"/><stop offset="0.041" stop-color="#3c4daa"/><stop offset="0.058" stop-color="#4f78c7"/><stop offset="0.075" stop-color="#5f96da"/><stop offset="0.096" stop-color="#6ea6df"/><stop offset="0.123" stop-color="#77b0e3"/><stop offset="0.158" stop-color="#7bb4e2"/><stop offset="0.199" stop-color="#7cb5e0"/><stop offset="0.247" stop-color="#7db5dd"/><stop offset="0.302" stop-color="#7eb5dc"/><stop offset="0.370" stop-color="#7eb5da"/><stop offset="0.453" stop-color="#7eb5da"/><stop offset="0.549" stop-color="#7fb6d9"/><stop offset="1.000" stop-color="#7fb6d9"/></radialGradient><radialGradient id="R73" gradientUnits="userSpaceOnUse" cx="0" cy="0" r="220.2"><stop offset="0.000" stop-color="#200e23"/><stop offset="0.008" stop-color="#3e1479"/><stop offset="0.016" stop-color="#322995"/><stop offset="0.027" stop-color="#313aa1"/><stop offset="0.041" stop-color="#3c4eaa"/><stop offset="0.058" stop-color="#5079c8"/><stop offset="0.075" stop-color="#6096da"/><stop offset="0.096" stop-color="#6ea6df"/><stop offset="0.123" stop-color="#77b0e3"/><stop offset="0.158" stop-color="#7bb4e2"/><stop offset="0.199" stop-color="#7cb5e0"/><stop offset="0.247" stop-color="#7db5dd"/><stop offset="0.302" stop-color="#7eb5dc"/><stop offset="0.370" stop-color="#7eb5da"/><stop offset="0.453" stop-color="#7eb5da"/><stop offset="0.549" stop-color="#7fb6d9"/><stop offset="1.000" stop-color="#7fb6d9"/></radialGradient><radialGradient id="R74" gradientUnits="userSpaceOnUse" cx="0" cy="0" r="220.2"><stop offset="0.000" stop-color="#200e23"/><stop offset="0.008" stop-color="#3e1479"/><stop offset="0.016" stop-color="#322995"/><stop offset="0.027" stop-color="#313aa1"/><stop offset="0.041" stop-color="#3c4eab"/><stop offset="0.058" stop-color="#5079c8"/><stop offset="0.075" stop-color="#6097da"/><stop offset="0.096" stop-color="#6ea7e0"/><stop offset="0.123" stop-color="#77b0e3"/><stop offset="0.158" stop-color="#7bb4e2"/><stop offset="0.199" stop-color="#7cb5e0"/><stop offset="0.247" stop-color="#7db5dd"/><stop offset="0.302" stop-color="#7eb5dc"/><stop offset="0.370" stop-color="#7eb5da"/><stop offset="0.453" stop-color="#7eb5da"/><stop offset="0.549" stop-color="#7fb6d9"/><stop offset="1.000" stop-color="#7fb6d9"/></radialGradient><radialGradient id="R75" gradientUnits="userSpaceOnUse" cx="0" cy="0" r="220.2"><stop offset="0.000" stop-color="#200e24"/><stop offset="0.008" stop-color="#3e147a"/><stop offset="0.016" stop-color="#312a95"/><stop offset="0.027" stop-color="#313aa1"/><stop offset="0.041" stop-color="#3d4fac"/><stop offset="0.058" stop-color="#517bca"/><stop offset="0.075" stop-color="#6198db"/><stop offset="0.096" stop-color="#70a8e0"/><stop offset="0.123" stop-color="#78b2e3"/><stop offset="0.158" stop-color="#7bb4e1"/><stop offset="0.199" stop-color="#7cb5de"/><stop offset="0.247" stop-color="#7db5dc"/><stop offset="0.302" stop-color="#7eb5db"/><stop offset="0.370" stop-color="#7fb6d9"/><stop offset="0.453" stop-color="#7fb6d9"/><stop offset="0.549" stop-color="#7fb6d8"/><stop offset="1.000" stop-color="#7fb6d8"/></radialGradient><radialGradient id="R76" gradientUnits="userSpaceOnUse" cx="0" cy="0" r="220.2"><stop offset="0.000" stop-color="#210e26"/><stop offset="0.008" stop-color="#3f147c"/><stop offset="0.016" stop-color="#312a96"/><stop offset="0.027" stop-color="#323ba1"/><stop offset="0.041" stop-color="#3e52ad"/><stop offset="0.058" stop-color="#527fcc"/><stop offset="0.075" stop-color="#649cdc"/><stop offset="0.096" stop-color="#72abe1"/><stop offset="0.123" stop-color="#7ab4e3"/><stop offset="0.158" stop-color="#7cb5df"/><stop offset="0.199" stop-color="#7db5dc"/><stop offset="0.247" stop-color="#7eb5da"/><stop offset="0.302" stop-color="#7fb6d8"/><stop offset="0.370" stop-color="#7fb6d7"/><stop offset="0.453" stop-color="#80b6d6"/><stop offset="1.000" stop-color="#80b6d6"/></radialGradient><radialGradient id="R77" gradientUnits="userSpaceOnUse" cx="0" cy="0" r="220.2"><stop offset="0.000" stop-color="#220e28"/><stop offset="0.008" stop-color="#3f157e"/><stop offset="0.016" stop-color="#312b97"/><stop offset="0.027" stop-color="#323ca2"/><stop offset="0.041" stop-color="#3f55af"/><stop offset="0.058" stop-color="#5483cf"/><stop offset="0.075" stop-color="#679fdd"/><stop offset="0.096" stop-color="#75afe2"/><stop offset="0.123" stop-color="#7bb4e1"/><stop offset="0.158" stop-color="#7db5dd"/><stop offset="0.199" stop-color="#7eb5da"/><stop offset="0.247" stop-color="#7fb6d8"/><stop offset="0.302" stop-color="#80b6d6"/><stop offset="0.370" stop-color="#80b6d5"/><stop offset="0.453" stop-color="#81b6d4"/><stop offset="0.658" stop-color="#81b6d4"/><stop offset="0.782" stop-color="#81b6d3"/><stop offset="1.000" stop-color="#81b6d3"/></radialGradient><radialGradient id="R78" gradientUnits="userSpaceOnUse" cx="0" cy="0" r="220.2"><stop offset="0.000" stop-color="#220d2a"/><stop offset="0.008" stop-color="#401580"/><stop offset="0.016" stop-color="#302b97"/><stop offset="0.027" stop-color="#333da2"/><stop offset="0.041" stop-color="#4058b1"/><stop offset="0.058" stop-color="#5686d1"/><stop offset="0.075" stop-color="#6aa2de"/><stop offset="0.096" stop-color="#78b2e3"/><stop offset="0.123" stop-color="#7cb5df"/><stop offset="0.158" stop-color="#7eb5da"/><stop offset="0.199" stop-color="#7fb6d8"/><stop offset="0.247" stop-color="#80b6d6"/><stop offset="0.302" stop-color="#81b6d4"/><stop offset="0.370" stop-color="#81b6d3"/><stop offset="0.453" stop-color="#82b7d2"/><stop offset="0.549" stop-color="#82b7d2"/><stop offset="0.658" stop-color="#82b7d1"/><stop offset="1.000" stop-color="#82b7d1"/></radialGradient><radialGradient id="R79" gradientUnits="userSpaceOnUse" cx="0" cy="0" r="220.2"><stop offset="0.000" stop-color="#230d2c"/><stop offset="0.008" stop-color="#3f1681"/><stop offset="0.016" stop-color="#302c98"/><stop offset="0.027" stop-color="#333da2"/><stop offset="0.041" stop-color="#425bb3"/><stop offset="0.058" stop-color="#578ad4"/><stop offset="0.075" stop-color="#6da6df"/><stop offset="0.096" stop-color="#7ab4e3"/><stop offset="0.123" stop-color="#7db5dc"/><stop offset="0.158" stop-color="#7fb6d8"/><stop offset="0.199" stop-color="#80b6d5"/><stop offset="0.247" stop-color="#81b6d3"/><stop offset="0.302" stop-color="#82b7d2"/><stop offset="0.370" stop-color="#82b7d1"/><stop offset="0.453" stop-color="#83b7d0"/><stop offset="0.549" stop-color="#83b7cf"/><stop offset="1.000" stop-color="#83b7cf"/></radialGradient><radialGradient id="R80" gradientUnits="userSpaceOnUse" cx="0" cy="0" r="220.2"><stop offset="0.000" stop-color="#240d2d"/><stop offset="0.008" stop-color="#3e1782"/><stop offset="0.016" stop-color="#302d98"/><stop offset="0.027" stop-color="#333ea3"/><stop offset="0.041" stop-color="#435eb5"/><stop offset="0.058" stop-color="#598ed7"/><stop offset="0.075" stop-color="#70a9e0"/><stop offset="0.096" stop-color="#7bb4e1"/><stop offset="0.123" stop-color="#7eb5da"/><stop offset="0.158" stop-color="#80b6d6"/><stop offset="0.199" stop-color="#81b6d3"/><stop offset="0.247" stop-color="#82b7d1"/><stop offset="0.302" stop-color="#83b7d0"/><stop offset="0.370" stop-color="#83b7ce"/><stop offset="0.453" stop-color="#84b7ce"/><stop offset="0.549" stop-color="#84b7cd"/><stop offset="1.000" stop-color="#84b7cd"/></radialGradient><radialGradient id="R81" gradientUnits="userSpaceOnUse" cx="0" cy="0" r="220.2"><stop offset="0.000" stop-color="#250d2f"/><stop offset="0.008" stop-color="#3d1883"/><stop offset="0.016" stop-color="#302d99"/><stop offset="0.027" stop-color="#343fa3"/><stop offset="0.041" stop-color="#4460b7"/><stop offset="0.058" stop-color="#5c92d9"/><stop offset="0.075" stop-color="#73ace1"/><stop offset="0.096" stop-color="#7cb5de"/><stop offset="0.123" stop-color="#7fb6d7"/><stop offset="0.158" stop-color="#81b6d4"/><stop offset="0.199" stop-color="#82b7d1"/><stop offset="0.247" stop-color="#83b7cf"/><stop offset="0.302" stop-color="#84b7cd"/><stop offset="0.370" stop-color="#84b7cc"/><stop offset="0.453" stop-color="#84b7cc"/><stop offset="0.549" stop-color="#85b8cb"/><stop offset="1.000" stop-color="#85b8cb"/></radialGradient><radialGradient id="R82" gradientUnits="userSpaceOnUse" cx="0" cy="0" r="220.2"><stop offset="0.000" stop-color="#250d31"/><stop offset="0.008" stop-color="#3d1983"/><stop offset="0.016" stop-color="#302e99"/><stop offset="0.027" stop-color="#3440a4"/><stop offset="0.041" stop-color="#4663b9"/><stop offset="0.058" stop-color="#5f95da"/><stop offset="0.075" stop-color="#76b0e3"/><stop offset="0.096" stop-color="#7eb5dc"/><stop offset="0.123" stop-color="#80b6d5"/><stop offset="0.158" stop-color="#82b7d1"/><stop offset="0.199" stop-color="#83b7cf"/><stop offset="0.247" stop-color="#84b7cd"/><stop offset="0.302" stop-color="#85b8cb"/><stop offset="0.370" stop-color="#85b8ca"/><stop offset="0.453" stop-color="#85b8c9"/><stop offset="0.549" stop-color="#86b8c9"/><stop offset="1.000" stop-color="#86b8c9"/></radialGradient><radialGradient id="R83" gradientUnits="userSpaceOnUse" cx="0" cy="0" r="220.2"><stop offset="0.000" stop-color="#270c34"/><stop offset="0.008" stop-color="#3c1a84"/><stop offset="0.016" stop-color="#302f9a"/><stop offset="0.027" stop-color="#3541a4"/><stop offset="0.041" stop-color="#4868bc"/><stop offset="0.058" stop-color="#639bdc"/><stop offset="0.075" stop-color="#7ab4e3"/><stop offset="0.096" stop-color="#7fb6d8"/><stop offset="0.123" stop-color="#82b7d1"/><stop offset="0.158" stop-color="#84b7ce"/><stop offset="0.199" stop-color="#85b8cb"/><stop offset="0.247" stop-color="#86b8c9"/><stop offset="0.302" stop-color="#86b8c8"/><stop offset="0.370" stop-color="#86b8c6"/><stop offset="0.453" stop-color="#86b8c5"/><stop offset="0.549" stop-color="#86b8c5"/><stop offset="0.658" stop-color="#86b8c4"/><stop offset="1.000" stop-color="#86b8c4"/></radialGradient><radialGradient id="R84" gradientUnits="userSpaceOnUse" cx="0" cy="0" r="220.2"><stop offset="0.000" stop-color="#280c38"/><stop offset="0.008" stop-color="#3a1c86"/><stop offset="0.016" stop-color="#30309b"/><stop offset="0.027" stop-color="#3643a5"/><stop offset="0.041" stop-color="#4b6ec1"/><stop offset="0.058" stop-color="#69a1de"/><stop offset="0.075" stop-color="#7cb5df"/><stop offset="0.096" stop-color="#81b6d4"/><stop offset="0.123" stop-color="#84b7cd"/><stop offset="0.158" stop-color="#85b8c9"/><stop offset="0.199" stop-color="#86b8c6"/><stop offset="0.247" stop-color="#86b8c4"/><stop offset="0.302" stop-color="#85b7c2"/><stop offset="0.370" stop-color="#85b7c0"/><stop offset="0.453" stop-color="#85b7bf"/><stop offset="0.658" stop-color="#85b7bf"/><stop offset="0.782" stop-color="#85b7be"/><stop offset="1.000" stop-color="#85b7be"/></radialGradient><radialGradient id="R85" gradientUnits="userSpaceOnUse" cx="0" cy="0" r="220.2"><stop offset="0.000" stop-color="#290c3c"/><stop offset="0.008" stop-color="#391d87"/><stop offset="0.016" stop-color="#30319b"/><stop offset="0.027" stop-color="#3744a6"/><stop offset="0.041" stop-color="#4e75c5"/><stop offset="0.058" stop-color="#6ea6df"/><stop offset="0.075" stop-color="#7eb5da"/><stop offset="0.096" stop-color="#83b7cf"/><stop offset="0.123" stop-color="#86b8c9"/><stop offset="0.158" stop-color="#86b8c4"/><stop offset="0.199" stop-color="#85b7c1"/><stop offset="0.247" stop-color="#85b7be"/><stop offset="0.302" stop-color="#85b7bc"/><stop offset="0.370" stop-color="#85b7bb"/><stop offset="0.453" stop-color="#85b7ba"/><stop offset="0.549" stop-color="#85b7b9"/><stop offset="0.658" stop-color="#84b6b9"/><stop offset="1.000" stop-color="#84b6b9"/></radialGradient><radialGradient id="R86" gradientUnits="userSpaceOnUse" cx="0" cy="0" r="220.2"><stop offset="0.000" stop-color="#2b0d40"/><stop offset="0.008" stop-color="#381e89"/><stop offset="0.016" stop-color="#30329c"/><stop offset="0.027" stop-color="#3846a6"/><stop offset="0.041" stop-color="#517cca"/><stop offset="0.058" stop-color="#73ace1"/><stop offset="0.075" stop-color="#80b6d6"/><stop offset="0.096" stop-color="#85b8cb"/><stop offset="0.123" stop-color="#85b7c3"/><stop offset="0.158" stop-color="#85b7be"/><stop offset="0.199" stop-color="#85b7bb"/><stop offset="0.247" stop-color="#84b6b8"/><stop offset="0.302" stop-color="#84b6b6"/><stop offset="0.370" stop-color="#84b6b5"/><stop offset="0.453" stop-color="#84b6b4"/><stop offset="0.549" stop-color="#84b6b3"/><stop offset="1.000" stop-color="#84b6b3"/></radialGradient><radialGradient id="R87" gradientUnits="userSpaceOnUse" cx="0" cy="0" r="220.2"><stop offset="0.000" stop-color="#2c0d44"/><stop offset="0.008" stop-color="#37208a"/><stop offset="0.016" stop-color="#30339d"/><stop offset="0.027" stop-color="#3947a7"/><stop offset="0.041" stop-color="#5483cf"/><stop offset="0.058" stop-color="#79b2e3"/><stop offset="0.075" stop-color="#82b7d1"/><stop offset="0.096" stop-color="#86b8c6"/><stop offset="0.123" stop-color="#85b7bd"/><stop offset="0.158" stop-color="#84b6b8"/><stop offset="0.199" stop-color="#84b6b5"/><stop offset="0.247" stop-color="#84b6b2"/><stop offset="0.302" stop-color="#84b6b1"/><stop offset="0.370" stop-color="#84b6af"/><stop offset="0.453" stop-color="#83b5ae"/><stop offset="0.658" stop-color="#83b5ae"/><stop offset="0.782" stop-color="#83b5ad"/><stop offset="1.000" stop-color="#83b5ad"/></radialGradient><radialGradient id="R88" gradientUnits="userSpaceOnUse" cx="0" cy="0" r="220.2"><stop offset="0.000" stop-color="#2d0d48"/><stop offset="0.008" stop-color="#36218b"/><stop offset="0.016" stop-color="#30349d"/><stop offset="0.027" stop-color="#3949a8"/><stop offset="0.041" stop-color="#5789d3"/><stop offset="0.058" stop-color="#7bb4e1"/><stop offset="0.075" stop-color="#84b7cd"/><stop offset="0.096" stop-color="#85b7bf"/><stop offset="0.123" stop-color="#84b6b7"/><stop offset="0.158" stop-color="#84b6b2"/><stop offset="0.199" stop-color="#83b5af"/><stop offset="0.247" stop-color="#83b5ac"/><stop offset="0.302" stop-color="#83b5ab"/><stop offset="0.370" stop-color="#83b5a9"/><stop offset="0.453" stop-color="#83b5a9"/><stop offset="0.549" stop-color="#83b5a8"/><stop offset="1.000" stop-color="#83b5a8"/></radialGradient><radialGradient id="R89" gradientUnits="userSpaceOnUse" cx="0" cy="0" r="220.2"><stop offset="0.000" stop-color="#2f0e4c"/><stop offset="0.008" stop-color="#36228d"/><stop offset="0.016" stop-color="#30359e"/><stop offset="0.027" stop-color="#3b4ca9"/><stop offset="0.041" stop-color="#5a90d8"/><stop offset="0.058" stop-color="#7eb5dc"/><stop offset="0.075" stop-color="#86b8c8"/><stop offset="0.096" stop-color="#84b6b9"/><stop offset="0.123" stop-color="#84b6b0"/><stop offset="0.158" stop-color="#83b5ac"/><stop offset="0.199" stop-color="#83b5a9"/><stop offset="0.247" stop-color="#83b5a7"/><stop offset="0.302" stop-color="#82b4a5"/><stop offset="0.370" stop-color="#82b4a4"/><stop offset="0.453" stop-color="#82b4a3"/><stop offset="0.549" stop-color="#82b4a2"/><stop offset="1.000" stop-color="#82b4a2"/></radialGradient><radialGradient id="R90" gradientUnits="userSpaceOnUse" cx="0" cy="0" r="220.2"><stop offset="0.000" stop-color="#300e51"/><stop offset="0.008" stop-color="#35238e"/><stop offset="0.016" stop-color="#30369f"/><stop offset="0.027" stop-color="#3d51ad"/><stop offset="0.041" stop-color="#6096da"/><stop offset="0.058" stop-color="#80b6d7"/><stop offset="0.075" stop-color="#85b7c2"/><stop offset="0.096" stop-color="#84b6b3"/><stop offset="0.123" stop-color="#83b5aa"/><stop offset="0.158" stop-color="#83b5a6"/><stop offset="0.199" stop-color="#82b4a3"/><stop offset="0.247" stop-color="#82b4a1"/><stop offset="0.302" stop-color="#82b49f"/><stop offset="0.370" stop-color="#82b49e"/><stop offset="0.453" stop-color="#82b49d"/><stop offset="1.000" stop-color="#82b49d"/></radialGradient><radialGradient id="R91" gradientUnits="userSpaceOnUse" cx="0" cy="0" r="220.2"><stop offset="0.000" stop-color="#320e55"/><stop offset="0.008" stop-color="#34258f"/><stop offset="0.016" stop-color="#30379f"/><stop offset="0.027" stop-color="#4056b0"/><stop offset="0.041" stop-color="#659cdc"/><stop offset="0.058" stop-color="#82b7d2"/><stop offset="0.075" stop-color="#85b7bb"/><stop offset="0.096" stop-color="#83b5ac"/><stop offset="0.123" stop-color="#82b4a4"/><stop offset="0.158" stop-color="#82b4a0"/><stop offset="0.199" stop-color="#82b49d"/><stop offset="0.247" stop-color="#82b39b"/><stop offset="0.302" stop-color="#82b39a"/><stop offset="0.370" stop-color="#82b399"/><stop offset="0.453" stop-color="#82b398"/><stop offset="0.549" stop-color="#82b397"/><stop offset="1.000" stop-color="#82b397"/></radialGradient><radialGradient id="R92" gradientUnits="userSpaceOnUse" cx="0" cy="0" r="220.2"><stop offset="0.000" stop-color="#330f59"/><stop offset="0.008" stop-color="#342691"/><stop offset="0.016" stop-color="#3038a0"/><stop offset="0.027" stop-color="#425bb3"/><stop offset="0.041" stop-color="#6ba3de"/><stop offset="0.058" stop-color="#84b7ce"/><stop offset="0.075" stop-color="#84b6b5"/><stop offset="0.096" stop-color="#83b5a6"/><stop offset="0.123" stop-color="#82b49e"/><stop offset="0.158" stop-color="#82b39a"/><stop offset="0.199" stop-color="#82b397"/><stop offset="0.247" stop-color="#81b396"/><stop offset="0.302" stop-color="#81b394"/><stop offset="0.370" stop-color="#81b393"/><stop offset="0.453" stop-color="#81b392"/><stop offset="0.782" stop-color="#81b392"/><stop offset="0.905" stop-color="#81b292"/><stop offset="1.000" stop-color="#81b292"/></radialGradient><radialGradient id="R93" gradientUnits="userSpaceOnUse" cx="0" cy="0" r="220.2"><stop offset="0.000" stop-color="#340f5d"/><stop offset="0.008" stop-color="#332792"/><stop offset="0.016" stop-color="#313aa1"/><stop offset="0.027" stop-color="#4460b7"/><stop offset="0.041" stop-color="#70a9e0"/><stop offset="0.058" stop-color="#86b8c9"/><stop offset="0.075" stop-color="#83b5ae"/><stop offset="0.096" stop-color="#82b4a0"/><stop offset="0.123" stop-color="#82b398"/><stop offset="0.158" stop-color="#81b394"/><stop offset="0.199" stop-color="#81b392"/><stop offset="0.247" stop-color="#81b290"/><stop offset="0.302" stop-color="#81b28f"/><stop offset="0.370" stop-color="#81b28e"/><stop offset="0.453" stop-color="#81b28d"/><stop offset="0.549" stop-color="#81b28d"/><stop offset="0.658" stop-color="#81b28c"/><stop offset="1.000" stop-color="#81b28c"/></radialGradient><radialGradient id="R94" gradientUnits="userSpaceOnUse" cx="0" cy="0" r="220.2"><stop offset="0.000" stop-color="#360f62"/><stop offset="0.008" stop-color="#322894"/><stop offset="0.016" stop-color="#323ba1"/><stop offset="0.027" stop-color="#4765ba"/><stop offset="0.041" stop-color="#75afe2"/><stop offset="0.058" stop-color="#85b7c3"/><stop offset="0.075" stop-color="#83b5a8"/><stop offset="0.096" stop-color="#82b39a"/><stop offset="0.123" stop-color="#81b392"/><stop offset="0.158" stop-color="#81b28f"/><stop offset="0.199" stop-color="#81b28c"/><stop offset="0.247" stop-color="#81b28a"/><stop offset="0.302" stop-color="#81b289"/><stop offset="0.370" stop-color="#81b188"/><stop offset="0.453" stop-color="#81b188"/><stop offset="0.549" stop-color="#81b187"/><stop offset="1.000" stop-color="#81b187"/></radialGradient><radialGradient id="R95" gradientUnits="userSpaceOnUse" cx="0" cy="0" r="220.2"><stop offset="0.000" stop-color="#371066"/><stop offset="0.008" stop-color="#312995"/><stop offset="0.016" stop-color="#333da2"/><stop offset="0.027" stop-color="#4a6bbe"/><stop offset="0.041" stop-color="#7ab4e3"/><stop offset="0.058" stop-color="#85b7bc"/><stop offset="0.075" stop-color="#82b4a1"/><stop offset="0.096" stop-color="#81b394"/><stop offset="0.123" stop-color="#81b28c"/><stop offset="0.158" stop-color="#81b289"/><stop offset="0.199" stop-color="#81b187"/><stop offset="0.247" stop-color="#81b185"/><stop offset="0.302" stop-color="#81b184"/><stop offset="0.370" stop-color="#80b183"/><stop offset="0.453" stop-color="#80b182"/><stop offset="1.000" stop-color="#80b182"/></radialGradient><radialGradient id="R96" gradientUnits="userSpaceOnUse" cx="0" cy="0" r="220.2"><stop offset="0.000" stop-color="#381067"/><stop offset="0.008" stop-color="#312a96"/><stop offset="0.016" stop-color="#333ea2"/><stop offset="0.027" stop-color="#4c70c1"/><stop offset="0.041" stop-color="#7cb5e0"/><stop offset="0.058" stop-color="#84b6b7"/><stop offset="0.075" stop-color="#82b49d"/><stop offset="0.096" stop-color="#81b28f"/><stop offset="0.123" stop-color="#81b188"/><stop offset="0.158" stop-color="#81b184"/><stop offset="0.199" stop-color="#80b182"/><stop offset="0.247" stop-color="#80b180"/><stop offset="0.302" stop-color="#80b17f"/><stop offset="0.370" stop-color="#80b07e"/><stop offset="0.453" stop-color="#80b07d"/><stop offset="0.658" stop-color="#80b07d"/><stop offset="0.782" stop-color="#80b07c"/><stop offset="1.000" stop-color="#80b07c"/></radialGradient><radialGradient id="R97" gradientUnits="userSpaceOnUse" cx="0" cy="0" r="220.2"><stop offset="0.000" stop-color="#350f60"/><stop offset="0.008" stop-color="#322995"/><stop offset="0.016" stop-color="#333da2"/><stop offset="0.027" stop-color="#4b6fc1"/><stop offset="0.041" stop-color="#7cb5e0"/><stop offset="0.058" stop-color="#84b6b6"/><stop offset="0.075" stop-color="#82b39b"/><stop offset="0.096" stop-color="#81b28d"/><stop offset="0.123" stop-color="#81b185"/><stop offset="0.158" stop-color="#80b181"/><stop offset="0.199" stop-color="#80b07e"/><stop offset="0.247" stop-color="#80b07c"/><stop offset="0.302" stop-color="#80b07a"/><stop offset="0.370" stop-color="#80b078"/><stop offset="0.453" stop-color="#80b077"/><stop offset="0.549" stop-color="#7fb076"/><stop offset="0.658" stop-color="#7fb076"/><stop offset="0.782" stop-color="#7fb075"/><stop offset="0.905" stop-color="#7fb074"/><stop offset="1.000" stop-color="#7fb074"/></radialGradient><radialGradient id="R98" gradientUnits="userSpaceOnUse" cx="0" cy="0" r="220.2"><stop offset="0.000" stop-color="#320e55"/><stop offset="0.008" stop-color="#322893"/><stop offset="0.016" stop-color="#323ca2"/><stop offset="0.027" stop-color="#4a6cbf"/><stop offset="0.041" stop-color="#7bb4e1"/><stop offset="0.058" stop-color="#84b6b6"/><stop offset="0.075" stop-color="#82b39a"/><stop offset="0.096" stop-color="#81b28b"/><stop offset="0.123" stop-color="#80b183"/><stop offset="0.158" stop-color="#80b07e"/><stop offset="0.199" stop-color="#80b07a"/><stop offset="0.247" stop-color="#80b077"/><stop offset="0.302" stop-color="#7fb075"/><stop offset="0.370" stop-color="#7faf72"/><stop offset="0.453" stop-color="#7eaf70"/><stop offset="0.549" stop-color="#7eaf6f"/><stop offset="0.658" stop-color="#7eaf6d"/><stop offset="0.782" stop-color="#7eaf6c"/><stop offset="0.905" stop-color="#7eaf6b"/><stop offset="1.000" stop-color="#7daf6a"/></radialGradient><radialGradient id="R99" gradientUnits="userSpaceOnUse" cx="0" cy="0" r="220.2"><stop offset="0.000" stop-color="#2d0d46"/><stop offset="0.008" stop-color="#342691"/><stop offset="0.016" stop-color="#313aa1"/><stop offset="0.027" stop-color="#4766bb"/><stop offset="0.041" stop-color="#7ab4e4"/><stop offset="0.058" stop-color="#85b7b9"/><stop offset="0.075" stop-color="#82b49c"/><stop offset="0.096" stop-color="#81b28c"/><stop offset="0.123" stop-color="#80b182"/><stop offset="0.158" stop-color="#80b07c"/><stop offset="0.199" stop-color="#80b077"/><stop offset="0.247" stop-color="#7faf74"/><stop offset="0.302" stop-color="#7eaf70"/><stop offset="0.370" stop-color="#7eaf6d"/><stop offset="0.453" stop-color="#7daf6a"/><stop offset="0.549" stop-color="#7daf68"/><stop offset="0.658" stop-color="#7dae65"/><stop offset="0.782" stop-color="#7cae63"/><stop offset="0.905" stop-color="#7cae62"/><stop offset="1.000" stop-color="#7cae60"/></radialGradient><radialGradient id="R100" gradientUnits="userSpaceOnUse" cx="0" cy="0" r="220.2"><stop offset="0.000" stop-color="#260c34"/><stop offset="0.008" stop-color="#35238e"/><stop offset="0.016" stop-color="#3037a0"/><stop offset="0.027" stop-color="#445fb6"/><stop offset="0.041" stop-color="#74aee2"/><stop offset="0.058" stop-color="#85b7bf"/><stop offset="0.075" stop-color="#82b49f"/><stop offset="0.096" stop-color="#81b28e"/><stop offset="0.123" stop-color="#80b183"/><stop offset="0.158" stop-color="#80b07c"/><stop offset="0.199" stop-color="#7fb076"/><stop offset="0.247" stop-color="#7faf71"/><stop offset="0.302" stop-color="#7eaf6d"/><stop offset="0.370" stop-color="#7daf69"/><stop offset="0.453" stop-color="#7dae65"/><stop offset="0.549" stop-color="#7cae61"/><stop offset="0.658" stop-color="#7bae5e"/><stop offset="0.782" stop-color="#7bad5b"/><stop offset="0.905" stop-color="#7bad58"/><stop offset="1.000" stop-color="#7aad57"/></radialGradient><radialGradient id="R101" gradientUnits="userSpaceOnUse" cx="0" cy="0" r="220.2"><stop offset="0.000" stop-color="#1f0e22"/><stop offset="0.008" stop-color="#371f8a"/><stop offset="0.016" stop-color="#30359e"/><stop offset="0.027" stop-color="#4056b0"/><stop offset="0.041" stop-color="#6da5df"/><stop offset="0.058" stop-color="#86b8c6"/><stop offset="0.075" stop-color="#82b4a5"/><stop offset="0.096" stop-color="#81b392"/><stop offset="0.123" stop-color="#81b186"/><stop offset="0.158" stop-color="#80b07d"/><stop offset="0.199" stop-color="#7fb076"/><stop offset="0.247" stop-color="#7eaf70"/><stop offset="0.302" stop-color="#7daf6a"/><stop offset="0.370" stop-color="#7dae65"/><stop offset="0.453" stop-color="#7cae60"/><stop offset="0.549" stop-color="#7bad5b"/><stop offset="0.658" stop-color="#7aad57"/><stop offset="0.782" stop-color="#7aad53"/><stop offset="0.905" stop-color="#79ac50"/><stop offset="1.000" stop-color="#79ac4e"/></radialGradient><radialGradient id="R102" gradientUnits="userSpaceOnUse" cx="0" cy="0" r="220.2"><stop offset="0.000" stop-color="#181010"/><stop offset="0.008" stop-color="#3b1b85"/><stop offset="0.016" stop-color="#30329c"/><stop offset="0.027" stop-color="#3b4ba9"/><stop offset="0.041" stop-color="#649bdc"/><stop offset="0.058" stop-color="#84b7cd"/><stop offset="0.075" stop-color="#83b5ac"/><stop offset="0.096" stop-color="#82b398"/><stop offset="0.123" stop-color="#81b28a"/><stop offset="0.158" stop-color="#80b17f"/><stop offset="0.199" stop-color="#7fb077"/><stop offset="0.247" stop-color="#7eaf6f"/><stop offset="0.302" stop-color="#7daf68"/><stop offset="0.370" stop-color="#7cae61"/><stop offset="0.453" stop-color="#7bad5b"/><stop offset="0.549" stop-color="#7aad55"/><stop offset="0.658" stop-color="#79ac50"/><stop offset="0.782" stop-color="#78ac4b"/><stop offset="0.905" stop-color="#78ab47"/><stop offset="1.000" stop-color="#77ab45"/></radialGradient><radialGradient id="R103" gradientUnits="userSpaceOnUse" cx="0" cy="0" r="220.2"><stop offset="0.000" stop-color="#181010"/><stop offset="0.008" stop-color="#401580"/><stop offset="0.016" stop-color="#302f9a"/><stop offset="0.027" stop-color="#3847a7"/><stop offset="0.041" stop-color="#5a8fd7"/><stop offset="0.058" stop-color="#81b6d4"/><stop offset="0.075" stop-color="#84b6b5"/><stop offset="0.096" stop-color="#82b49e"/><stop offset="0.123" stop-color="#81b28f"/><stop offset="0.158" stop-color="#80b183"/><stop offset="0.199" stop-color="#80b078"/><stop offset="0.247" stop-color="#7eaf6f"/><stop offset="0.302" stop-color="#7dae67"/><stop offset="0.370" stop-color="#7cae5f"/><stop offset="0.453" stop-color="#7aad57"/><stop offset="0.549" stop-color="#79ac50"/><stop offset="0.658" stop-color="#78ac4a"/><stop offset="0.782" stop-color="#77ab44"/><stop offset="0.905" stop-color="#76aa3f"/><stop offset="1.000" stop-color="#75aa3c"/></radialGradient><radialGradient id="R104" gradientUnits="userSpaceOnUse" cx="0" cy="0" r="220.2"><stop offset="0.000" stop-color="#181010"/><stop offset="0.008" stop-color="#3a116f"/><stop offset="0.016" stop-color="#302c98"/><stop offset="0.027" stop-color="#3643a5"/><stop offset="0.041" stop-color="#5380cd"/><stop offset="0.058" stop-color="#7db5dd"/><stop offset="0.075" stop-color="#85b7bf"/><stop offset="0.096" stop-color="#83b5a6"/><stop offset="0.123" stop-color="#81b394"/><stop offset="0.158" stop-color="#81b186"/><stop offset="0.199" stop-color="#80b07a"/><stop offset="0.247" stop-color="#7eaf6f"/><stop offset="0.302" stop-color="#7dae66"/><stop offset="0.370" stop-color="#7bae5c"/><stop offset="0.453" stop-color="#7aad53"/><stop offset="0.549" stop-color="#78ac4b"/><stop offset="0.658" stop-color="#77ab44"/><stop offset="0.782" stop-color="#76aa3d"/><stop offset="0.905" stop-color="#74a937"/><stop offset="1.000" stop-color="#74a934"/></radialGradient><radialGradient id="R105" gradientUnits="userSpaceOnUse" cx="0" cy="0" r="220.2"><stop offset="0.000" stop-color="#181010"/><stop offset="0.008" stop-color="#350f60"/><stop offset="0.016" stop-color="#322994"/><stop offset="0.027" stop-color="#3440a3"/><stop offset="0.041" stop-color="#4e76c6"/><stop offset="0.058" stop-color="#7bb4e2"/><stop offset="0.075" stop-color="#86b8c4"/><stop offset="0.096" stop-color="#83b5aa"/><stop offset="0.123" stop-color="#81b396"/><stop offset="0.158" stop-color="#81b186"/><stop offset="0.199" stop-color="#80b078"/><stop offset="0.247" stop-color="#7eaf6b"/><stop offset="0.302" stop-color="#7cae60"/><stop offset="0.370" stop-color="#7aad55"/><stop offset="0.453" stop-color="#78ac4b"/><stop offset="0.549" stop-color="#76ab42"/><stop offset="0.658" stop-color="#75aa39"/><stop offset="0.782" stop-color="#73a933"/><stop offset="0.905" stop-color="#72a831"/><stop offset="1.000" stop-color="#72a830"/></radialGradient><radialGradient id="R106" gradientUnits="userSpaceOnUse" cx="0" cy="0" r="220.2"><stop offset="0.000" stop-color="#181010"/><stop offset="0.008" stop-color="#300e50"/><stop offset="0.016" stop-color="#342590"/><stop offset="0.027" stop-color="#323ca2"/><stop offset="0.041" stop-color="#496abd"/><stop offset="0.058" stop-color="#75aee2"/><stop offset="0.075" stop-color="#85b8ca"/><stop offset="0.096" stop-color="#83b5ae"/><stop offset="0.123" stop-color="#82b398"/><stop offset="0.158" stop-color="#81b186"/><stop offset="0.199" stop-color="#7fb076"/><stop offset="0.247" stop-color="#7daf68"/><stop offset="0.302" stop-color="#7bad5b"/><stop offset="0.370" stop-color="#79ac4e"/><stop offset="0.453" stop-color="#77ab43"/><stop offset="0.549" stop-color="#75aa38"/><stop offset="0.658" stop-color="#73a833"/><stop offset="0.782" stop-color="#72a830"/><stop offset="0.905" stop-color="#70a72e"/><stop offset="1.000" stop-color="#70a62d"/></radialGradient><radialGradient id="R107" gradientUnits="userSpaceOnUse" cx="0" cy="0" r="220.2"><stop offset="0.000" stop-color="#181010"/><stop offset="0.008" stop-color="#2a0d3e"/><stop offset="0.016" stop-color="#36218c"/><stop offset="0.027" stop-color="#3038a0"/><stop offset="0.041" stop-color="#445fb6"/><stop offset="0.058" stop-color="#6ca5df"/><stop offset="0.075" stop-color="#83b7d0"/><stop offset="0.096" stop-color="#84b6b4"/><stop offset="0.123" stop-color="#82b39b"/><stop offset="0.158" stop-color="#81b187"/><stop offset="0.199" stop-color="#7fb075"/><stop offset="0.247" stop-color="#7dae65"/><stop offset="0.302" stop-color="#7aad56"/><stop offset="0.370" stop-color="#78ac49"/><stop offset="0.453" stop-color="#75aa3c"/><stop offset="0.549" stop-color="#73a933"/><stop offset="0.658" stop-color="#72a830"/><stop offset="0.782" stop-color="#70a72d"/><stop offset="0.905" stop-color="#6fa62c"/><stop offset="1.000" stop-color="#6ea52b"/></radialGradient><radialGradient id="R108" gradientUnits="userSpaceOnUse" cx="0" cy="0" r="220.2"><stop offset="0.000" stop-color="#181010"/><stop offset="0.008" stop-color="#250d32"/><stop offset="0.016" stop-color="#381e88"/><stop offset="0.027" stop-color="#30369f"/><stop offset="0.041" stop-color="#4056b0"/><stop offset="0.058" stop-color="#659ddc"/><stop offset="0.075" stop-color="#81b6d4"/><stop offset="0.096" stop-color="#85b7b9"/><stop offset="0.123" stop-color="#82b49e"/><stop offset="0.158" stop-color="#81b188"/><stop offset="0.199" stop-color="#7fb075"/><stop offset="0.247" stop-color="#7cae63"/><stop offset="0.302" stop-color="#7aad53"/><stop offset="0.370" stop-color="#77ab45"/><stop offset="0.453" stop-color="#74a936"/><stop offset="0.549" stop-color="#72a831"/><stop offset="0.658" stop-color="#70a72e"/><stop offset="0.782" stop-color="#6fa62c"/><stop offset="0.905" stop-color="#6ea52a"/><stop offset="1.000" stop-color="#6da52a"/></radialGradient><radialGradient id="R109" gradientUnits="userSpaceOnUse" cx="0" cy="0" r="220.2"><stop offset="0.000" stop-color="#181010"/><stop offset="0.008" stop-color="#220d29"/><stop offset="0.016" stop-color="#3a1b86"/><stop offset="0.027" stop-color="#30349e"/><stop offset="0.041" stop-color="#3d50ac"/><stop offset="0.058" stop-color="#6097da"/><stop offset="0.075" stop-color="#7fb6d8"/><stop offset="0.096" stop-color="#85b7bd"/><stop offset="0.123" stop-color="#82b4a0"/><stop offset="0.158" stop-color="#81b289"/><stop offset="0.199" stop-color="#7fb075"/><stop offset="0.247" stop-color="#7cae62"/><stop offset="0.302" stop-color="#79ad51"/><stop offset="0.370" stop-color="#77ab42"/><stop offset="0.453" stop-color="#74a934"/><stop offset="0.549" stop-color="#72a830"/><stop offset="0.658" stop-color="#70a62d"/><stop offset="0.782" stop-color="#6ea52b"/><stop offset="0.905" stop-color="#6da52a"/><stop offset="1.000" stop-color="#6da429"/></radialGradient><radialGradient id="R110" gradientUnits="userSpaceOnUse" cx="0" cy="0" r="220.2"><stop offset="0.000" stop-color="#181010"/><stop offset="0.008" stop-color="#1f0e21"/><stop offset="0.016" stop-color="#3d1883"/><stop offset="0.027" stop-color="#30339d"/><stop offset="0.041" stop-color="#3a4ba8"/><stop offset="0.058" stop-color="#5c92d9"/><stop offset="0.075" stop-color="#7eb5db"/><stop offset="0.096" stop-color="#85b7c0"/><stop offset="0.123" stop-color="#82b4a3"/><stop offset="0.158" stop-color="#81b28a"/><stop offset="0.199" stop-color="#7fb074"/><stop offset="0.247" stop-color="#7cae61"/><stop offset="0.302" stop-color="#79ac4f"/><stop offset="0.370" stop-color="#76aa3f"/><stop offset="0.453" stop-color="#73a933"/><stop offset="0.549" stop-color="#71a72f"/><stop offset="0.658" stop-color="#6fa62c"/><stop offset="0.782" stop-color="#6ea52a"/><stop offset="0.905" stop-color="#6da429"/><stop offset="1.000" stop-color="#6ca428"/></radialGradient><radialGradient id="R111" gradientUnits="userSpaceOnUse" cx="0" cy="0" r="220.2"><stop offset="0.000" stop-color="#181010"/><stop offset="0.008" stop-color="#1c0f1b"/><stop offset="0.016" stop-color="#3f1681"/><stop offset="0.027" stop-color="#30329c"/><stop offset="0.041" stop-color="#3a49a8"/><stop offset="0.058" stop-color="#5a90d8"/><stop offset="0.075" stop-color="#7eb5db"/><stop offset="0.096" stop-color="#85b7bf"/><stop offset="0.123" stop-color="#82b4a0"/><stop offset="0.158" stop-color="#81b187"/><stop offset="0.199" stop-color="#7eaf70"/><stop offset="0.247" stop-color="#7bae5b"/><stop offset="0.302" stop-color="#78ac4a"/><stop offset="0.370" stop-color="#75aa38"/><stop offset="0.453" stop-color="#72a831"/><stop offset="0.549" stop-color="#70a62d"/><stop offset="0.658" stop-color="#6ea52b"/><stop offset="0.782" stop-color="#6da529"/><stop offset="0.905" stop-color="#6da428"/><stop offset="1.000" stop-color="#6ea529"/></radialGradient><radialGradient id="R112" gradientUnits="userSpaceOnUse" cx="0" cy="0" r="220.2"><stop offset="0.000" stop-color="#181010"/><stop offset="0.008" stop-color="#1a1015"/><stop offset="0.016" stop-color="#40157f"/><stop offset="0.027" stop-color="#30319b"/><stop offset="0.041" stop-color="#3948a7"/><stop offset="0.058" stop-color="#598ed7"/><stop offset="0.075" stop-color="#7db5dc"/><stop offset="0.096" stop-color="#85b7bf"/><stop offset="0.123" stop-color="#82b49f"/><stop offset="0.158" stop-color="#81b184"/><stop offset="0.199" stop-color="#7eaf6c"/><stop offset="0.247" stop-color="#7aad56"/><stop offset="0.302" stop-color="#77ab44"/><stop offset="0.370" stop-color="#74a934"/><stop offset="0.453" stop-color="#71a72f"/><stop offset="0.549" stop-color="#6fa62c"/><stop offset="0.658" stop-color="#6da52a"/><stop offset="0.782" stop-color="#6ca428"/><stop offset="0.905" stop-color="#6fa62a"/><stop offset="1.000" stop-color="#70a72b"/></radialGradient><radialGradient id="R113" gradientUnits="userSpaceOnUse" cx="0" cy="0" r="220.2"><stop offset="0.000" stop-color="#181010"/><stop offset="0.008" stop-color="#181010"/><stop offset="0.016" stop-color="#3e1479"/><stop offset="0.027" stop-color="#30309b"/><stop offset="0.041" stop-color="#3948a7"/><stop offset="0.058" stop-color="#588cd5"/><stop offset="0.075" stop-color="#7db5dd"/><stop offset="0.096" stop-color="#85b7be"/><stop offset="0.123" stop-color="#82b49d"/><stop offset="0.158" stop-color="#80b181"/><stop offset="0.199" stop-color="#7daf68"/><stop offset="0.247" stop-color="#79ad51"/><stop offset="0.302" stop-color="#76aa3f"/><stop offset="0.370" stop-color="#73a832"/><stop offset="0.453" stop-color="#70a72d"/><stop offset="0.549" stop-color="#6ea52b"/><stop offset="0.658" stop-color="#6ca429"/><stop offset="0.782" stop-color="#6ea529"/><stop offset="0.905" stop-color="#71a72b"/><stop offset="1.000" stop-color="#72a82c"/></radialGradient><radialGradient id="R114" gradientUnits="userSpaceOnUse" cx="0" cy="0" r="220.2"><stop offset="0.000" stop-color="#181010"/><stop offset="0.008" stop-color="#181010"/><stop offset="0.016" stop-color="#3c1273"/><stop offset="0.027" stop-color="#302f9a"/><stop offset="0.041" stop-color="#3847a6"/><stop offset="0.058" stop-color="#5789d3"/><stop offset="0.075" stop-color="#7db5dd"/><stop offset="0.096" stop-color="#85b7be"/><stop offset="0.123" stop-color="#82b49b"/><stop offset="0.158" stop-color="#80b07e"/><stop offset="0.199" stop-color="#7cae64"/><stop offset="0.247" stop-color="#79ac4d"/><stop offset="0.302" stop-color="#75aa39"/><stop offset="0.370" stop-color="#72a830"/><stop offset="0.453" stop-color="#6fa62c"/><stop offset="0.549" stop-color="#6da52a"/><stop offset="0.658" stop-color="#6da529"/><stop offset="0.782" stop-color="#70a72b"/><stop offset="0.905" stop-color="#73a82c"/><stop offset="1.000" stop-color="#75a92d"/></radialGradient><radialGradient id="R115" gradientUnits="userSpaceOnUse" cx="0" cy="0" r="220.2"><stop offset="0.000" stop-color="#181010"/><stop offset="0.008" stop-color="#181010"/><stop offset="0.016" stop-color="#3a116d"/><stop offset="0.027" stop-color="#302e99"/><stop offset="0.041" stop-color="#3745a6"/><stop offset="0.058" stop-color="#5586d1"/><stop offset="0.075" stop-color="#7cb5de"/><stop offset="0.096" stop-color="#85b7be"/><stop offset="0.123" stop-color="#82b39a"/><stop offset="0.158" stop-color="#80b07b"/><stop offset="0.199" stop-color="#7cae60"/><stop offset="0.247" stop-color="#78ab49"/><stop offset="0.302" stop-color="#74a934"/><stop offset="0.370" stop-color="#71a72f"/><stop offset="0.453" stop-color="#6ea52b"/><stop offset="0.549" stop-color="#6ca429"/><stop offset="0.658" stop-color="#6ea62a"/><stop offset="0.782" stop-color="#72a82c"/><stop offset="0.905" stop-color="#75a92d"/><stop offset="1.000" stop-color="#78aa2d"/></radialGradient><radialGradient id="R116" gradientUnits="userSpaceOnUse" cx="0" cy="0" r="220.2"><stop offset="0.000" stop-color="#181010"/><stop offset="0.008" stop-color="#181010"/><stop offset="0.016" stop-color="#381067"/><stop offset="0.027" stop-color="#302d99"/><stop offset="0.041" stop-color="#3744a5"/><stop offset="0.058" stop-color="#5483cf"/><stop offset="0.075" stop-color="#7cb5df"/><stop offset="0.096" stop-color="#85b7be"/><stop offset="0.123" stop-color="#82b399"/><stop offset="0.158" stop-color="#80b079"/><stop offset="0.199" stop-color="#7bae5c"/><stop offset="0.247" stop-color="#77ab44"/><stop offset="0.302" stop-color="#73a833"/><stop offset="0.370" stop-color="#70a62d"/><stop offset="0.453" stop-color="#6ea52a"/><stop offset="0.549" stop-color="#6da428"/><stop offset="0.658" stop-color="#70a72b"/><stop offset="0.782" stop-color="#74a92c"/><stop offset="0.905" stop-color="#78aa2d"/><stop offset="1.000" stop-color="#7aab2e"/></radialGradient><radialGradient id="R117" gradientUnits="userSpaceOnUse" cx="0" cy="0" r="220.2"><stop offset="0.000" stop-color="#181010"/><stop offset="0.008" stop-color="#181010"/><stop offset="0.016" stop-color="#361062"/><stop offset="0.027" stop-color="#302c98"/><stop offset="0.041" stop-color="#3744a5"/><stop offset="0.058" stop-color="#5483cf"/><stop offset="0.075" stop-color="#7cb5de"/><stop offset="0.096" stop-color="#85b7bb"/><stop offset="0.123" stop-color="#81b395"/><stop offset="0.158" stop-color="#7faf73"/><stop offset="0.199" stop-color="#7aad56"/><stop offset="0.247" stop-color="#76aa3d"/><stop offset="0.302" stop-color="#72a831"/><stop offset="0.370" stop-color="#6fa62c"/><stop offset="0.453" stop-color="#6da429"/><stop offset="0.549" stop-color="#6fa62a"/><stop offset="0.658" stop-color="#72a82c"/><stop offset="0.782" stop-color="#77aa2d"/><stop offset="0.905" stop-color="#7bac2e"/><stop offset="1.000" stop-color="#7fae2e"/></radialGradient><radialGradient id="R118" gradientUnits="userSpaceOnUse" cx="0" cy="0" r="220.2"><stop offset="0.000" stop-color="#181010"/><stop offset="0.008" stop-color="#181010"/><stop offset="0.016" stop-color="#350f5e"/><stop offset="0.027" stop-color="#302b97"/><stop offset="0.041" stop-color="#3643a5"/><stop offset="0.058" stop-color="#5482ce"/><stop offset="0.075" stop-color="#7db5de"/><stop offset="0.096" stop-color="#84b6b9"/><stop offset="0.123" stop-color="#81b291"/><stop offset="0.158" stop-color="#7eaf6e"/><stop offset="0.199" stop-color="#79ac50"/><stop offset="0.247" stop-color="#74a936"/><stop offset="0.302" stop-color="#71a72f"/><stop offset="0.370" stop-color="#6ea52b"/><stop offset="0.453" stop-color="#6ca428"/><stop offset="0.549" stop-color="#71a72b"/><stop offset="0.658" stop-color="#75a92d"/><stop offset="0.782" stop-color="#7aab2e"/><stop offset="0.905" stop-color="#80af2e"/><stop offset="1.000" stop-color="#84b12e"/></radialGradient><radialGradient id="R119" gradientUnits="userSpaceOnUse" cx="0" cy="0" r="220.2"><stop offset="0.000" stop-color="#181010"/><stop offset="0.008" stop-color="#181010"/><stop offset="0.016" stop-color="#330f59"/><stop offset="0.027" stop-color="#312a96"/><stop offset="0.041" stop-color="#3643a5"/><stop offset="0.058" stop-color="#5482ce"/><stop offset="0.075" stop-color="#7db5dd"/><stop offset="0.096" stop-color="#84b6b7"/><stop offset="0.123" stop-color="#81b28d"/><stop offset="0.158" stop-color="#7daf69"/><stop offset="0.199" stop-color="#78ac4a"/><stop offset="0.247" stop-color="#73a933"/><stop offset="0.302" stop-color="#70a62d"/><stop offset="0.370" stop-color="#6da529"/><stop offset="0.453" stop-color="#6ea529"/><stop offset="0.549" stop-color="#73a82c"/><stop offset="0.658" stop-color="#78aa2e"/><stop offset="0.782" stop-color="#7fae2e"/><stop offset="0.905" stop-color="#85b12e"/><stop offset="1.000" stop-color="#89b42e"/></radialGradient><radialGradient id="R120" gradientUnits="userSpaceOnUse" cx="0" cy="0" r="220.2"><stop offset="0.000" stop-color="#181010"/><stop offset="0.008" stop-color="#181010"/><stop offset="0.016" stop-color="#310e53"/><stop offset="0.027" stop-color="#312a95"/><stop offset="0.041" stop-color="#3642a4"/><stop offset="0.058" stop-color="#5381cd"/><stop offset="0.075" stop-color="#7db5dc"/><stop offset="0.096" stop-color="#84b6b4"/><stop offset="0.123" stop-color="#81b28a"/><stop offset="0.158" stop-color="#7dae65"/><stop offset="0.199" stop-color="#77ab45"/><stop offset="0.247" stop-color="#72a831"/><stop offset="0.302" stop-color="#6fa62c"/><stop offset="0.370" stop-color="#6ca428"/><stop offset="0.453" stop-color="#70a72b"/><stop offset="0.549" stop-color="#75a92d"/><stop offset="0.658" stop-color="#7bac2e"/><stop offset="0.782" stop-color="#83b02e"/><stop offset="0.905" stop-color="#8ab42e"/><stop offset="1.000" stop-color="#8eb72e"/></radialGradient><radialGradient id="R121" gradientUnits="userSpaceOnUse" cx="0" cy="0" r="220.2"><stop offset="0.000" stop-color="#181010"/><stop offset="0.008" stop-color="#181010"/><stop offset="0.016" stop-color="#300e50"/><stop offset="0.027" stop-color="#322995"/><stop offset="0.041" stop-color="#3642a4"/><stop offset="0.058" stop-color="#5483cf"/><stop offset="0.075" stop-color="#7eb5da"/><stop offset="0.096" stop-color="#84b6af"/><stop offset="0.123" stop-color="#80b183"/><stop offset="0.158" stop-color="#7bae5d"/><stop offset="0.199" stop-color="#76aa3d"/><stop offset="0.247" stop-color="#71a72f"/><stop offset="0.302" stop-color="#6ea52a"/><stop offset="0.370" stop-color="#6da529"/><stop offset="0.453" stop-color="#72a82c"/><stop offset="0.549" stop-color="#78aa2e"/><stop offset="0.658" stop-color="#80af2e"/><stop offset="0.782" stop-color="#89b32e"/><stop offset="0.905" stop-color="#90b82e"/><stop offset="1.000" stop-color="#96bb2e"/></radialGradient><radialGradient id="R122" gradientUnits="userSpaceOnUse" cx="0" cy="0" r="220.2"><stop offset="0.000" stop-color="#181010"/><stop offset="0.008" stop-color="#181010"/><stop offset="0.016" stop-color="#300e50"/><stop offset="0.027" stop-color="#312a95"/><stop offset="0.041" stop-color="#3643a5"/><stop offset="0.058" stop-color="#588bd5"/><stop offset="0.075" stop-color="#81b6d3"/><stop offset="0.096" stop-color="#82b4a4"/><stop offset="0.123" stop-color="#7fb077"/><stop offset="0.158" stop-color="#79ac50"/><stop offset="0.199" stop-color="#73a933"/><stop offset="0.247" stop-color="#6fa62c"/><stop offset="0.302" stop-color="#6ca428"/><stop offset="0.370" stop-color="#70a72b"/><stop offset="0.453" stop-color="#77aa2d"/><stop offset="0.549" stop-color="#7eae2e"/><stop offset="0.658" stop-color="#88b32e"/><stop offset="0.782" stop-color="#90b82e"/><stop offset="0.905" stop-color="#9bbd2d"/><stop offset="1.000" stop-color="#a3c02c"/></radialGradient><radialGradient id="R123" gradientUnits="userSpaceOnUse" cx="0" cy="0" r="220.2"><stop offset="0.000" stop-color="#181010"/><stop offset="0.008" stop-color="#181010"/><stop offset="0.016" stop-color="#300e50"/><stop offset="0.027" stop-color="#312a96"/><stop offset="0.041" stop-color="#3745a6"/><stop offset="0.058" stop-color="#5d93d9"/><stop offset="0.075" stop-color="#84b7cc"/><stop offset="0.096" stop-color="#82b398"/><stop offset="0.123" stop-color="#7eaf6b"/><stop offset="0.158" stop-color="#77ab44"/><stop offset="0.199" stop-color="#71a730"/><stop offset="0.247" stop-color="#6ea52a"/><stop offset="0.302" stop-color="#6ea529"/><stop offset="0.370" stop-color="#74a92c"/><stop offset="0.453" stop-color="#7bac2e"/><stop offset="0.549" stop-color="#85b22e"/><stop offset="0.658" stop-color="#8fb72e"/><stop offset="0.782" stop-color="#9bbd2d"/><stop offset="0.905" stop-color="#a7c22c"/><stop offset="1.000" stop-color="#b0c52b"/></radialGradient><radialGradient id="R124" gradientUnits="userSpaceOnUse" cx="0" cy="0" r="220.2"><stop offset="0.000" stop-color="#181010"/><stop offset="0.008" stop-color="#181010"/><stop offset="0.016" stop-color="#300e4f"/><stop offset="0.027" stop-color="#312b96"/><stop offset="0.041" stop-color="#3846a6"/><stop offset="0.058" stop-color="#6299db"/><stop offset="0.075" stop-color="#86b8c5"/><stop offset="0.096" stop-color="#81b28f"/><stop offset="0.123" stop-color="#7cae60"/><stop offset="0.158" stop-color="#75aa39"/><stop offset="0.199" stop-color="#6fa62d"/><stop offset="0.247" stop-color="#6ca428"/><stop offset="0.302" stop-color="#71a72b"/><stop offset="0.370" stop-color="#78aa2d"/><stop offset="0.453" stop-color="#81af2e"/><stop offset="0.549" stop-color="#8cb52e"/><stop offset="0.658" stop-color="#98bb2d"/><stop offset="0.782" stop-color="#a7c12c"/><stop offset="0.905" stop-color="#b3c72b"/><stop offset="1.000" stop-color="#bdcb29"/></radialGradient><radialGradient id="R125" gradientUnits="userSpaceOnUse" cx="0" cy="0" r="220.2"><stop offset="0.000" stop-color="#181010"/><stop offset="0.008" stop-color="#181010"/><stop offset="0.016" stop-color="#2f0e4c"/><stop offset="0.027" stop-color="#312a96"/><stop offset="0.041" stop-color="#3846a6"/><stop offset="0.058" stop-color="#659cdc"/><stop offset="0.075" stop-color="#85b7c0"/><stop offset="0.096" stop-color="#81b289"/><stop offset="0.123" stop-color="#7bad58"/><stop offset="0.158" stop-color="#73a933"/><stop offset="0.199" stop-color="#6ea62b"/><stop offset="0.247" stop-color="#6da529"/><stop offset="0.302" stop-color="#73a82c"/><stop offset="0.370" stop-color="#7bac2e"/><stop offset="0.453" stop-color="#86b22e"/><stop offset="0.549" stop-color="#91b92e"/><stop offset="0.658" stop-color="#a1bf2c"/><stop offset="0.782" stop-color="#b1c62b"/><stop offset="0.905" stop-color="#bfcc29"/><stop offset="1.000" stop-color="#c9d127"/></radialGradient><radialGradient id="R126" gradientUnits="userSpaceOnUse" cx="0" cy="0" r="220.2"><stop offset="0.000" stop-color="#181010"/><stop offset="0.008" stop-color="#181010"/><stop offset="0.016" stop-color="#2e0d49"/><stop offset="0.027" stop-color="#312a96"/><stop offset="0.041" stop-color="#3846a6"/><stop offset="0.058" stop-color="#679fdd"/><stop offset="0.075" stop-color="#85b7bb"/><stop offset="0.096" stop-color="#80b182"/><stop offset="0.123" stop-color="#79ad51"/><stop offset="0.158" stop-color="#72a831"/><stop offset="0.199" stop-color="#6ea52a"/><stop offset="0.247" stop-color="#6fa62a"/><stop offset="0.302" stop-color="#76aa2d"/><stop offset="0.370" stop-color="#80ae2e"/><stop offset="0.453" stop-color="#8bb52e"/><stop offset="0.549" stop-color="#99bc2d"/><stop offset="0.658" stop-color="#abc32b"/><stop offset="0.782" stop-color="#bbca2a"/><stop offset="0.905" stop-color="#cbd227"/><stop offset="1.000" stop-color="#d6d825"/></radialGradient><radialGradient id="R127" gradientUnits="userSpaceOnUse" cx="0" cy="0" r="220.2"><stop offset="0.000" stop-color="#181010"/><stop offset="0.008" stop-color="#181010"/><stop offset="0.016" stop-color="#2d0d46"/><stop offset="0.027" stop-color="#312a95"/><stop offset="0.041" stop-color="#3846a6"/><stop offset="0.058" stop-color="#6aa1de"/><stop offset="0.075" stop-color="#84b6b6"/><stop offset="0.096" stop-color="#80b07c"/><stop offset="0.123" stop-color="#78ac4a"/><stop offset="0.158" stop-color="#71a72f"/><stop offset="0.199" stop-color="#6da429"/><stop offset="0.247" stop-color="#71a72b"/><stop offset="0.302" stop-color="#79ab2e"/><stop offset="0.370" stop-color="#85b12e"/><stop offset="0.453" stop-color="#91b82e"/><stop offset="0.549" stop-color="#a2c02c"/><stop offset="0.658" stop-color="#b4c72b"/><stop offset="0.782" stop-color="#c7d028"/><stop offset="0.905" stop-color="#d7d825"/><stop offset="1.000" stop-color="#e2de23"/></radialGradient><radialGradient id="R128" gradientUnits="userSpaceOnUse" cx="0" cy="0" r="220.2"><stop offset="0.000" stop-color="#181010"/><stop offset="0.008" stop-color="#181010"/><stop offset="0.016" stop-color="#2b0d41"/><stop offset="0.027" stop-color="#322994"/><stop offset="0.041" stop-color="#3846a6"/><stop offset="0.058" stop-color="#6aa2de"/><stop offset="0.075" stop-color="#84b6b4"/><stop offset="0.096" stop-color="#80b079"/><stop offset="0.123" stop-color="#77ab46"/><stop offset="0.158" stop-color="#70a72e"/><stop offset="0.199" stop-color="#6ca428"/><stop offset="0.247" stop-color="#73a82c"/><stop offset="0.302" stop-color="#7cac2e"/><stop offset="0.370" stop-color="#88b32e"/><stop offset="0.453" stop-color="#97bb2e"/><stop offset="0.549" stop-color="#aac32c"/><stop offset="0.658" stop-color="#bdcb29"/><stop offset="0.782" stop-color="#d1d526"/><stop offset="0.905" stop-color="#e2de23"/><stop offset="1.000" stop-color="#e9e021"/></radialGradient><radialGradient id="R129" gradientUnits="userSpaceOnUse" cx="0" cy="0" r="220.2"><stop offset="0.000" stop-color="#181010"/><stop offset="0.008" stop-color="#181010"/><stop offset="0.016" stop-color="#290c3b"/><stop offset="0.027" stop-color="#322893"/><stop offset="0.041" stop-color="#3745a6"/><stop offset="0.058" stop-color="#69a1de"/><stop offset="0.075" stop-color="#84b6b3"/><stop offset="0.096" stop-color="#7fb077"/><stop offset="0.123" stop-color="#77ab42"/><stop offset="0.158" stop-color="#6fa62d"/><stop offset="0.199" stop-color="#6da529"/><stop offset="0.247" stop-color="#75a92d"/><stop offset="0.302" stop-color="#7fae2e"/><stop offset="0.370" stop-color="#8cb52e"/><stop offset="0.453" stop-color="#9dbe2d"/><stop offset="0.549" stop-color="#b1c62b"/><stop offset="0.658" stop-color="#c6cf28"/><stop offset="0.782" stop-color="#dada24"/><stop offset="0.905" stop-color="#e9e021"/><stop offset="1.000" stop-color="#eee020"/></radialGradient><radialGradient id="R130" gradientUnits="userSpaceOnUse" cx="0" cy="0" r="220.2"><stop offset="0.000" stop-color="#181010"/><stop offset="0.008" stop-color="#181010"/><stop offset="0.016" stop-color="#270c35"/><stop offset="0.027" stop-color="#332792"/><stop offset="0.041" stop-color="#3744a5"/><stop offset="0.058" stop-color="#68a0dd"/><stop offset="0.075" stop-color="#84b6b3"/><stop offset="0.096" stop-color="#7fb074"/><stop offset="0.123" stop-color="#76aa3f"/><stop offset="0.158" stop-color="#6fa62c"/><stop offset="0.199" stop-color="#6ea529"/><stop offset="0.247" stop-color="#76aa2d"/><stop offset="0.302" stop-color="#82b02e"/><stop offset="0.370" stop-color="#8fb82e"/><stop offset="0.453" stop-color="#a3c02c"/><stop offset="0.549" stop-color="#b8c92a"/><stop offset="0.658" stop-color="#cfd426"/><stop offset="0.782" stop-color="#e4df22"/><stop offset="0.905" stop-color="#ede021"/><stop offset="1.000" stop-color="#efd61f"/></radialGradient><radialGradient id="R131" gradientUnits="userSpaceOnUse" cx="0" cy="0" r="220.2"><stop offset="0.000" stop-color="#181010"/><stop offset="0.008" stop-color="#181010"/><stop offset="0.016" stop-color="#260d32"/><stop offset="0.027" stop-color="#332691"/><stop offset="0.041" stop-color="#3744a6"/><stop offset="0.058" stop-color="#6aa2de"/><stop offset="0.075" stop-color="#83b5ae"/><stop offset="0.096" stop-color="#7eaf6e"/><stop offset="0.123" stop-color="#75a938"/><stop offset="0.158" stop-color="#6ea52b"/><stop offset="0.199" stop-color="#70a72b"/><stop offset="0.247" stop-color="#79ab2e"/><stop offset="0.302" stop-color="#86b22e"/><stop offset="0.370" stop-color="#96bb2e"/><stop offset="0.453" stop-color="#acc42b"/><stop offset="0.549" stop-color="#c3ce28"/><stop offset="0.658" stop-color="#dada24"/><stop offset="0.782" stop-color="#eae021"/><stop offset="0.905" stop-color="#efd51f"/><stop offset="1.000" stop-color="#ecbe1e"/></radialGradient><clipPath id="clipR"><rect x="416.5" y="21.5" width="220.1" height="440.5"/></clipPath><clipPath id="circR"><circle cx="0" cy="0" r="220.16"/></clipPath>
<g id="halfR" shape-rendering="crispEdges"><path d="M0 0L224.15 1.96A224.2 224.2 0 0 0 224.11 -4.50Z" fill="url(#R0)"/><path d="M0 0L224.12 -3.91A224.2 224.2 0 0 0 224.00 -8.41Z" fill="url(#R1)"/><path d="M0 0L224.02 -7.82A224.2 224.2 0 0 0 223.82 -12.32Z" fill="url(#R2)"/><path d="M0 0L223.85 -11.73A224.2 224.2 0 0 0 223.57 -16.22Z" fill="url(#R3)"/><path d="M0 0L223.61 -15.64A224.2 224.2 0 0 0 223.42 -18.17Z" fill="url(#R4)"/><path d="M0 0L223.47 -17.59A224.2 224.2 0 0 0 223.25 -20.12Z" fill="url(#R5)"/><path d="M0 0L223.31 -19.54A224.2 224.2 0 0 0 223.07 -22.07Z" fill="url(#R6)"/><path d="M0 0L223.13 -21.48A224.2 224.2 0 0 0 222.87 -24.01Z" fill="url(#R7)"/><path d="M0 0L222.93 -23.43A224.2 224.2 0 0 0 222.65 -25.96Z" fill="url(#R8)"/><path d="M0 0L222.72 -25.38A224.2 224.2 0 0 0 222.41 -27.90Z" fill="url(#R9)"/><path d="M0 0L222.49 -27.32A224.2 224.2 0 0 0 222.16 -29.84Z" fill="url(#R10)"/><path d="M0 0L222.24 -29.26A224.2 224.2 0 0 0 221.89 -31.78Z" fill="url(#R11)"/><path d="M0 0L221.98 -31.20A224.2 224.2 0 0 0 221.61 -33.71Z" fill="url(#R12)"/><path d="M0 0L221.70 -33.13A224.2 224.2 0 0 0 221.31 -35.65Z" fill="url(#R13)"/><path d="M0 0L221.40 -35.07A224.2 224.2 0 0 0 220.99 -37.58Z" fill="url(#R14)"/><path d="M0 0L221.08 -37.00A224.2 224.2 0 0 0 220.65 -39.50Z" fill="url(#R15)"/><path d="M0 0L220.75 -38.92A224.2 224.2 0 0 0 220.30 -41.43Z" fill="url(#R16)"/><path d="M0 0L220.40 -40.85A224.2 224.2 0 0 0 219.93 -43.35Z" fill="url(#R17)"/><path d="M0 0L220.04 -42.77A224.2 224.2 0 0 0 219.54 -45.26Z" fill="url(#R18)"/><path d="M0 0L219.66 -44.69A224.2 224.2 0 0 0 219.14 -47.18Z" fill="url(#R19)"/><path d="M0 0L219.26 -46.61A224.2 224.2 0 0 0 218.72 -49.09Z" fill="url(#R20)"/><path d="M0 0L218.84 -48.52A224.2 224.2 0 0 0 218.28 -51.00Z" fill="url(#R21)"/><path d="M0 0L218.41 -50.42A224.2 224.2 0 0 0 217.83 -52.90Z" fill="url(#R22)"/><path d="M0 0L217.96 -52.33A224.2 224.2 0 0 0 217.36 -54.80Z" fill="url(#R23)"/><path d="M0 0L217.50 -54.23A224.2 224.2 0 0 0 216.87 -56.69Z" fill="url(#R24)"/><path d="M0 0L217.02 -56.12A224.2 224.2 0 0 0 216.37 -58.58Z" fill="url(#R25)"/><path d="M0 0L216.52 -58.02A224.2 224.2 0 0 0 215.85 -60.47Z" fill="url(#R26)"/><path d="M0 0L216.01 -59.90A224.2 224.2 0 0 0 215.31 -62.35Z" fill="url(#R27)"/><path d="M0 0L215.47 -61.79A224.2 224.2 0 0 0 214.76 -64.23Z" fill="url(#R28)"/><path d="M0 0L214.93 -63.66A224.2 224.2 0 0 0 214.19 -66.10Z" fill="url(#R29)"/><path d="M0 0L214.36 -65.54A224.2 224.2 0 0 0 213.61 -67.97Z" fill="url(#R30)"/><path d="M0 0L213.78 -67.41A224.2 224.2 0 0 0 213.00 -69.83Z" fill="url(#R31)"/><path d="M0 0L213.19 -69.27A224.2 224.2 0 0 0 212.39 -71.68Z" fill="url(#R32)"/><path d="M0 0L212.57 -71.13A224.2 224.2 0 0 0 211.75 -73.53Z" fill="url(#R33)"/><path d="M0 0L211.95 -72.98A224.2 224.2 0 0 0 211.10 -75.38Z" fill="url(#R34)"/><path d="M0 0L211.30 -74.83A224.2 224.2 0 0 0 210.44 -77.22Z" fill="url(#R35)"/><path d="M0 0L210.64 -76.67A224.2 224.2 0 0 0 209.76 -79.05Z" fill="url(#R36)"/><path d="M0 0L209.96 -78.50A224.2 224.2 0 0 0 209.06 -80.88Z" fill="url(#R37)"/><path d="M0 0L209.27 -80.33A224.2 224.2 0 0 0 208.34 -82.70Z" fill="url(#R38)"/><path d="M0 0L208.56 -82.15A224.2 224.2 0 0 0 207.62 -84.51Z" fill="url(#R39)"/><path d="M0 0L207.84 -83.97A224.2 224.2 0 0 0 206.87 -86.32Z" fill="url(#R40)"/><path d="M0 0L207.09 -85.78A224.2 224.2 0 0 0 206.11 -88.13Z" fill="url(#R41)"/><path d="M0 0L206.34 -87.59A224.2 224.2 0 0 0 205.33 -89.92Z" fill="url(#R42)"/><path d="M0 0L205.57 -89.38A224.2 224.2 0 0 0 204.54 -91.71Z" fill="url(#R43)"/><path d="M0 0L204.78 -91.17A224.2 224.2 0 0 0 203.73 -93.49Z" fill="url(#R44)"/><path d="M0 0L203.98 -92.96A224.2 224.2 0 0 0 202.91 -95.26Z" fill="url(#R45)"/><path d="M0 0L203.16 -94.73A224.2 224.2 0 0 0 202.07 -97.03Z" fill="url(#R46)"/><path d="M0 0L202.32 -96.50A224.2 224.2 0 0 0 201.21 -98.79Z" fill="url(#R47)"/><path d="M0 0L201.47 -98.26A224.2 224.2 0 0 0 200.34 -100.54Z" fill="url(#R48)"/><path d="M0 0L200.61 -100.02A224.2 224.2 0 0 0 199.46 -102.29Z" fill="url(#R49)"/><path d="M0 0L199.73 -101.77A224.2 224.2 0 0 0 198.56 -104.02Z" fill="url(#R50)"/><path d="M0 0L198.83 -103.50A224.2 224.2 0 0 0 197.64 -105.75Z" fill="url(#R51)"/><path d="M0 0L197.92 -105.24A224.2 224.2 0 0 0 196.71 -107.47Z" fill="url(#R52)"/><path d="M0 0L196.99 -106.96A224.2 224.2 0 0 0 195.77 -109.19Z" fill="url(#R53)"/><path d="M0 0L196.05 -108.67A224.2 224.2 0 0 0 194.81 -110.89Z" fill="url(#R54)"/><path d="M0 0L195.10 -110.38A224.2 224.2 0 0 0 193.83 -112.59Z" fill="url(#R55)"/><path d="M0 0L194.13 -112.08A224.2 224.2 0 0 0 192.84 -114.27Z" fill="url(#R56)"/><path d="M0 0L193.14 -113.77A224.2 224.2 0 0 0 191.84 -115.95Z" fill="url(#R57)"/><path d="M0 0L192.14 -115.45A224.2 224.2 0 0 0 190.82 -117.62Z" fill="url(#R58)"/><path d="M0 0L191.13 -117.12A224.2 224.2 0 0 0 189.79 -119.28Z" fill="url(#R59)"/><path d="M0 0L190.10 -118.79A224.2 224.2 0 0 0 188.74 -120.93Z" fill="url(#R60)"/><path d="M0 0L189.05 -120.44A224.2 224.2 0 0 0 187.67 -122.58Z" fill="url(#R61)"/><path d="M0 0L187.99 -122.09A224.2 224.2 0 0 0 186.60 -124.21Z" fill="url(#R62)"/><path d="M0 0L186.92 -123.72A224.2 224.2 0 0 0 185.51 -125.83Z" fill="url(#R63)"/><path d="M0 0L185.84 -125.35A224.2 224.2 0 0 0 183.28 -129.05Z" fill="url(#R64)"/><path d="M0 0L183.62 -128.57A224.2 224.2 0 0 0 181.00 -132.23Z" fill="url(#R65)"/><path d="M0 0L181.35 -131.76A224.2 224.2 0 0 0 178.67 -135.37Z" fill="url(#R66)"/><path d="M0 0L179.02 -134.90A224.2 224.2 0 0 0 176.28 -138.47Z" fill="url(#R67)"/><path d="M0 0L176.64 -138.01A224.2 224.2 0 0 0 173.83 -141.52Z" fill="url(#R68)"/><path d="M0 0L174.20 -141.07A224.2 224.2 0 0 0 171.34 -144.54Z" fill="url(#R69)"/><path d="M0 0L171.71 -144.09A224.2 224.2 0 0 0 168.79 -147.50Z" fill="url(#R70)"/><path d="M0 0L169.17 -147.06A224.2 224.2 0 0 0 166.19 -150.43Z" fill="url(#R71)"/><path d="M0 0L166.58 -149.99A224.2 224.2 0 0 0 163.54 -153.30Z" fill="url(#R72)"/><path d="M0 0L163.94 -152.88A224.2 224.2 0 0 0 160.84 -156.13Z" fill="url(#R73)"/><path d="M0 0L161.25 -155.71A224.2 224.2 0 0 0 158.09 -158.92Z" fill="url(#R74)"/><path d="M0 0L158.50 -158.50A224.2 224.2 0 0 0 155.29 -161.65Z" fill="url(#R75)"/><path d="M0 0L155.71 -161.25A224.2 224.2 0 0 0 152.45 -164.34Z" fill="url(#R76)"/><path d="M0 0L152.88 -163.94A224.2 224.2 0 0 0 149.55 -166.97Z" fill="url(#R77)"/><path d="M0 0L149.99 -166.58A224.2 224.2 0 0 0 146.62 -169.56Z" fill="url(#R78)"/><path d="M0 0L147.06 -169.17A224.2 224.2 0 0 0 143.64 -172.09Z" fill="url(#R79)"/><path d="M0 0L144.09 -171.71A224.2 224.2 0 0 0 140.61 -174.57Z" fill="url(#R80)"/><path d="M0 0L141.07 -174.20A224.2 224.2 0 0 0 137.54 -177.00Z" fill="url(#R81)"/><path d="M0 0L138.01 -176.64A224.2 224.2 0 0 0 134.43 -179.37Z" fill="url(#R82)"/><path d="M0 0L134.90 -179.02A224.2 224.2 0 0 0 131.28 -181.69Z" fill="url(#R83)"/><path d="M0 0L131.76 -181.35A224.2 224.2 0 0 0 128.09 -183.96Z" fill="url(#R84)"/><path d="M0 0L128.57 -183.62A224.2 224.2 0 0 0 124.86 -186.16Z" fill="url(#R85)"/><path d="M0 0L125.35 -185.84A224.2 224.2 0 0 0 121.59 -188.31Z" fill="url(#R86)"/><path d="M0 0L122.09 -187.99A224.2 224.2 0 0 0 118.29 -190.41Z" fill="url(#R87)"/><path d="M0 0L118.79 -190.10A224.2 224.2 0 0 0 114.95 -192.44Z" fill="url(#R88)"/><path d="M0 0L115.45 -192.14A224.2 224.2 0 0 0 111.57 -194.42Z" fill="url(#R89)"/><path d="M0 0L112.08 -194.13A224.2 224.2 0 0 0 108.16 -196.34Z" fill="url(#R90)"/><path d="M0 0L108.67 -196.05A224.2 224.2 0 0 0 104.72 -198.19Z" fill="url(#R91)"/><path d="M0 0L105.24 -197.92A224.2 224.2 0 0 0 101.24 -199.99Z" fill="url(#R92)"/><path d="M0 0L101.77 -199.73A224.2 224.2 0 0 0 97.74 -201.73Z" fill="url(#R93)"/><path d="M0 0L98.26 -201.47A224.2 224.2 0 0 0 94.20 -203.40Z" fill="url(#R94)"/><path d="M0 0L94.73 -203.16A224.2 224.2 0 0 0 90.64 -205.02Z" fill="url(#R95)"/><path d="M0 0L91.17 -204.78A224.2 224.2 0 0 0 87.05 -206.57Z" fill="url(#R96)"/><path d="M0 0L87.59 -206.34A224.2 224.2 0 0 0 83.43 -208.05Z" fill="url(#R97)"/><path d="M0 0L83.97 -207.84A224.2 224.2 0 0 0 79.78 -209.48Z" fill="url(#R98)"/><path d="M0 0L80.33 -209.27A224.2 224.2 0 0 0 76.11 -210.84Z" fill="url(#R99)"/><path d="M0 0L76.67 -210.64A224.2 224.2 0 0 0 72.42 -212.14Z" fill="url(#R100)"/><path d="M0 0L72.98 -211.95A224.2 224.2 0 0 0 68.71 -213.37Z" fill="url(#R101)"/><path d="M0 0L69.27 -213.19A224.2 224.2 0 0 0 64.98 -214.53Z" fill="url(#R102)"/><path d="M0 0L65.54 -214.36A224.2 224.2 0 0 0 61.22 -215.64Z" fill="url(#R103)"/><path d="M0 0L61.79 -215.47A224.2 224.2 0 0 0 57.45 -216.67Z" fill="url(#R104)"/><path d="M0 0L58.02 -216.52A224.2 224.2 0 0 0 53.66 -217.64Z" fill="url(#R105)"/><path d="M0 0L54.23 -217.50A224.2 224.2 0 0 0 49.85 -218.54Z" fill="url(#R106)"/><path d="M0 0L50.42 -218.41A224.2 224.2 0 0 0 46.03 -219.38Z" fill="url(#R107)"/><path d="M0 0L46.61 -219.26A224.2 224.2 0 0 0 44.11 -219.77Z" fill="url(#R108)"/><path d="M0 0L44.69 -219.66A224.2 224.2 0 0 0 42.20 -220.15Z" fill="url(#R109)"/><path d="M0 0L42.77 -220.04A224.2 224.2 0 0 0 40.27 -220.51Z" fill="url(#R110)"/><path d="M0 0L40.85 -220.40A224.2 224.2 0 0 0 38.35 -220.85Z" fill="url(#R111)"/><path d="M0 0L38.92 -220.75A224.2 224.2 0 0 0 36.42 -221.18Z" fill="url(#R112)"/><path d="M0 0L37.00 -221.08A224.2 224.2 0 0 0 34.49 -221.49Z" fill="url(#R113)"/><path d="M0 0L35.07 -221.40A224.2 224.2 0 0 0 32.55 -221.78Z" fill="url(#R114)"/><path d="M0 0L33.13 -221.70A224.2 224.2 0 0 0 30.62 -222.06Z" fill="url(#R115)"/><path d="M0 0L31.20 -221.98A224.2 224.2 0 0 0 28.68 -222.32Z" fill="url(#R116)"/><path d="M0 0L29.26 -222.24A224.2 224.2 0 0 0 26.74 -222.56Z" fill="url(#R117)"/><path d="M0 0L27.32 -222.49A224.2 224.2 0 0 0 24.79 -222.78Z" fill="url(#R118)"/><path d="M0 0L25.38 -222.72A224.2 224.2 0 0 0 22.85 -222.99Z" fill="url(#R119)"/><path d="M0 0L23.43 -222.93A224.2 224.2 0 0 0 20.90 -223.18Z" fill="url(#R120)"/><path d="M0 0L21.48 -223.13A224.2 224.2 0 0 0 18.95 -223.36Z" fill="url(#R121)"/><path d="M0 0L19.54 -223.31A224.2 224.2 0 0 0 17.00 -223.51Z" fill="url(#R122)"/><path d="M0 0L17.59 -223.47A224.2 224.2 0 0 0 15.05 -223.65Z" fill="url(#R123)"/><path d="M0 0L15.64 -223.61A224.2 224.2 0 0 0 13.10 -223.77Z" fill="url(#R124)"/><path d="M0 0L13.68 -223.74A224.2 224.2 0 0 0 11.15 -223.88Z" fill="url(#R125)"/><path d="M0 0L11.73 -223.85A224.2 224.2 0 0 0 9.19 -223.97Z" fill="url(#R126)"/><path d="M0 0L9.78 -223.94A224.2 224.2 0 0 0 7.24 -224.04Z" fill="url(#R127)"/><path d="M0 0L7.82 -224.02A224.2 224.2 0 0 0 5.28 -224.10Z" fill="url(#R128)"/><path d="M0 0L5.87 -224.08A224.2 224.2 0 0 0 3.33 -224.13Z" fill="url(#R129)"/><path d="M0 0L3.91 -224.12A224.2 224.2 0 0 0 1.37 -224.15Z" fill="url(#R130)"/><path d="M0 0L1.96 -224.15A224.2 224.2 0 0 0 -0.59 -224.16Z" fill="url(#R131)"/></g><g id="contR"><path d="M0.1 -0.4L0.3 -2.1L0.0 -3.1M0.1 -0.4L0.4 -2.4L0.3 -3.2L0.0 -3.7M0.4 -0.1L1.0 -0.4L1.1 -0.9L0.7 -0.9L0.2 -0.4M0.2 -0.4L0.6 -2.9L0.4 -4.0L0.0 -4.5M1.2 -0.0L1.9 -0.8L2.0 -1.5L1.8 -1.8L1.3 -1.7L0.4 -0.9L0.7 -3.9L0.5 -5.0L0.3 -5.0L0.0 -5.4M2.3 -0.0L2.6 -0.9L3.0 -1.5L3.2 -2.3L2.8 -2.8L2.1 -2.7L0.8 -1.8L1.0 -5.1L0.6 -6.3L0.4 -6.2L0.0 -6.5M3.7 -0.0L4.0 -1.0L3.7 -1.3L4.5 -2.2L4.7 -3.4L4.1 -4.1L3.3 -4.1L2.4 -3.7L1.3 -2.9L1.3 -6.7L0.8 -7.9L0.5 -7.6L0.0 -7.9M5.6 -0.0L5.7 -1.4L5.0 -1.8L6.5 -3.2L7.1 -4.3L7.2 -5.2L6.2 -6.2L5.2 -6.1L4.1 -5.8L1.9 -4.4L1.7 -8.9L1.3 -9.8L1.0 -10.1L0.6 -9.5L0.3 -9.5L0.1 -9.7L0.0 -9.6M8.7 -0.0L8.8 -1.1L8.5 -1.9L8.1 -2.1L6.7 -2.2L6.6 -2.3L8.9 -4.0L10.6 -5.6L12.0 -7.3L12.7 -8.6L12.8 -9.3L10.9 -10.9L7.3 -9.6L2.9 -6.5L2.6 -7.0L2.6 -9.4L2.3 -12.4L1.8 -13.3L1.3 -13.4L0.8 -12.2L0.4 -11.9L0.1 -12.1L0.0 -11.8M20.9 -0.0L21.3 -1.0L21.3 -1.6L19.2 -2.0L18.6 -2.4L15.8 -2.7L13.9 -3.2L12.0 -3.2L8.6 -2.8L8.5 -3.0L8.6 -3.2L17.0 -8.2L28.2 -15.8L39.3 -23.0L84.3 -51.2L141.1 -88.1L186.6 -116.8M133.2 -175.3L66.0 -87.4L43.6 -58.5L12.8 -19.3L8.9 -14.8L4.5 -10.3L4.1 -10.4L4.0 -11.0L4.1 -14.9L3.7 -19.6L2.7 -19.8L1.8 -18.9L1.1 -16.4L0.5 -15.5L0.1 -15.4L0.0 -15.0M218.0 -31.0L163.7 -23.5L107.2 -16.5L55.2 -10.5L32.7 -7.4L20.2 -5.3L13.4 -4.0L11.1 -3.6L10.7 -3.7L11.0 -4.0L13.8 -5.6L21.3 -9.3L43.1 -20.8L83.0 -42.5L119.1 -62.6L146.6 -78.6L193.7 -104.6M86.5 -202.4L33.7 -80.4L17.2 -43.1L14.4 -37.4L13.4 -35.9L12.6 -35.2L12.3 -35.6L12.1 -36.6L11.9 -42.0L11.7 -42.2L10.5 -40.7L9.6 -40.0L8.9 -40.0L7.9 -40.5L7.7 -40.4L6.2 -36.9L4.6 -34.1L2.8 -29.5L1.5 -23.5L0.8 -21.4L0.2 -20.6L0.0 -19.7M215.9 -43.1L163.1 -32.9L94.3 -21.3L39.1 -10.3L19.3 -5.7L14.1 -4.7L13.9 -4.9L14.3 -5.3L20.5 -8.4L40.4 -17.6L80.0 -37.1L131.1 -63.2L149.4 -73.1L197.5 -97.3M59.3 -212.0L30.5 -127.2L23.6 -107.9L17.5 -92.1L12.4 -75.0L8.5 -62.5L4.7 -48.6L2.3 -35.8L1.2 -30.9L0.2 -28.5L0.0 -27.0M214.4 -49.9L161.9 -38.1L118.1 -29.2L81.4 -21.3L67.0 -17.9L23.1 -7.1L18.5 -6.1L18.0 -6.3L18.7 -6.9L29.1 -11.8L83.2 -36.2L134.7 -61.4L151.1 -69.6L199.7 -92.6M41.3 -216.2L15.8 -115.9L7.8 -80.7L3.6 -55.6L1.6 -44.8L0.4 -40.5L0.0 -37.8M213.4 -54.2L161.1 -41.4L136.6 -36.0L117.4 -31.5L80.9 -22.4L43.7 -12.8L23.9 -7.9L23.1 -8.1L24.4 -9.0L42.2 -17.1L92.1 -39.1L137.4 -59.7L152.3 -66.9L201.3 -89.1M29.9 -218.1L12.9 -134.4L5.7 -86.8L2.3 -66.3L0.5 -57.8L0.0 -53.4M212.6 -57.2L160.6 -43.5L116.2 -32.4L43.5 -13.5L32.4 -10.7L31.2 -10.9L32.9 -12.1L42.5 -16.4L113.5 -47.6L153.0 -65.4L202.3 -86.9M20.8 -219.2L17.1 -194.0L10.1 -143.8L4.0 -102.1L0.7 -82.5L0.0 -75.4M212.1 -58.9L160.2 -44.7L77.1 -23.2L43.3 -14.1L41.7 -13.7L40.1 -14.0L41.4 -15.1L42.7 -15.8L77.3 -30.6L153.4 -64.2L202.9 -85.3M14.9 -219.7L5.1 -145.7L1.0 -117.9L0.0 -106.5M211.8 -60.2L159.9 -45.7L89.1 -27.4L56.8 -18.6L54.9 -18.1L52.3 -18.3L54.6 -19.9L56.2 -20.7L86.9 -33.8L152.9 -62.9L203.4 -84.1M8.0 -220.0L1.5 -168.6L0.0 -150.6M211.4 -61.4L159.6 -46.8L117.8 -36.0L73.2 -24.1L69.2 -24.2L72.8 -26.5L75.2 -27.8L114.3 -44.6L154.3 -62.3L204.0 -82.9M0.5 -220.2L0.0 -213.0M210.9 -63.1L159.2 -48.1L98.7 -32.1L92.3 -30.4L88.7 -30.6L88.0 -30.7L91.5 -33.3L93.9 -34.6L154.8 -61.0L204.6 -81.3M210.4 -64.8L158.8 -49.4L119.7 -38.9L111.0 -36.6L106.2 -36.6L105.3 -36.8L109.9 -40.0L113.2 -41.8L155.2 -59.8L205.2 -79.7M209.9 -66.4L158.4 -50.7L143.2 -46.5L132.5 -43.7L126.8 -43.7L125.8 -43.9L131.2 -47.7L135.2 -49.9L155.7 -58.6L205.8 -78.2M209.4 -67.9L157.0 -51.7L156.1 -51.5L149.6 -51.5L148.3 -51.8L154.4 -56.2L156.2 -57.2L168.9 -62.3L206.4 -76.7M2.1 -1.5L6.3 -4.5L15.1 -6.6L24.2 -7.9L36.2 -9.1L53.5 -10.3L78.5 -11.8L105.7 -12.4L131.7 -12.4L151.0 -11.8L170.9 -10.6L196.3 -8.2L220.2 -5.1" fill="none" stroke="#1a1a1a" stroke-width="0.9" stroke-dasharray="1.6 3.9"/></g></defs>
<g clip-path="url(#clipR)"><g transform="translate(416.5 241.75) scale(0.99437 1)" clip-path="url(#circR)">
<use href="#halfR"/><use href="#halfR" transform="scale(1 -1)"/>
<use href="#contR"/><use href="#contR" transform="scale(1 -1)"/>
</g></g>
<rect x="46.5" y="21.5" width="219.89999999999998" height="440.3" fill="none" stroke="#777" stroke-width="1.2"/>
<path d="M46.50 461.8v-9M46.50 21.5v9M61.60 461.8v-4.5M61.60 21.5v4.5M76.70 461.8v-4.5M76.70 21.5v4.5M91.80 461.8v-4.5M91.80 21.5v4.5M106.90 461.8v-9M106.90 21.5v9M122.00 461.8v-4.5M122.00 21.5v4.5M137.10 461.8v-4.5M137.10 21.5v4.5M152.20 461.8v-4.5M152.20 21.5v4.5M167.30 461.8v-9M167.30 21.5v9M182.40 461.8v-4.5M182.40 21.5v4.5M197.50 461.8v-4.5M197.50 21.5v4.5M212.60 461.8v-4.5M212.60 21.5v4.5M227.70 461.8v-9M227.70 21.5v9M242.80 461.8v-4.5M242.80 21.5v4.5M257.90 461.8v-4.5M257.90 21.5v4.5M46.5 453.15h2.5M266.4 453.15h-2.5M46.5 438.05h2.5M266.4 438.05h-2.5M46.5 422.95h4.8M266.4 422.95h-4.8M46.5 407.85h2.5M266.4 407.85h-2.5M46.5 392.75h2.5M266.4 392.75h-2.5M46.5 377.65h2.5M266.4 377.65h-2.5M46.5 362.55h4.8M266.4 362.55h-4.8M46.5 347.45h2.5M266.4 347.45h-2.5M46.5 332.35h2.5M266.4 332.35h-2.5M46.5 317.25h2.5M266.4 317.25h-2.5M46.5 302.15h4.8M266.4 302.15h-4.8M46.5 287.05h2.5M266.4 287.05h-2.5M46.5 271.95h2.5M266.4 271.95h-2.5M46.5 256.85h2.5M266.4 256.85h-2.5M46.5 241.75h4.8M266.4 241.75h-4.8M46.5 226.65h2.5M266.4 226.65h-2.5M46.5 211.55h2.5M266.4 211.55h-2.5M46.5 196.45h2.5M266.4 196.45h-2.5M46.5 181.35h4.8M266.4 181.35h-4.8M46.5 166.25h2.5M266.4 166.25h-2.5M46.5 151.15h2.5M266.4 151.15h-2.5M46.5 136.05h2.5M266.4 136.05h-2.5M46.5 120.95h4.8M266.4 120.95h-4.8M46.5 105.85h2.5M266.4 105.85h-2.5M46.5 90.75h2.5M266.4 90.75h-2.5M46.5 75.65h2.5M266.4 75.65h-2.5M46.5 60.55h4.8M266.4 60.55h-4.8M46.5 45.45h2.5M266.4 45.45h-2.5M46.5 30.35h2.5M266.4 30.35h-2.5" stroke="#777" stroke-width="1.2" fill="none"/>
<text x="47.2" y="478.3" text-anchor="middle" class="tk">0</text>
<text x="107.6" y="478.3" text-anchor="middle" class="tk">20</text>
<text x="168.0" y="478.3" text-anchor="middle" class="tk">40</text>
<text x="228.4" y="478.3" text-anchor="middle" class="tk">60</text>
<text x="42.2" y="428.6" text-anchor="end" class="tk">-60</text>
<text x="42.2" y="368.2" text-anchor="end" class="tk">-40</text>
<text x="42.2" y="307.8" text-anchor="end" class="tk">-20</text>
<text x="42.2" y="247.3" text-anchor="end" class="tk">0</text>
<text x="42.2" y="186.9" text-anchor="end" class="tk">20</text>
<text x="42.2" y="126.5" text-anchor="end" class="tk">40</text>
<text x="42.2" y="66.2" text-anchor="end" class="tk">60</text>
<rect x="416.5" y="21.5" width="219.10000000000002" height="440.3" fill="none" stroke="#777" stroke-width="1.2"/>
<path d="M416.50 461.8v-9M416.50 21.5v9M431.51 461.8v-4.5M431.51 21.5v4.5M446.53 461.8v-4.5M446.53 21.5v4.5M461.55 461.8v-4.5M461.55 21.5v4.5M476.56 461.8v-9M476.56 21.5v9M491.57 461.8v-4.5M491.57 21.5v4.5M506.59 461.8v-4.5M506.59 21.5v4.5M521.61 461.8v-4.5M521.61 21.5v4.5M536.62 461.8v-9M536.62 21.5v9M551.63 461.8v-4.5M551.63 21.5v4.5M566.65 461.8v-4.5M566.65 21.5v4.5M581.66 461.8v-4.5M581.66 21.5v4.5M596.68 461.8v-9M596.68 21.5v9M611.69 461.8v-4.5M611.69 21.5v4.5M626.71 461.8v-4.5M626.71 21.5v4.5M416.5 453.15h2.5M635.6 453.15h-2.5M416.5 438.05h2.5M635.6 438.05h-2.5M416.5 422.95h4.8M635.6 422.95h-4.8M416.5 407.85h2.5M635.6 407.85h-2.5M416.5 392.75h2.5M635.6 392.75h-2.5M416.5 377.65h2.5M635.6 377.65h-2.5M416.5 362.55h4.8M635.6 362.55h-4.8M416.5 347.45h2.5M635.6 347.45h-2.5M416.5 332.35h2.5M635.6 332.35h-2.5M416.5 317.25h2.5M635.6 317.25h-2.5M416.5 302.15h4.8M635.6 302.15h-4.8M416.5 287.05h2.5M635.6 287.05h-2.5M416.5 271.95h2.5M635.6 271.95h-2.5M416.5 256.85h2.5M635.6 256.85h-2.5M416.5 241.75h4.8M635.6 241.75h-4.8M416.5 226.65h2.5M635.6 226.65h-2.5M416.5 211.55h2.5M635.6 211.55h-2.5M416.5 196.45h2.5M635.6 196.45h-2.5M416.5 181.35h4.8M635.6 181.35h-4.8M416.5 166.25h2.5M635.6 166.25h-2.5M416.5 151.15h2.5M635.6 151.15h-2.5M416.5 136.05h2.5M635.6 136.05h-2.5M416.5 120.95h4.8M635.6 120.95h-4.8M416.5 105.85h2.5M635.6 105.85h-2.5M416.5 90.75h2.5M635.6 90.75h-2.5M416.5 75.65h2.5M635.6 75.65h-2.5M416.5 60.55h4.8M635.6 60.55h-4.8M416.5 45.45h2.5M635.6 45.45h-2.5M416.5 30.35h2.5M635.6 30.35h-2.5" stroke="#777" stroke-width="1.2" fill="none"/>
<text x="416.9" y="479.9" text-anchor="middle" class="tk">0</text>
<text x="477.0" y="479.9" text-anchor="middle" class="tk">20</text>
<text x="537.0" y="479.9" text-anchor="middle" class="tk">40</text>
<text x="597.1" y="479.9" text-anchor="middle" class="tk">60</text>
<text x="411.2" y="430.9" text-anchor="end" class="tk">-60</text>
<text x="411.2" y="370.5" text-anchor="end" class="tk">-40</text>
<text x="411.2" y="310.1" text-anchor="end" class="tk">-20</text>
<text x="411.2" y="249.7" text-anchor="end" class="tk">0</text>
<text x="411.2" y="189.2" text-anchor="end" class="tk">20</text>
<text x="411.2" y="128.8" text-anchor="end" class="tk">40</text>
<text x="411.2" y="68.5" text-anchor="end" class="tk">60</text>
<defs><linearGradient id="cb" x1="0" y1="0" x2="0" y2="1"><stop offset="0.0000" stop-color="#ae1620"/><stop offset="0.0500" stop-color="#b51a20"/><stop offset="0.1000" stop-color="#c0271c"/><stop offset="0.1500" stop-color="#d95c1b"/><stop offset="0.1750" stop-color="#e1891c"/><stop offset="0.2000" stop-color="#ebb81e"/><stop offset="0.2250" stop-color="#f0e020"/><stop offset="0.2500" stop-color="#e6e022"/><stop offset="0.3000" stop-color="#b9c92a"/><stop offset="0.3500" stop-color="#92b92e"/><stop offset="0.4000" stop-color="#7aab2e"/><stop offset="0.4250" stop-color="#72a82c"/><stop offset="0.4500" stop-color="#6ca428"/><stop offset="0.4750" stop-color="#6fa62c"/><stop offset="0.5000" stop-color="#74a934"/><stop offset="0.5250" stop-color="#7aad55"/><stop offset="0.5500" stop-color="#80b07a"/><stop offset="0.5750" stop-color="#82b4a0"/><stop offset="0.6000" stop-color="#86b8c8"/><stop offset="0.6250" stop-color="#7ab4e4"/><stop offset="0.6500" stop-color="#5a90d8"/><stop offset="0.6750" stop-color="#4868bc"/><stop offset="0.7000" stop-color="#3a4aa8"/><stop offset="0.7500" stop-color="#3038a0"/><stop offset="0.8000" stop-color="#302c98"/><stop offset="0.8500" stop-color="#381e88"/><stop offset="0.8750" stop-color="#401580"/><stop offset="0.9000" stop-color="#381068"/><stop offset="0.9500" stop-color="#280c38"/><stop offset="1.0000" stop-color="#181010"/></linearGradient></defs>
<rect x="331.5" y="109.9" width="14.5" height="263.70000000000005" fill="url(#cb)" stroke="#333" stroke-width="1"/>
<path d="M331.5 123.09h1.5M346.0 123.09h-1.5M331.5 136.27h2.2M346.0 136.27h-2.2M331.5 149.46h1.5M346.0 149.46h-1.5M331.5 162.64h2.2M346.0 162.64h-2.2M331.5 175.83h1.5M346.0 175.83h-1.5M331.5 189.01h2.2M346.0 189.01h-2.2M331.5 202.20h1.5M346.0 202.20h-1.5M331.5 215.38h2.2M346.0 215.38h-2.2M331.5 228.57h1.5M346.0 228.57h-1.5M331.5 241.75h2.2M346.0 241.75h-2.2M331.5 254.94h1.5M346.0 254.94h-1.5M331.5 268.12h2.2M346.0 268.12h-2.2M331.5 281.31h1.5M346.0 281.31h-1.5M331.5 294.49h2.2M346.0 294.49h-2.2M331.5 307.68h1.5M346.0 307.68h-1.5M331.5 320.86h2.2M346.0 320.86h-2.2M331.5 334.05h1.5M346.0 334.05h-1.5M331.5 347.23h2.2M346.0 347.23h-2.2M331.5 360.42h1.5M346.0 360.42h-1.5" stroke="#222" stroke-width="0.8" fill="none"/>
<text x="328.1" y="118.2" text-anchor="end" class="cb">1.00</text>
<text x="328.1" y="141.9" text-anchor="end" class="cb">0.60</text>
<text x="328.1" y="168.3" text-anchor="end" class="cb">0.20</text>
<text x="328.1" y="194.7" text-anchor="end" class="cb">-0.20</text>
<text x="328.1" y="221.0" text-anchor="end" class="cb">-0.60</text>
<text x="328.1" y="247.4" text-anchor="end" class="cb">-1.00</text>
<text x="328.1" y="273.8" text-anchor="end" class="cb">-1.40</text>
<text x="328.1" y="300.1" text-anchor="end" class="cb">-1.80</text>
<text x="328.1" y="326.5" text-anchor="end" class="cb">-2.20</text>
<text x="328.1" y="352.9" text-anchor="end" class="cb">-2.60</text>
<text x="328.1" y="376.1" text-anchor="end" class="cb">-3.00</text>
<text transform="translate(293.0,249) rotate(-90)" text-anchor="middle" class="cbl">log(Correlation scale [AU])</text>
<text x="157.3" y="12.4" text-anchor="middle" class="ti">2D Correlation scale</text>
<text x="526" y="12.9" text-anchor="middle" class="ti">Slab Correlation scale</text>
<text x="156.3" y="501.2" text-anchor="middle" class="al">X [AU]</text>
<text x="529.4" y="502.0" text-anchor="middle" class="al">X [AU]</text>
<text transform="translate(10.7,242.6) rotate(-90)" text-anchor="middle" class="al">Y [AU]</text>
<text transform="translate(378.9,243.6) rotate(-90)" text-anchor="middle" class="al">Y [AU]</text>
</svg>
</body></html>
